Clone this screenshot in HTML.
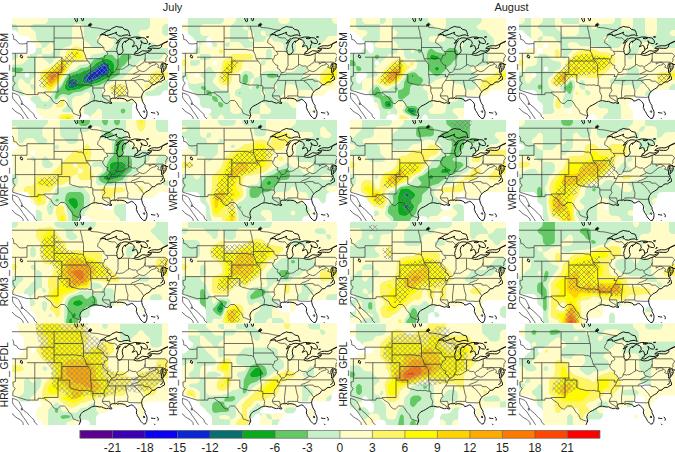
<!DOCTYPE html>
<html><head><meta charset="utf-8"><style>
html,body{margin:0;padding:0;background:#fff;}
body{width:675px;height:452px;overflow:hidden;}
svg{display:block;font-family:"Liberation Sans",sans-serif;}
</style></head><body>
<svg width="675" height="452" viewBox="0 0 675 452">
<defs>
<path id="geo" d="M-39.0 8.2 L76.5 8.2 L76.5 6.7 L77.9 7.0 L78.7 9.3 L81.8 9.7 L84.9 9.9 L87.2 10.3 L90.7 11.1 L93.4 11.7 L98.0 12.1 M0.5 74.8 L3.6 75.9 L5.5 76.7 L7.1 78.3 L8.2 80.6 L9.4 82.9 L10.6 85.6 L12.1 87.2 L15.6 89.9 L17.1 91.8 L19.5 94.1 L21.8 96.1 L22.6 98.8 L25.3 101.1 L26.8 103.0 M0.5 74.8 L0.3 77.9 L1.1 80.6 L3.6 83.7 L5.3 85.8 L7.9 88.3 L10.3 92.2 L11.4 93.7 L13.9 97.2 L16.4 101.1 L17.5 103.0 M-1.0 88.3 L-0.3 90.1 L1.3 91.0 L2.4 92.6 L5.1 94.5 L8.2 96.1 L11.0 99.1 L11.3 102.6 M9.4 84.8 L10.6 86.4 L9.2 86.6 L9.4 84.8Z M0.8 71.2 L0.5 72.1 L14.9 76.6 L26.0 76.6 L26.0 74.8 L32.5 74.8 L33.8 76.3 L38.6 79.4 L40.8 83.3 L43.1 85.2 L45.2 85.7 L46.2 84.8 L48.5 82.5 L52.4 82.5 L54.3 84.2 L55.8 86.8 L57.0 88.7 L59.7 91.4 L60.5 93.7 L61.6 95.7 L62.8 95.9 L64.7 96.8 L67.5 97.6 L68.8 97.4 M-4.3 8.2 L-4.3 12.1 L-2.2 14.2 L-0.7 15.2 L1.3 17.3 L1.7 19.8 L1.7 21.4 L4.4 22.1 L5.9 24.5 L7.5 25.6 L9.8 26.0 L13.7 25.6 L15.0 25.6 M15.0 25.6 L15.0 35.3 M15.0 23.7 L42.1 23.7 M15.0 25.6 L15.0 23.7 M42.1 8.2 L42.1 39.2 M-8.0 35.3 L15.0 35.3 M3.4 35.3 L3.4 58.1 M3.4 58.1 L0.9 58.5 L1.2 62.0 L1.2 62.8 L3.2 65.1 L0.9 68.6 L0.8 71.2 M15.0 39.2 L49.8 39.2 M22.8 39.2 L22.8 76.6 M3.4 54.6 L49.8 54.6 M49.8 39.2 L49.8 54.6 M46.2 54.6 L46.2 56.6 L46.0 56.6 L46.0 74.0 L32.2 74.0 L32.5 74.8 M46.2 56.6 L57.8 56.6 L57.8 64.1 M57.8 64.1 L59.3 64.7 L60.9 65.5 L63.2 65.9 L65.5 66.6 L68.2 67.2 L70.9 66.8 L72.5 67.2 L74.8 66.8 L77.5 67.6 L79.1 67.6 L80.8 68.0 M49.8 43.0 L76.0 43.0 M42.1 31.4 L63.6 31.4 M63.6 31.4 L67.5 32.2 L69.4 32.0 L71.5 33.4 L72.5 35.3 L73.3 37.2 L73.8 39.2 L74.1 40.7 L76.0 43.0 L76.7 43.4 L77.3 45.0 L78.7 46.5 L78.6 54.6 L78.6 56.6 L79.3 60.8 L79.1 67.6 M42.1 20.0 L71.1 20.0 M71.5 33.4 L71.5 22.5 L71.1 20.0 M71.1 20.0 L70.2 17.5 L69.8 14.0 L68.8 10.9 L68.5 8.2 M71.5 29.5 L91.8 29.5 M91.8 29.5 L89.1 26.8 L86.4 25.2 L85.6 24.7 L86.0 21.7 L87.6 19.8 L88.4 17.1 M91.8 29.5 L92.0 31.4 L94.0 33.4 L95.7 34.9 L95.7 36.3 L94.5 37.2 L92.6 37.6 L92.2 39.9 L91.0 41.6 L90.7 43.0 L91.8 44.6 L93.8 46.9 L95.9 47.5 L95.8 48.3 L95.1 50.0 L98.0 51.9 L98.4 53.5 L99.8 54.6 L98.4 56.6 L97.8 58.1 L96.9 60.1 L95.5 62.4 L94.2 64.3 L92.6 66.3 L92.2 68.2 L92.0 70.1 L93.0 72.8 L90.9 75.5 L90.3 77.9 L91.4 79.8 L94.9 81.7 L97.6 83.7 L99.2 85.2 M74.1 40.7 L89.8 40.7 L91.0 41.6 M78.6 56.6 L95.9 56.6 L95.0 58.5 L97.6 58.5 M80.8 68.0 L80.8 70.0 L80.8 74.0 L82.7 77.9 L82.1 81.7 L81.6 82.9 M80.8 70.0 L92.0 70.0 M90.3 77.9 L97.5 77.9 L98.3 81.0 M95.5 62.4 L118.5 62.4 M103.4 62.4 L103.8 62.8 L102.5 74.0 L102.6 77.9 L102.7 80.2 M113.5 62.4 L114.1 66.3 L115.1 70.7 L116.0 72.8 L115.6 75.9 L115.8 77.9 L116.4 79.0 L127.2 79.4 L129.6 78.9 M105.8 77.9 L115.8 77.9 M105.8 77.9 L106.2 80.6 M123.2 62.4 L122.4 63.5 L124.1 64.5 L126.5 66.6 L127.6 68.3 L129.4 70.1 L130.5 72.1 L131.9 73.8 M118.5 62.4 L123.2 62.4 M123.2 62.4 L125.9 61.6 L131.1 61.6 L131.6 61.8 L132.1 63.1 L136.5 63.2 L140.8 66.8 M118.5 62.4 L120.1 60.6 L121.6 60.3 L123.2 59.7 L125.5 58.7 L127.1 58.1 L127.8 57.4 L128.7 56.2 M151.2 56.4 L128.7 56.4 L120.9 56.2 M120.9 56.2 L103.9 56.1 L103.9 56.6 L98.4 56.6 M120.9 56.2 L124.0 54.6 L126.3 53.5 L127.6 52.6 M127.6 52.6 L126.3 51.9 L125.1 50.4 L125.1 49.1 M99.8 54.6 L101.9 54.3 L102.5 53.9 L103.8 52.7 L104.1 51.5 L106.0 51.0 L107.7 51.7 L108.7 51.0 L109.4 51.4 L111.2 50.8 L112.9 49.7 L114.3 48.6 L115.1 48.1 L116.4 47.7 L116.5 46.5 L117.8 46.5 L119.7 47.7 L121.2 48.1 L123.6 47.9 L124.3 48.5 L125.1 49.1 L126.9 47.5 L128.4 47.1 L129.1 45.9 L129.8 45.5 L131.9 44.6 L132.4 42.8 L132.9 41.5 L133.2 40.6 M104.1 51.5 L104.2 50.8 L105.4 48.8 L106.2 47.3 L106.0 45.5 L106.0 36.2 M94.0 33.4 L105.0 33.4 M106.0 36.2 L116.6 36.2 L121.8 36.5 M116.5 46.5 L116.5 36.5 M94.9 17.6 L96.9 19.4 L100.3 20.0 L102.7 19.8 L103.8 20.6 L105.0 21.9 L105.8 23.3 M133.2 44.1 L133.2 35.4 M133.2 44.1 L151.5 44.1 M151.5 44.1 L151.8 49.0 L154.3 49.0 M153.6 50.7 L151.0 50.7 M136.1 34.2 L136.1 35.3 L153.1 35.3 L155.7 37.8 L153.8 40.7 L154.1 43.0 L153.0 43.8 M155.7 37.8 L158.8 39.2 M137.2 44.1 L137.2 46.1 L139.0 45.2 L140.0 44.4 L142.2 44.2 L143.7 45.0 L144.0 45.7 M144.0 45.7 L143.5 46.7 L141.6 47.1 L139.2 47.9 L138.1 49.0 L136.5 50.0 L135.4 51.4 L133.6 52.7 L131.9 53.5 L130.5 53.6 L127.6 52.6 M144.0 45.7 L144.7 45.8 L145.8 46.6 L146.6 47.3 L146.4 48.1 L145.6 49.2 L146.8 49.6 L149.5 50.8"/>
<path id="coast" d="M76.7 8.2 L77.5 5.9 L78.7 5.1 L79.8 6.7 L78.7 7.8 L76.7 8.2Z M68.6 -0.7 L69.8 1.6 L70.2 2.8 L71.3 2.4 L71.7 -0.7 M62.4 -0.7 L63.2 2.0 L64.4 3.9 L65.5 3.2 L65.1 -0.7 M88.4 16.8 L91.4 15.2 L95.2 13.0 L98.2 12.1 L99.6 10.5 L103.1 9.0 L104.2 8.4 L106.9 9.0 L110.4 9.3 L112.3 11.3 L116.2 12.3 L117.2 14.8 L117.4 16.3 L118.3 17.9 L116.6 17.5 L116.0 16.8 L112.0 17.2 L109.4 18.2 L106.5 17.7 L105.3 16.6 L103.8 15.9 L104.7 14.1 L102.3 15.2 L99.1 16.4 L94.9 17.6 L93.0 17.5 L93.4 16.1 L88.4 17.0 L88.4 16.8Z M105.7 35.8 L106.9 36.8 L108.5 36.4 L110.1 34.9 L110.9 33.7 L111.2 32.3 L110.6 30.5 L110.2 27.7 L111.0 24.8 L111.8 24.1 L113.4 22.9 L113.5 24.5 L114.8 22.4 L116.0 22.3 L116.9 20.7 L116.9 20.3 L113.9 19.8 L111.0 20.0 L109.8 21.0 L107.9 20.8 L105.8 23.3 L104.2 25.5 L106.5 24.1 L108.3 22.5 L106.3 25.2 L105.9 27.0 L105.4 28.5 L104.6 31.3 L105.1 32.5 L104.9 33.9 L105.7 35.8Z M116.9 20.7 L117.9 21.2 L120.4 22.1 L121.9 23.5 L122.3 25.9 L121.6 26.6 L120.3 28.9 L122.1 28.1 L123.6 27.4 L124.9 28.1 L125.8 31.4 M125.8 31.4 L128.4 30.3 L128.5 28.5 L128.9 26.9 L129.9 25.6 L128.8 22.7 M128.8 22.7 L130.5 24.1 L131.5 25.3 L134.4 25.6 L135.6 24.7 L135.0 22.3 L132.9 20.0 L129.4 19.6 L125.5 19.0 L122.4 19.0 L120.1 19.6 L118.5 20.0 L116.9 20.3 M128.6 20.0 L126.7 20.8 L124.0 20.4 L125.1 19.8 L128.6 20.0Z M125.8 31.4 L125.5 33.0 L124.0 33.6 L123.2 34.1 L123.0 35.1 M121.8 36.5 L124.7 37.4 L128.6 37.2 L132.1 35.7 L134.9 34.8 L137.8 33.4 L139.4 31.9 L138.1 31.9 L135.0 33.2 L130.5 32.7 L128.0 34.2 L125.5 35.6 L123.0 35.1 L121.8 36.5Z M139.4 31.9 L138.8 30.4 M138.8 30.4 L140.2 30.1 L144.5 30.4 L146.9 30.4 L148.7 29.6 L149.9 27.9 L149.4 27.1 L148.8 26.7 L146.0 27.9 L142.3 27.7 L139.6 28.1 L137.6 28.9 L135.7 30.4 L138.8 30.4Z M149.4 27.1 L151.8 25.2 L155.3 23.7 L159.9 21.7 M148.8 26.7 L152.2 24.8 L155.3 23.3 L159.9 21.4 M136.7 26.4 L137.9 25.2 L138.3 26.0 L136.7 26.4Z M134.4 19.0 L136.3 18.7 L136.7 19.0 L135.2 19.2Z M9.0 36.6 L10.6 38.4 L10.2 40.1 L8.2 38.8 L9.0 36.6Z M131.9 92.6 L132.9 93.5 L132.3 94.5 L131.3 93.5 L131.9 92.6Z M66.7 103.0 L67.1 101.1 L68.8 97.4 L68.2 95.3 L67.8 93.3 L68.6 91.0 L69.2 90.1 L70.9 88.3 L73.3 87.2 L75.6 86.0 L78.1 84.4 L79.5 83.5 L81.6 82.9 L83.7 82.7 L87.6 83.5 L89.5 83.3 L91.8 84.4 L94.5 85.2 L96.3 84.6 L98.8 85.6 L100.0 85.0 L98.4 83.3 L98.0 81.5 L98.8 81.0 L100.3 80.2 L102.7 80.2 L103.8 80.4 L104.2 79.4 L105.4 80.8 L106.2 80.6 L107.3 80.2 L110.0 80.3 L112.7 81.0 L114.3 82.1 L114.7 83.1 L116.2 82.9 L118.2 81.9 L119.7 81.3 L121.2 82.1 L122.8 83.7 L124.0 85.2 L124.7 86.8 L124.3 89.5 L125.1 91.0 L125.3 92.2 L126.5 93.7 L127.4 95.3 L128.2 96.8 L129.0 98.0 L130.7 99.7 L131.7 100.5 L133.6 100.3 L134.0 99.1 L134.7 98.0 L135.0 95.3 L135.0 93.7 L134.0 91.4 L132.9 89.1 L133.1 87.7 L131.7 85.6 L130.5 83.3 L129.8 80.6 L129.6 78.9 L130.0 77.1 L130.5 75.5 L131.9 73.8 L133.6 72.1 L135.6 71.1 L138.3 69.4 L139.4 67.4 L140.8 66.8 L142.9 66.6 L143.5 65.5 L146.0 63.9 L148.7 63.9 L149.9 62.8 L152.5 61.5 L152.4 59.3 L151.4 57.4 L151.2 56.4 L150.7 55.0 L149.5 54.6 L149.5 53.1 L149.5 50.8 L148.9 48.8 L149.1 46.9 L150.3 45.0 L151.0 45.4 L150.3 47.3 L150.7 49.2 L151.4 51.2 L150.9 54.3 L152.2 52.7 L153.6 50.8 L154.3 49.0 L154.1 47.7 L153.0 46.1 L152.4 45.0 L154.1 45.7 L154.9 47.1 L156.7 45.5 L158.0 43.8 L158.4 41.9 L157.6 41.1 L158.8 40.7 M148.3 61.2 L149.9 60.4 L150.7 58.9 L149.9 57.7 M139.0 94.5 L141.4 94.9 L143.3 95.1 M144.9 93.3 L146.4 95.3 L146.0 97.2 M142.1 100.3 L143.7 101.9"/>
<ellipse id="lotw" cx="78.1" cy="6.8" rx="1.3" ry="1.1" fill="#111"/>
<pattern id="hatch" patternUnits="userSpaceOnUse" width="5" height="5"><path d="M-1,-1 L6,6 M6,-1 L-1,6" stroke="#7c7c8c" stroke-width="0.6" fill="none"/></pattern>
<clipPath id="c00"><rect x="0" y="0" width="156" height="101"/></clipPath>
<clipPath id="c01"><rect x="0" y="0" width="155" height="101"/></clipPath>
<clipPath id="c02"><rect x="0" y="0" width="156" height="101"/></clipPath>
<clipPath id="c03"><rect x="0" y="0" width="156" height="101"/></clipPath>
<clipPath id="c10"><rect x="0" y="0" width="156" height="101"/></clipPath>
<clipPath id="c11"><rect x="0" y="0" width="155" height="101"/></clipPath>
<clipPath id="c12"><rect x="0" y="0" width="156" height="101"/></clipPath>
<clipPath id="c13"><rect x="0" y="0" width="156" height="101"/></clipPath>
<clipPath id="c20"><rect x="0" y="0" width="156" height="101"/></clipPath>
<clipPath id="c21"><rect x="0" y="0" width="155" height="101"/></clipPath>
<clipPath id="c22"><rect x="0" y="0" width="156" height="101"/></clipPath>
<clipPath id="c23"><rect x="0" y="0" width="156" height="101"/></clipPath>
<clipPath id="c30"><rect x="0" y="0" width="156" height="101.5"/></clipPath>
<clipPath id="c31"><rect x="0" y="0" width="155" height="101.5"/></clipPath>
<clipPath id="c32"><rect x="0" y="0" width="156" height="101.5"/></clipPath>
<clipPath id="c33"><rect x="0" y="0" width="156" height="101.5"/></clipPath>
</defs>
<g transform="translate(12,18)" clip-path="url(#c00)">
<rect x="0" y="0" width="156" height="101" fill="#C8F0C8"/>
<path fill="#0C00F0" fill-rule="evenodd" d="M91.9,51.0 92.6,51.0 92.0,51.4Z"/>
<path fill="#0A28D2" fill-rule="evenodd" d="M91.0,47.5 93.5,47.2 95.1,49.0 95.6,51.5 94.5,54.0 93.0,55.2 84.0,60.0 78.0,62.2 75.5,63.2 74.4,62.5 74.5,61.4 77.4,56.5 80.0,54.6 84.0,53.0 87.0,49.7ZM92.0,50.9 92.0,51.4 92.5,51.2Z"/>
<path fill="#0A6E6E" fill-rule="evenodd" d="M92.4,44.0 95.1,44.5 96.3,45.5 97.2,47.0 97.9,51.5 96.7,56.0 94.5,57.7 85.5,62.2 76.4,65.5 73.5,65.6 71.1,64.0 70.7,61.5 72.0,57.5 77.0,54.0 81.6,51.5 86.5,46.9ZM91.5,47.3 87.3,49.5 84.0,53.0 80.0,54.6 77.4,56.5 74.3,62.0 75.0,63.1 77.5,62.5 83.0,60.5 94.0,54.5 95.5,52.0 95.5,49.9 93.9,47.5 93.0,47.1ZM62.1,60.5 64.0,60.7 65.5,62.3 65.9,64.0 65.9,67.5 65.4,68.5 63.8,69.5 59.5,70.2 57.0,70.0 56.0,69.0 56.1,64.0 57.5,61.8Z"/>
<path fill="#0AAA1E" fill-rule="evenodd" d="M92.2,41.0 94.5,40.7 98.0,41.6 99.9,43.0 101.6,45.0 102.0,47.0 102.0,54.5 101.1,57.0 98.0,59.0 86.5,64.6 73.0,68.5 67.4,71.0 62.0,72.2 56.0,73.1 54.0,72.0 53.0,70.5 52.8,68.5 54.0,63.5 57.0,59.0 61.5,56.6 66.5,55.4 70.5,53.4 76.5,51.6 79.5,49.7 84.0,45.0ZM92.5,44.0 86.5,46.9 81.6,51.5 77.0,54.0 72.0,57.5 70.7,61.5 71.1,64.0 73.1,65.5 76.0,65.6 85.0,62.5 94.5,57.7 96.7,56.0 97.9,52.0 97.4,47.5 95.5,44.8 94.0,44.0ZM62.5,60.4 58.0,61.6 56.3,63.5 55.8,67.5 56.0,69.0 57.0,70.0 59.0,70.2 63.8,69.5 65.7,68.0 66.0,64.5 65.6,62.5 64.4,61.0Z"/>
<path fill="#64C864" fill-rule="evenodd" d="M98.1,36.5 100.4,37.0 103.5,40.4 105.0,41.3 106.5,40.9 109.0,37.5 111.0,36.2 116.5,36.1 118.0,36.7 119.2,38.0 119.4,39.5 118.9,40.5 115.5,43.0 113.0,46.5 108.7,50.0 108.1,51.5 107.8,56.0 107.3,57.0 87.5,67.2 80.3,68.5 69.0,73.4 61.5,74.6 57.0,77.3 52.0,76.1 49.5,76.3 47.4,77.5 45.0,81.1 43.5,81.2 42.7,80.5 43.5,76.0 44.5,73.8 50.1,67.5 52.7,62.0 57.0,56.1 58.7,55.0 65.0,53.1 69.0,49.9 74.5,49.4 76.0,48.7 78.0,47.0 80.5,43.0 82.0,41.7 87.5,40.1 92.5,37.8ZM92.5,40.9 84.0,45.0 79.5,49.7 76.5,51.6 70.5,53.4 66.5,55.4 61.5,56.6 57.0,59.0 54.0,63.5 52.8,68.5 53.0,70.5 54.0,72.0 56.0,73.1 61.5,72.3 67.4,71.0 73.0,68.5 86.5,64.6 98.0,59.0 101.1,57.0 102.0,54.5 102.0,47.0 101.6,45.0 99.9,43.0 98.0,41.6 94.5,40.7ZM-1.0,50.0 -1.0,49.6 9.5,49.8 11.2,51.0 11.2,52.0 10.5,52.9 8.0,53.9 -1.0,54.0ZM32.0,87.0 33.5,86.8 34.0,87.0 33.9,87.5 32.5,87.7ZM109.6,91.0 111.5,90.6 113.0,91.6 113.4,93.5 112.4,95.0 110.5,95.4 109.0,94.4 108.6,92.5ZM56.2,92.0 57.0,91.6 57.2,92.0 56.5,92.5Z"/>
<path fill="#FFFCC8" fill-rule="evenodd" d="M-1.0,-1.0 36.0,-1.0 35.8,3.0 34.9,4.5 33.7,5.5 31.5,6.0 21.5,6.1 20.0,6.7 18.8,8.0 18.6,9.5 19.1,10.5 22.5,13.0 23.5,14.3 24.4,21.5 25.5,23.0 29.3,26.0 30.0,29.5 29.5,30.0 21.0,30.2 19.5,31.1 18.5,32.3 17.9,38.5 17.3,40.0 11.1,45.5 8.5,46.4 -1.0,46.4 -1.0,42.0 3.0,41.8 4.9,40.5 5.9,38.5 6.0,34.5 5.9,28.0 5.3,26.0 3.0,24.2 -1.0,24.0 -1.0,18.0 2.5,17.9 4.5,16.9 5.8,15.0 6.0,12.0 5.8,9.0 4.5,7.1 2.5,6.1 -1.0,6.0ZM138.0,-1.0 157.0,-1.0 157.0,6.0 153.5,6.1 152.0,6.7 150.7,8.0 150.1,10.0 150.1,14.5 151.1,16.5 153.0,17.8 157.0,18.0 157.0,30.0 153.0,30.0 147.0,29.8 145.0,28.5 143.0,25.5 141.5,24.4 134.3,23.5 133.0,22.5 130.5,19.0 126.8,16.0 126.6,14.5 128.0,12.7 129.5,12.1 135.0,11.8 137.3,10.0 138.0,7.5ZM62.3,6.5 64.0,6.1 68.0,6.1 69.5,6.4 71.0,7.6 71.9,10.0 72.0,19.5 72.4,21.5 73.5,23.0 77.0,25.5 79.0,28.5 80.3,29.5 82.0,29.9 86.0,29.9 87.7,29.5 89.0,28.4 89.5,27.0 89.2,26.0 85.5,22.9 84.5,21.0 85.6,19.0 88.0,18.1 97.5,18.0 100.0,18.7 101.3,20.0 101.9,21.5 102.0,25.5 101.5,27.7 100.5,29.0 93.9,34.0 87.0,35.8 82.0,36.1 80.0,36.7 78.0,39.0 76.3,44.5 75.0,46.0 67.6,47.0 66.0,48.0 63.2,51.5 57.5,52.9 52.7,59.0 49.0,65.5 44.4,69.5 42.4,73.0 38.2,78.5 37.2,81.5 36.0,83.0 33.5,83.8 30.5,83.3 29.1,82.0 27.5,78.6 24.5,78.0 21.5,78.1 20.0,78.7 16.0,83.2 14.5,83.4 13.5,82.9 12.2,81.0 11.5,74.3 10.5,73.0 7.5,71.0 6.2,69.0 6.0,64.5 6.5,62.3 8.0,60.8 9.5,60.6 10.9,61.5 14.0,65.3 16.0,65.9 18.0,65.8 18.7,62.0 22.5,59.0 23.8,57.0 24.1,39.5 24.7,38.0 26.0,36.7 30.0,36.0 30.0,30.0 34.0,29.3 37.1,25.5 38.5,24.6 40.0,24.8 41.5,26.3 41.9,28.0 41.9,32.0 41.6,33.5 40.5,34.9 38.5,35.9 30.5,36.0 30.0,36.5 30.3,39.0 31.1,40.5 34.5,43.0 36.9,45.5 38.5,45.9 40.0,45.0 42.5,41.6 47.4,38.5 47.9,37.5 48.2,33.0 49.5,31.0 51.5,29.8 57.0,28.3 59.1,27.0 60.0,25.0 60.1,9.5 61.0,7.6ZM62.5,28.9 54.7,33.0 54.1,34.5 53.8,38.0 53.2,39.0 46.0,42.7 39.0,49.1 30.5,52.7 28.7,54.5 28.1,56.5 28.2,58.5 29.8,63.5 30.5,69.0 36.5,72.9 38.9,73.5 40.5,72.5 43.7,68.0 48.0,64.2 51.5,58.0 55.4,53.0 58.0,47.8 60.3,45.0 63.0,43.7 70.0,43.2 71.5,42.4 72.7,41.0 73.3,39.0 73.2,37.0 72.2,33.5 71.0,31.5 67.5,29.4 64.5,28.7ZM18.5,66.0 18.0,66.5 18.1,68.0 19.0,70.4 20.5,71.4 22.5,70.9 23.5,69.0 22.9,67.5 21.0,66.3ZM31.5,74.4 31.0,75.0 31.5,75.9 34.1,76.0 34.6,75.5 33.9,74.5 32.5,74.1ZM155.8,36.0 157.0,36.0 157.0,54.0 153.5,53.9 148.0,52.6 145.5,52.7 140.5,54.3 139.0,55.5 138.2,57.0 138.0,65.5 138.5,66.0 141.0,65.8 147.0,64.2 151.0,60.0 153.5,58.6 157.0,58.4 157.0,61.5 153.0,62.0 149.5,66.4 145.2,68.5 141.9,71.5 139.5,72.6 134.0,74.0 132.8,75.0 133.1,76.5 136.5,79.0 137.6,80.5 138.1,86.5 138.7,88.0 143.0,91.5 143.9,93.5 144.0,102.0 138.0,102.0 137.8,99.0 136.5,97.0 133.5,95.0 131.0,91.5 127.5,89.0 125.0,85.5 123.0,84.2 100.5,84.0 98.0,83.3 95.0,79.5 90.7,76.0 90.1,74.0 90.2,70.0 92.2,68.0 103.5,62.3 109.8,60.5 112.0,59.4 115.0,55.5 118.5,53.0 121.0,49.5 124.5,47.0 127.0,43.5 128.3,42.5 130.5,42.0 147.0,41.8 149.0,40.5 152.0,36.7ZM104.0,66.5 98.5,68.0 97.2,69.0 96.9,70.0 97.6,71.0 101.0,73.5 103.5,77.0 106.5,78.0 110.5,77.9 112.9,76.5 113.9,74.5 113.9,69.5 112.9,67.5 111.0,66.2 106.5,66.0ZM134.5,66.5 133.1,67.5 132.8,69.0 134.0,69.9 135.5,70.0 137.5,68.5 138.0,66.5 137.5,66.0ZM74.7,74.0 76.0,74.0 77.5,75.0 78.0,76.5 77.9,80.0 77.0,82.5 73.5,85.0 72.2,87.0 72.0,102.0 62.1,102.0 61.8,98.5 60.7,97.0 58.5,96.2 54.0,96.0 50.5,96.1 48.0,97.0 46.6,99.0 46.5,102.0 6.0,102.0 6.1,99.5 6.7,98.0 10.5,95.0 12.3,92.5 14.0,90.7 16.0,90.1 26.0,90.1 33.0,91.4 37.5,90.6 39.5,89.2 41.5,85.4 46.0,83.3 49.5,79.1 51.5,78.4 53.5,79.2 55.2,81.0 55.5,86.0 54.4,88.5 50.3,92.0 49.8,93.0 51.5,93.9 54.5,94.5 59.5,94.3 60.8,93.5 61.3,92.5 60.0,85.5 60.1,82.0 60.7,80.5 63.5,78.2 69.5,77.6 72.7,75.0ZM50.5,81.5 48.5,84.6 44.4,87.0 44.1,88.0 44.5,88.9 46.0,89.4 50.5,88.3 52.0,87.0 52.4,85.0 52.2,82.0 51.5,81.2ZM85.6,91.0 87.5,90.6 89.6,92.5 90.0,94.5 90.0,102.0 82.0,102.0 78.0,102.0 78.2,99.0 79.5,97.0 83.0,94.5Z"/>
<path fill="#FFF564" fill-rule="evenodd" d="M62.2,29.0 64.0,28.7 67.0,29.2 69.5,30.3 71.0,31.5 72.2,33.5 73.2,37.0 73.3,39.0 72.7,41.0 71.5,42.4 70.0,43.2 63.0,43.7 60.3,45.0 58.0,47.8 55.4,53.0 51.5,58.0 48.0,64.2 43.7,68.0 40.5,72.5 39.0,73.5 36.5,72.9 30.5,69.0 29.8,63.5 28.2,58.5 28.1,56.5 28.7,54.5 30.5,52.7 39.0,49.1 46.0,42.7 53.2,39.0 53.8,38.0 54.1,34.5 54.7,33.0ZM63.0,32.0 61.5,32.5 60.2,34.0 60.2,38.5 61.0,39.5 62.5,40.2 67.0,40.4 69.5,39.6 69.9,38.5 69.6,37.5 65.5,33.0ZM50.5,42.4 47.1,44.5 40.5,50.7 33.0,54.0 30.7,56.0 30.6,58.5 33.4,63.0 34.5,68.5 36.0,70.1 38.5,71.4 40.0,70.7 42.9,67.0 46.8,63.5 50.1,57.5 54.6,52.0 55.2,49.5 55.2,44.5 53.5,42.7ZM143.9,53.0 147.5,52.6 153.5,53.9 157.0,54.0 157.0,58.4 152.5,59.0 150.5,60.5 148.5,62.9 146.0,64.5 140.0,65.9 138.5,66.0 138.0,65.5 138.0,58.5 138.4,56.5 140.5,54.3ZM146.0,56.2 145.0,57.0 144.9,58.0 146.0,59.1 147.2,59.0 148.3,58.0 148.6,57.0 147.5,56.1ZM103.9,66.5 106.5,66.0 111.0,66.2 112.5,67.1 113.8,69.0 113.9,74.0 113.0,76.4 111.0,77.8 107.0,78.0 105.0,77.8 103.6,77.0 101.0,73.5 97.6,71.0 96.9,70.0 97.2,69.0 98.5,68.0ZM134.4,66.5 137.5,66.0 138.0,66.5 137.5,68.5 136.0,69.8 134.3,70.0 132.8,69.0 133.1,67.5ZM50.5,81.5 51.5,81.2 52.2,82.0 52.4,85.0 52.0,87.0 50.5,88.3 46.5,89.3 45.5,89.4 44.5,88.9 44.1,88.0 44.4,87.0 48.5,84.6ZM53.8,96.0 59.0,96.3 61.3,97.5 62.0,99.0 62.1,102.0 60.0,102.0 59.8,99.5 59.0,98.3 57.4,97.5 55.0,97.4 50.5,98.6 49.6,100.0 49.5,102.0 46.5,102.0 46.6,99.0 48.0,97.0 50.5,96.1Z"/>
<path fill="#FFFA00" fill-rule="evenodd" d="M62.9,32.0 65.5,33.0 69.5,37.2 69.9,38.5 69.6,39.5 67.5,40.4 63.0,40.3 60.5,39.0 60.0,37.5 60.2,34.0 61.5,32.5ZM50.3,42.5 53.0,42.5 55.0,44.1 55.3,49.0 54.6,52.0 50.1,57.5 46.8,63.5 42.9,67.0 40.0,70.7 38.5,71.4 36.5,70.5 34.3,68.0 33.4,63.0 30.5,58.0 30.7,56.0 33.0,54.0 40.5,50.7 47.1,44.5ZM50.0,44.9 42.7,51.5 35.0,54.9 33.0,56.5 32.8,58.0 34.7,61.5 36.4,67.0 37.4,68.5 38.5,69.1 39.5,68.8 45.0,63.5 49.3,56.0 53.3,52.0 53.8,49.5 53.0,46.1 51.5,44.7ZM145.5,56.5 147.0,56.0 148.3,56.5 148.6,57.5 147.5,58.8 146.5,59.2 145.2,58.5 144.9,57.5ZM54.3,97.5 57.5,97.5 59.6,99.0 60.0,102.0 57.8,102.0 57.2,99.5 55.5,99.3 54.4,100.0 54.0,102.0 49.5,102.0 49.6,100.0 50.5,98.6Z"/>
<path fill="#FFD200" fill-rule="evenodd" d="M49.8,45.0 51.5,44.7 53.0,46.1 53.8,49.5 53.3,52.0 49.3,56.0 45.4,63.0 39.5,68.8 38.5,69.1 37.5,68.6 36.4,67.0 34.7,61.5 32.8,58.0 33.0,56.5 35.0,54.9 42.7,51.5ZM50.0,47.8 45.5,52.5 37.5,55.5 35.5,57.0 35.5,58.5 38.0,65.6 39.5,66.1 44.0,62.1 46.4,58.5 48.0,54.0 51.0,52.7 52.0,51.7 52.4,50.5 52.0,48.8 51.0,47.7ZM55.0,99.5 56.5,99.2 57.5,99.9 57.8,102.0 57.0,102.0 54.0,102.0 54.2,100.5Z"/>
<path fill="#FFAA00" fill-rule="evenodd" d="M49.7,48.0 51.0,47.7 51.8,48.5 52.4,50.0 52.0,51.7 51.0,52.7 48.0,54.0 46.4,58.5 44.0,62.1 40.0,65.7 39.0,66.2 38.4,66.0 37.0,63.5 35.3,58.0 35.5,57.0 37.5,55.5 45.5,52.5ZM40.0,56.5 38.7,57.0 38.0,58.0 38.5,61.5 39.5,62.9 41.0,61.3 44.5,58.0 44.8,57.0 44.0,56.1Z"/>
<path fill="#FF7800" fill-rule="evenodd" d="M39.9,56.5 43.5,56.0 44.7,56.5 44.5,58.0 41.2,61.0 39.5,62.9 38.5,61.6 38.0,58.0 38.7,57.0Z"/>
<path fill="#FFFFFF" fill-rule="evenodd" d="M-1.0,12.5 -1.0,12.0 3.5,12.4 5.0,13.5 7.0,16.5 8.3,17.5 14.5,18.1 16.5,19.0 19.0,22.5 22.5,25.0 23.6,26.5 23.9,32.0 23.6,33.5 22.5,34.9 19.5,36.0 -1.0,36.0ZM13.6,55.0 15.5,54.6 17.0,55.6 17.4,57.5 16.4,59.0 14.5,59.4 13.0,58.4 12.6,56.5ZM-1.0,72.5 -1.0,72.0 3.5,72.4 5.0,73.5 7.0,76.5 8.3,77.5 14.5,78.1 16.5,79.0 19.0,82.5 23.3,86.0 23.9,87.5 24.4,93.5 25.5,95.0 29.3,98.0 29.9,99.5 30.0,102.0 -1.0,102.0ZM152.3,72.5 157.0,72.0 157.0,102.0 124.5,102.0 120.0,102.0 120.0,88.5 121.1,85.5 123.0,84.2 129.7,83.5 131.0,82.5 133.0,79.5 135.0,78.2 147.5,77.6 149.0,76.5 151.0,73.5ZM68.3,96.5 73.0,96.0 76.0,96.7 77.6,98.5 78.0,102.0 76.0,102.0 66.0,102.0 66.4,98.5Z"/>

<polygon points="26.6,62.4 39.3,49.7 50.8,39.3 60.1,33.5 67.0,34.7 62.4,42.8 50.8,53.2 41.6,62.4 34.7,69.3 27.7,69.3" fill="url(#hatch)"/>
<polygon points="54.3,61.2 60.1,55.5 69.3,54.3 78.6,48.5 87.8,43.9 94.8,45.1 97.1,50.8 92.4,57.8 83.2,64.7 74.0,67.0 64.7,67.0 57.8,69.3 54.3,67.0" fill="url(#hatch)"/>
<polygon points="99.4,68.2 108.6,65.9 115.6,69.3 115.6,77.4 106.3,78.6 99.4,76.3" fill="url(#hatch)"/>
<polygon points="136.4,58.9 143.3,55.5 151.4,56.6 150.2,64.7 141.0,67.0 136.4,64.7" fill="url(#hatch)"/>
<use href="#geo" fill="none" stroke="#333" stroke-width="0.7" stroke-linejoin="round"/>
<use href="#coast" fill="none" stroke="#151515" stroke-width="1.0" stroke-linejoin="round"/>
<use href="#lotw"/>

</g>
<text x="8.3" y="102.7" transform="rotate(-90 8.3 102.7)" text-anchor="start" font-size="10.25" fill="#231f20">CRCM<tspan dx="1.5">_</tspan><tspan dx="1.5">CCSM</tspan></text>
<g transform="translate(182,18)" clip-path="url(#c01)">
<rect x="0" y="0" width="155" height="101" fill="#C8F0C8"/>
<path fill="#64C864" fill-rule="evenodd" d="M86.3,56.0 90.0,55.6 93.7,56.0 95.2,57.5 94.8,58.5 93.6,59.5 91.0,60.0 86.5,59.6 85.2,58.5 84.8,57.5ZM62.4,56.5 63.5,56.1 64.5,56.3 65.5,57.2 66.0,58.5 65.7,63.5 65.0,65.2 63.8,66.5 62.5,66.7 61.6,66.0 60.2,63.0 61.0,58.6ZM75.1,67.0 76.5,67.2 77.3,68.5 77.1,69.5 76.0,70.7 75.0,71.0 74.0,69.7 74.2,68.0ZM20.6,68.0 22.5,68.3 23.7,69.5 24.0,71.5 23.5,72.0 22.0,71.9 20.0,71.3 18.9,70.0 19.0,69.0ZM24.0,72.5 24.5,72.0 26.0,72.1 28.5,73.1 29.7,75.0 30.0,77.5 29.5,78.0 28.0,77.9 25.5,76.9 24.3,75.0ZM56.9,74.5 58.4,74.5 58.5,75.4 57.0,75.6ZM30.0,78.5 30.5,78.0 32.0,78.1 34.5,79.1 35.7,81.0 36.0,83.5 35.5,84.0 34.0,83.9 31.5,82.9 30.3,81.0ZM36.0,84.5 36.5,84.0 38.0,84.1 40.4,85.0 41.4,86.5 40.9,88.5 39.0,89.5 37.5,88.9 36.3,87.0Z"/>
<path fill="#FFFCC8" fill-rule="evenodd" d="M-1.0,-1.0 6.0,-1.0 5.9,14.0 5.6,15.5 4.4,17.0 2.5,17.9 -1.0,18.0ZM42.0,-1.0 54.0,-1.0 53.9,2.5 53.3,4.0 49.5,7.0 48.2,9.0 48.0,23.5 48.5,24.0 55.5,24.0 57.5,24.4 59.0,25.5 61.5,29.0 63.5,29.9 69.5,29.6 71.0,28.4 71.8,26.5 72.0,24.0 68.5,23.5 66.4,21.5 66.0,19.5 66.0,12.5 66.5,12.0 69.5,12.5 71.6,14.5 72.0,16.5 72.0,24.0 79.5,24.0 81.5,23.6 83.5,21.5 84.0,18.2 87.0,18.3 89.0,19.5 91.0,22.5 92.5,23.6 98.5,24.1 100.5,25.1 101.8,27.0 102.5,33.7 104.0,35.3 106.0,35.9 111.0,35.8 113.3,34.0 114.0,31.5 114.1,21.5 115.0,19.6 116.5,18.6 118.0,18.8 119.5,20.3 120.2,27.0 122.0,29.3 124.5,30.0 133.0,30.0 135.0,29.8 136.5,29.0 139.0,25.5 142.5,23.0 145.0,19.5 146.3,18.5 148.5,18.0 156.0,18.0 156.0,46.5 150.5,46.9 146.0,48.6 138.6,56.0 138.1,57.5 138.0,60.0 138.2,63.0 139.0,65.2 140.5,66.9 142.5,67.5 146.5,67.5 148.5,67.0 150.4,65.5 152.5,62.3 154.0,61.6 156.0,61.5 156.0,102.0 120.0,102.0 120.0,90.0 112.5,90.0 110.5,89.6 109.0,88.5 106.0,84.7 104.5,84.1 98.5,83.6 97.1,82.5 96.5,81.0 97.5,79.1 101.3,76.0 101.9,74.0 102.2,69.0 103.1,67.5 104.5,66.4 106.5,66.0 111.0,66.2 113.0,67.5 116.0,71.3 117.5,71.9 120.5,72.0 134.5,71.9 136.4,71.0 137.4,69.5 135.5,62.0 134.5,60.5 133.0,60.0 123.5,59.9 121.0,58.4 120.5,57.0 121.0,55.6 124.4,53.0 125.4,51.5 124.9,49.5 123.0,48.2 118.5,48.0 116.5,48.4 115.0,49.5 112.5,53.0 110.0,53.9 100.0,53.9 92.5,52.5 84.0,53.0 80.1,54.5 76.5,58.9 73.5,60.0 72.5,60.0 72.0,59.5 71.5,56.5 69.8,54.5 66.5,53.1 63.0,52.8 60.0,55.0 58.4,58.0 58.0,63.5 59.1,69.0 58.2,70.0 54.0,72.0 52.7,74.5 53.0,76.5 54.0,78.0 58.5,80.1 59.8,81.5 59.8,93.0 58.9,94.5 57.5,95.6 52.5,96.0 50.0,95.3 48.2,93.0 48.0,76.5 47.5,74.3 46.5,73.1 45.0,72.2 40.0,71.9 38.0,71.3 31.1,64.5 30.6,62.5 33.7,58.5 34.0,56.0 33.2,54.5 31.0,52.5 28.4,49.0 27.0,48.5 25.5,49.1 23.0,52.5 18.8,56.0 18.6,57.5 19.1,58.5 23.0,61.7 23.3,62.5 22.8,63.5 21.0,64.4 14.0,65.9 9.5,65.9 7.5,64.9 6.2,63.0 5.9,57.5 5.0,55.6 3.0,54.2 -1.0,54.0 -1.0,48.0 3.0,47.5 3.8,46.5 4.2,45.0 3.8,43.5 3.0,42.5 -1.0,42.0 -1.0,24.0 2.5,24.1 4.0,24.7 7.5,29.0 11.0,31.5 13.5,34.9 15.0,35.7 17.5,36.0 18.0,35.5 18.1,27.5 19.1,25.5 21.5,24.1 29.5,24.0 30.0,23.5 29.5,20.5 28.0,18.7 26.5,18.1 21.0,17.8 19.0,16.4 18.0,13.5 18.1,10.0 18.7,8.0 20.0,6.7 22.0,6.1 37.0,6.0 39.5,5.6 41.6,3.5ZM44.5,24.5 43.1,25.5 42.7,27.0 44.3,29.0 46.0,29.2 47.5,27.5 48.0,24.5 47.5,24.0ZM54.5,36.0 50.3,36.5 46.8,39.5 43.0,41.2 41.5,42.6 40.5,45.0 39.5,52.0 37.8,56.0 36.6,61.5 36.8,63.5 38.5,65.4 40.5,66.6 43.5,67.3 45.5,67.3 47.5,66.4 48.8,65.0 49.4,63.0 50.0,57.0 51.5,55.7 56.0,54.3 59.0,51.5 59.8,50.0 60.1,45.5 61.1,43.5 63.5,42.1 69.5,41.6 71.4,39.5 70.9,37.5 68.5,36.1ZM80.5,42.5 78.8,44.0 78.6,45.5 80.0,47.2 82.0,47.2 83.5,45.5 84.0,42.5 83.5,42.0ZM86.0,30.8 84.7,32.0 84.1,33.5 84.0,41.5 84.5,42.0 87.6,41.5 88.9,40.5 89.8,39.0 89.9,33.5 88.4,31.0 87.0,30.5ZM116.5,78.4 114.6,80.5 115.0,82.4 119.3,86.0 120.0,90.0 123.6,89.5 125.0,88.4 125.9,86.5 125.9,82.0 125.3,80.0 124.0,78.7 122.5,78.1ZM9.5,42.2 8.5,43.0 7.9,44.5 8.0,46.1 9.0,47.5 12.0,48.0 15.7,47.5 16.9,46.5 17.7,45.0 18.0,42.5 17.5,42.0ZM18.5,36.0 18.0,36.5 18.0,40.5 18.0,41.5 18.5,42.0 26.0,41.9 28.4,41.0 29.2,40.0 29.4,38.5 27.5,36.4 25.5,36.0ZM30.5,24.0 30.0,24.5 30.1,26.0 31.1,28.5 32.5,29.3 34.3,28.5 35.3,27.0 34.9,25.5 33.0,24.3ZM38.5,31.0 37.2,32.0 36.7,33.5 37.7,35.0 39.5,35.4 40.9,34.5 41.3,33.0 40.0,31.3ZM96.0,-1.0 108.0,-1.0 107.9,2.5 106.9,4.5 105.5,5.6 104.0,5.9 98.5,5.6 96.4,3.5ZM150.0,-1.0 156.0,-1.0 156.0,6.0 153.0,5.8 151.1,4.5 150.1,2.5ZM61.6,7.0 63.5,6.6 65.3,8.0 66.0,11.5 65.0,12.0 62.5,11.5 61.0,10.4 60.6,8.5ZM79.6,13.0 81.5,12.6 83.3,14.0 84.0,17.5 83.0,18.0 80.5,17.5 79.0,16.4 78.6,14.5ZM69.8,60.5 71.5,60.0 72.0,60.5 72.0,61.5 70.2,69.5 69.0,71.2 67.5,70.9 66.6,69.0 68.5,62.2ZM91.6,67.0 93.5,66.6 95.0,67.6 95.4,69.5 94.4,71.0 92.5,71.4 91.0,70.4 90.6,68.5ZM80.3,73.0 82.0,72.8 83.4,74.5 83.2,76.0 82.0,77.2 80.5,77.4 78.8,76.0 78.9,74.5ZM79.6,85.0 81.0,84.5 82.5,85.1 85.0,88.5 88.9,91.5 89.4,93.5 87.7,95.5 85.5,96.0 78.5,96.0 78.0,95.5 78.1,87.5ZM19.5,96.0 26.5,96.1 28.0,96.7 29.3,98.0 29.9,99.5 30.0,102.0 23.5,102.0 12.0,102.0 12.2,99.0 13.6,97.0 15.5,96.1ZM73.5,96.0 77.5,96.0 78.0,96.5 78.0,102.0 71.0,102.0 66.0,102.0 66.4,98.5 67.5,97.1 69.0,96.2ZM37.6,97.0 39.5,96.6 41.3,98.0 41.9,99.5 42.0,102.0 40.5,102.0 36.0,102.0 36.2,99.0Z"/>
<path fill="#FFF564" fill-rule="evenodd" d="M38.5,31.0 40.0,31.3 41.3,33.0 41.0,34.3 40.0,35.2 38.5,35.4 36.8,34.0 36.9,32.5ZM54.0,36.0 68.5,36.1 70.9,37.5 71.4,39.5 69.5,41.6 63.5,42.1 61.1,43.5 60.1,45.5 59.9,49.5 59.4,51.0 56.0,54.3 52.0,55.5 50.4,56.5 49.7,58.0 49.5,62.5 49.0,64.5 48.0,66.0 46.5,67.0 44.5,67.4 41.0,66.7 39.0,65.8 36.8,63.5 36.6,62.0 37.8,56.0 39.7,51.5 40.5,45.0 41.5,42.6 43.0,41.2 46.8,39.5 50.3,36.5ZM50.5,42.4 44.5,44.2 43.4,45.5 42.5,48.5 42.0,52.0 42.2,62.0 43.5,63.6 44.5,63.9 45.5,63.6 46.3,62.0 46.5,58.0 47.2,56.0 49.5,53.6 53.0,51.3 53.8,50.0 54.0,46.5 53.6,44.5 52.4,43.0ZM-1.0,42.5 -1.0,42.0 1.5,42.0 3.5,43.0 4.2,45.0 3.5,47.0 2.0,47.9 -1.0,48.0ZM153.3,46.5 156.0,46.5 156.0,49.5 153.0,49.7 150.5,51.0 145.5,55.6 141.5,60.1 140.7,61.5 140.7,63.0 142.0,64.3 146.5,64.2 148.0,63.2 150.0,60.0 153.0,58.6 156.0,58.5 156.0,61.0 156.0,61.5 154.0,61.6 152.5,62.3 150.0,66.0 148.5,67.0 146.5,67.5 141.0,67.2 139.2,65.5 138.2,63.0 138.1,57.5 139.0,55.5 146.5,48.3 149.5,47.1Z"/>
<path fill="#FFFA00" fill-rule="evenodd" d="M50.1,42.5 52.0,42.7 53.6,44.5 54.0,46.5 53.8,50.0 53.0,51.3 49.5,53.6 47.2,56.0 46.5,58.0 46.3,62.0 45.6,63.5 44.5,63.9 43.5,63.6 42.2,62.0 42.0,52.0 42.5,48.5 43.4,45.5 44.5,44.2ZM45.5,49.2 44.8,50.0 44.7,51.5 45.5,52.4 46.3,52.0 47.1,51.0 47.1,50.0 46.5,49.3ZM152.1,50.0 156.0,49.5 156.0,58.5 153.0,58.6 151.0,59.2 149.6,60.5 147.5,63.7 145.0,64.4 142.5,64.4 141.0,63.6 140.6,62.5 141.0,60.9 145.6,55.5Z"/>
<path fill="#FFD200" fill-rule="evenodd" d="M45.1,49.5 46.0,49.1 47.0,49.8 47.1,51.0 46.5,51.9 45.5,52.4 44.8,52.0 44.6,51.0Z"/>
<path fill="#FFFFFF" fill-rule="evenodd" d="M-1.0,-1.0 6.0,-1.0 5.8,3.0 4.4,5.0 2.5,5.9 -1.0,6.0ZM-1.0,12.0 2.5,12.1 4.4,13.0 7.0,16.5 10.5,19.0 13.0,22.5 16.9,25.5 17.5,27.0 17.0,28.4 13.0,31.5 11.0,34.5 9.0,35.8 -1.0,36.0ZM25.6,19.0 27.0,18.5 28.0,18.8 29.8,21.0 29.9,26.5 28.4,29.0 27.0,29.5 26.0,29.2 24.2,27.0 24.1,21.5ZM31.6,43.0 33.5,42.6 35.0,43.6 35.4,45.5 34.4,47.0 32.5,47.4 31.0,46.4 30.6,44.5ZM13.6,55.0 15.5,54.6 17.0,55.6 17.4,57.5 16.4,59.0 14.5,59.4 13.0,58.4 12.6,56.5ZM-1.0,60.5 -1.0,60.0 3.0,60.2 5.3,62.0 5.9,63.5 6.5,69.7 7.5,71.0 11.0,73.5 13.5,77.0 17.3,80.0 17.9,82.0 18.1,86.5 19.1,88.5 21.5,89.9 27.0,90.2 29.0,91.6 29.5,93.0 29.0,94.4 25.0,97.6 24.1,99.5 24.0,102.0 -1.0,102.0ZM151.5,72.0 156.0,72.0 156.0,102.0 118.5,102.0 114.0,102.0 114.1,88.0 115.0,85.5 119.0,82.5 121.5,79.0 124.0,78.1 141.0,77.8 143.0,76.5 146.0,72.7 148.0,72.1ZM128.0,90.8 126.6,92.5 126.8,94.0 128.5,95.4 130.0,95.2 131.4,93.5 131.2,92.0 129.5,90.6Z"/>

<polygon points="39.3,63.6 38.1,57.8 41.6,52.0 46.2,45.1 52.0,41.1 56.6,42.8 54.3,48.5 48.5,54.3 43.9,61.2 41.6,64.7" fill="url(#hatch)"/>
<use href="#geo" fill="none" stroke="#333" stroke-width="0.7" stroke-linejoin="round"/>
<use href="#coast" fill="none" stroke="#151515" stroke-width="1.0" stroke-linejoin="round"/>
<use href="#lotw"/>

</g>
<text x="177.2" y="103.0" transform="rotate(-90 177.2 103.0)" text-anchor="start" font-size="10.25" fill="#231f20">CRCM<tspan dx="1.5">_</tspan><tspan dx="1.5">CGCM3</tspan></text>
<g transform="translate(350,18)" clip-path="url(#c02)">
<rect x="0" y="0" width="156" height="101" fill="#C8F0C8"/>
<path fill="#0A6E6E" fill-rule="evenodd" d="M37.7,85.0 39.0,84.8 40.0,85.8 40.2,87.0 39.4,88.0 38.0,88.1 36.8,87.0 36.9,86.0ZM61.3,91.5 63.0,91.3 64.2,92.0 64.5,93.5 63.5,94.5 62.0,94.6 60.3,93.5 60.1,92.5Z"/>
<path fill="#0AAA1E" fill-rule="evenodd" d="M80.9,37.0 82.5,36.7 88.0,38.1 89.2,39.5 88.0,41.3 85.5,42.0 81.5,41.6 80.0,39.5 80.2,38.0ZM85.7,49.0 87.5,48.6 89.0,49.7 89.3,51.0 88.0,52.7 86.5,53.0 84.9,51.5 84.8,50.0ZM61.9,57.0 63.0,56.9 63.8,57.5 63.5,59.1 62.5,59.3 61.3,58.5 61.3,57.5ZM67.3,62.5 68.0,62.1 69.0,62.4 69.0,63.5 67.9,63.5ZM27.0,74.0 27.5,74.8 27.0,75.2 26.6,75.0ZM37.0,82.5 39.5,82.5 41.4,85.0 41.7,86.5 41.4,88.0 39.5,89.6 38.0,89.7 36.0,89.0 34.4,87.0 34.4,85.5 35.0,84.0ZM38.0,84.9 36.9,86.0 36.8,87.0 37.8,88.0 39.0,88.2 40.0,87.4 40.1,86.0 39.0,84.8ZM62.4,89.5 65.1,90.5 66.2,92.0 66.3,93.5 65.6,95.0 64.4,96.0 63.0,96.3 61.5,96.0 57.9,94.0 56.9,92.5 58.5,90.6ZM61.5,91.4 60.1,92.5 60.3,93.5 62.0,94.6 63.5,94.5 64.5,93.5 64.2,92.0 63.0,91.3Z"/>
<path fill="#64C864" fill-rule="evenodd" d="M98.3,30.5 100.0,30.1 104.0,30.1 106.5,31.6 107.6,33.0 108.0,34.5 107.9,38.0 107.3,40.0 103.5,43.0 101.0,46.5 97.5,49.0 94.5,53.0 89.8,57.0 88.0,58.0 86.5,58.2 85.0,57.7 83.5,56.5 79.0,52.5 78.1,50.5 77.9,45.5 76.6,39.0 77.1,35.5 78.3,32.5 80.0,30.8 81.5,30.6 86.1,34.0 93.0,35.6 95.0,34.5 97.0,31.5ZM81.0,36.9 79.9,39.0 80.4,40.5 81.3,41.5 84.0,42.0 87.7,41.5 89.1,40.0 88.5,38.5 82.5,36.7ZM86.0,48.8 85.0,49.7 84.7,51.0 86.0,52.7 87.5,53.0 89.1,51.5 89.2,50.0 87.5,48.6ZM68.8,31.0 70.3,31.0 71.4,32.5 71.2,34.0 70.3,35.0 69.0,35.2 68.1,34.0 68.0,32.2ZM25.7,37.0 27.5,36.6 29.0,37.7 29.3,39.0 28.0,40.8 26.5,41.3 24.8,40.0 24.6,38.5ZM-1.0,42.5 -1.0,42.0 1.5,42.0 4.0,42.7 5.5,44.5 6.0,47.5 5.5,48.0 -1.0,48.0ZM6.0,48.5 6.5,48.0 8.0,48.1 10.4,49.0 11.4,50.5 10.9,52.5 9.0,53.5 7.5,52.9 6.3,51.0ZM61.6,54.5 64.0,54.3 66.0,55.0 68.5,57.9 72.0,60.0 73.0,61.5 73.1,63.0 71.5,65.5 69.0,67.2 63.0,66.4 61.5,67.1 60.1,69.5 59.6,75.5 58.5,77.0 57.0,78.0 52.5,81.4 50.5,81.6 49.0,81.0 48.1,79.5 48.0,72.5 48.5,72.0 51.5,71.5 53.0,70.4 53.9,68.5 54.2,64.0 55.8,61.0 56.9,57.0 58.5,55.6ZM62.0,56.9 61.3,57.5 61.3,58.5 63.0,59.4 63.9,58.5 63.8,57.5 63.0,56.9ZM67.5,62.3 67.3,63.0 67.9,63.5 69.0,63.5 69.0,62.4ZM26.0,69.0 27.5,68.8 28.9,70.0 32.5,77.4 34.0,77.9 39.0,78.2 40.5,79.0 42.0,80.7 43.0,83.5 43.0,88.0 42.0,90.0 39.9,91.0 36.0,91.0 33.5,90.3 31.9,88.0 30.6,82.5 29.6,80.5 25.0,78.7 23.5,77.4 22.9,76.0 22.9,74.5 24.8,70.5ZM27.0,74.0 26.6,75.0 27.5,75.0ZM37.0,82.5 35.0,84.0 34.4,85.5 34.4,87.0 36.0,89.0 39.0,89.7 40.5,89.1 41.4,88.0 41.6,85.5 40.0,82.8 38.5,82.3ZM44.8,69.5 46.0,69.2 47.5,70.0 47.9,71.5 47.5,72.0 45.0,71.3 44.4,70.5ZM59.2,88.0 64.5,87.9 66.5,88.8 67.8,90.5 68.3,93.5 67.5,96.0 66.1,97.5 64.0,98.2 62.0,97.7 57.5,95.5 54.8,93.5 54.7,92.0 56.0,89.8 57.5,88.5ZM62.5,89.5 58.5,90.6 56.9,92.5 57.9,94.0 61.0,95.7 62.5,96.3 64.0,96.2 65.5,95.1 66.3,93.5 66.2,92.0 65.5,90.9 64.0,89.8Z"/>
<path fill="#FFFCC8" fill-rule="evenodd" d="M-1.0,-1.0 6.0,-1.0 6.1,8.0 7.0,10.4 9.5,11.9 15.0,12.2 17.0,13.6 17.5,15.0 17.0,16.4 13.0,19.5 11.0,22.5 9.0,23.8 -1.0,24.0ZM12.0,-1.0 30.0,-1.0 30.0,5.5 30.5,6.0 33.0,5.7 35.0,4.4 35.9,2.5 36.0,-1.0 42.0,-1.0 42.2,9.0 43.5,11.0 46.9,13.5 47.5,15.0 46.5,16.9 43.1,19.5 42.6,21.5 43.6,23.0 46.5,25.0 47.8,27.5 48.0,29.5 47.5,30.0 28.5,30.0 25.6,29.0 24.6,27.5 24.8,26.0 29.0,22.5 29.9,20.5 30.0,6.5 29.5,6.0 16.5,6.0 14.5,5.6 12.4,3.5ZM78.0,-1.0 96.0,-1.0 95.9,8.0 94.9,10.5 93.5,11.6 92.0,11.9 88.0,11.9 86.0,11.3 83.0,7.5 78.7,4.0 78.1,2.5ZM132.0,-1.0 157.0,-1.0 157.0,52.5 152.0,52.6 148.2,53.5 146.0,54.6 142.5,57.9 134.5,60.3 132.0,63.0 130.6,68.5 131.0,70.5 132.0,72.0 134.0,73.1 136.0,73.1 138.0,72.0 140.0,68.7 141.0,67.8 147.0,66.0 151.8,62.0 157.0,61.5 157.0,102.0 108.0,102.0 107.9,99.5 107.3,98.0 102.8,94.0 102.6,92.5 103.1,91.5 104.5,90.4 106.0,90.1 121.0,90.0 123.5,89.6 125.2,88.0 125.4,86.5 124.4,85.0 122.0,83.4 119.0,79.5 117.5,78.4 115.5,78.0 111.0,78.2 109.0,79.5 107.0,82.5 105.7,83.5 99.0,84.2 97.1,85.5 96.1,87.5 95.8,93.0 94.0,95.3 91.5,96.0 81.0,95.8 79.1,94.5 78.6,92.5 79.6,91.0 82.9,88.5 83.4,86.5 82.5,85.1 78.7,82.0 78.1,80.5 77.6,74.5 76.5,73.0 73.5,70.9 72.8,69.5 73.5,68.0 75.0,66.6 76.5,66.1 81.5,65.6 85.8,62.0 93.5,60.1 97.0,60.0 99.0,60.2 100.4,61.0 103.0,64.5 104.5,65.6 110.5,66.1 112.0,66.7 115.0,70.5 116.5,71.6 122.0,71.9 123.5,71.6 124.9,70.5 125.9,68.0 125.9,57.5 125.0,55.5 121.0,52.4 120.5,51.0 120.8,50.0 122.0,48.7 123.5,48.1 134.0,47.9 135.5,47.6 136.9,46.5 137.9,44.0 138.2,33.0 139.5,31.0 143.0,28.5 143.9,26.0 143.9,22.0 143.3,20.0 139.0,16.5 136.5,13.0 134.5,12.1 129.0,11.8 126.8,10.0 126.6,8.5 127.1,7.5 130.5,5.0 131.6,3.5ZM80.3,18.5 83.5,18.0 91.5,18.0 93.5,18.4 94.9,19.5 95.5,21.0 94.9,22.5 93.7,23.5 90.5,24.0 82.5,24.0 80.5,23.6 79.1,22.5 78.5,21.0 79.1,19.5ZM109.7,25.0 111.5,24.6 113.0,25.7 113.4,27.5 112.3,29.0 110.5,29.1 109.0,27.7 108.7,26.5ZM48.0,30.5 48.5,30.0 50.5,30.2 53.0,31.6 53.9,33.5 54.3,38.5 56.5,40.9 58.0,41.4 63.0,40.6 66.0,42.0 67.4,45.0 66.4,50.0 64.6,51.5 57.0,54.4 55.8,56.0 54.0,60.0 50.9,63.0 49.0,66.0 42.2,68.5 38.5,71.8 34.0,71.8 28.5,66.9 26.5,66.3 24.5,66.7 23.0,68.0 16.9,76.5 15.5,77.4 14.0,77.2 12.7,76.0 12.1,74.0 12.0,64.5 12.7,62.0 15.0,60.2 21.0,59.8 27.0,58.0 27.8,57.0 27.9,56.0 27.2,54.5 24.8,52.0 24.6,50.5 25.1,49.5 29.0,46.5 31.5,43.6 35.0,40.5 38.0,36.7 40.0,36.1 44.5,35.9 46.4,35.0 47.7,33.0ZM48.0,41.0 45.0,42.0 43.0,43.4 33.4,53.0 30.0,59.0 25.8,62.5 26.2,63.5 33.0,67.3 37.5,68.2 40.0,67.8 47.5,64.7 52.9,59.0 56.0,53.1 59.8,49.5 59.7,48.0 57.0,47.0 52.5,41.6 50.5,40.7ZM61.5,44.5 60.5,45.5 60.0,47.5 60.5,47.9 62.5,47.5 63.5,46.5 63.7,45.0 63.0,44.3ZM61.7,31.0 63.0,30.8 63.9,32.0 64.0,33.8 63.2,35.0 61.7,35.0 60.6,33.5 60.8,32.0ZM18.0,84.0 25.0,84.0 27.0,84.7 28.3,87.0 29.5,93.5 28.5,94.9 27.0,95.8 21.5,96.1 19.6,97.0 18.2,99.0 18.0,102.0 10.5,102.0 -1.0,102.0 -1.0,96.0 2.5,95.9 4.0,95.3 7.5,91.0 11.0,88.5 13.5,85.0 15.0,84.2ZM45.6,84.5 47.0,84.0 51.0,84.1 53.0,84.5 54.5,85.5 54.9,87.0 52.6,91.5 52.5,93.5 54.2,95.5 59.3,98.0 61.1,99.5 61.5,102.0 58.5,102.0 58.4,101.5 58.2,100.0 57.4,99.0 51.5,97.1 50.5,97.5 49.9,98.5 49.5,102.0 46.5,102.0 46.6,98.0 47.5,93.5 44.9,89.0 44.8,86.5ZM50.0,86.9 49.5,88.0 50.5,88.6 51.4,87.5 51.0,86.9ZM37.5,93.5 39.0,93.1 40.5,93.4 40.9,94.0 40.3,95.0 39.0,95.5 38.0,95.2 37.3,94.5Z"/>
<path fill="#FFF564" fill-rule="evenodd" d="M48.0,41.0 50.5,40.7 52.5,41.6 57.0,47.0 59.7,48.0 59.8,49.5 56.0,53.1 52.9,59.0 47.5,64.7 45.5,65.8 38.0,68.2 33.5,67.5 26.2,63.5 25.8,62.5 30.0,59.0 33.4,53.0 43.0,43.4 45.0,42.0ZM49.0,44.4 42.5,47.5 39.5,51.2 36.0,54.0 34.5,56.0 31.6,62.0 31.5,63.0 34.0,65.1 37.5,66.4 40.0,66.3 45.5,64.4 52.4,57.5 54.7,51.5 54.9,50.0 52.0,44.8 50.5,44.0ZM61.5,44.5 63.0,44.3 63.7,45.0 63.5,46.5 62.5,47.5 60.5,47.9 60.0,47.5 60.5,45.5ZM153.3,52.5 157.0,52.5 157.0,55.6 152.5,56.0 151.7,56.5 151.5,57.5 153.0,58.2 157.0,58.4 157.0,61.5 153.5,61.6 151.5,62.1 147.0,66.0 140.7,68.0 138.8,71.0 137.0,72.7 135.0,73.3 133.0,72.7 131.5,71.4 130.7,69.5 130.7,67.5 131.5,64.2 132.6,62.0 135.5,59.8 142.5,57.9 145.5,55.0 147.5,53.8ZM135.0,67.3 134.3,68.5 135.0,69.3 135.6,69.0 135.9,68.0 135.5,67.3ZM140.0,62.3 139.2,63.5 140.0,64.0 141.5,63.9 142.5,63.1 142.4,62.5 141.5,62.0ZM49.7,87.0 51.1,87.0 51.4,87.5 50.8,88.5 50.0,88.5 49.5,88.0ZM50.5,97.5 52.0,97.2 57.4,99.0 58.4,100.5 58.5,102.0 58.0,102.0 49.5,102.0 49.7,99.0Z"/>
<path fill="#FFFA00" fill-rule="evenodd" d="M48.8,44.5 50.5,44.0 52.0,44.8 54.9,50.0 54.7,51.5 52.5,57.2 46.0,64.1 40.5,66.2 38.0,66.5 34.0,65.1 31.5,63.0 31.6,62.0 34.3,56.5 35.5,54.5 39.2,51.5 42.5,47.5ZM45.0,48.3 43.5,49.3 40.8,52.5 36.8,56.0 35.2,61.0 35.2,63.0 36.5,64.2 39.0,64.9 41.5,64.4 45.5,62.8 50.7,57.5 51.4,56.0 52.1,51.0 51.2,49.0 49.5,48.1ZM152.5,56.0 157.0,55.6 157.0,58.4 156.5,58.4 152.0,57.9 151.4,57.0ZM139.7,62.5 141.0,62.0 142.0,62.2 142.6,63.0 142.0,63.7 139.9,64.0 139.2,63.5ZM134.8,67.5 135.7,67.5 135.5,69.1 134.5,69.0Z"/>
<path fill="#FFD200" fill-rule="evenodd" d="M44.6,48.5 49.0,48.0 51.0,48.8 52.1,51.0 51.6,55.5 50.7,57.5 45.5,62.8 42.0,64.3 39.5,64.9 37.5,64.6 35.5,63.4 35.1,61.5 36.8,56.0ZM45.0,50.7 42.0,54.0 38.9,56.5 38.1,58.0 37.8,61.0 38.2,62.5 39.5,63.1 41.5,62.5 45.0,60.8 49.0,56.5 49.1,54.5 48.3,52.0 46.5,50.7Z"/>
<path fill="#FFAA00" fill-rule="evenodd" d="M44.5,51.0 46.0,50.6 47.9,51.5 48.9,53.5 49.1,56.0 48.3,57.5 45.0,60.8 41.6,62.5 39.5,63.1 38.2,62.5 37.8,61.0 38.1,58.0 38.9,56.5 42.0,54.0ZM44.0,56.0 43.4,57.0 43.6,57.5 45.0,57.5 45.5,56.9 45.5,55.9 45.0,55.5Z"/>
<path fill="#FF7800" fill-rule="evenodd" d="M44.0,56.0 45.0,55.5 45.5,55.9 45.0,57.5 43.6,57.5 43.4,57.0Z"/>
<path fill="#FFFFFF" fill-rule="evenodd" d="M-1.0,12.5 -1.0,12.0 1.5,12.0 4.0,12.7 7.0,16.5 10.5,19.0 13.0,22.5 14.3,23.5 21.0,24.2 22.9,25.5 23.9,28.0 23.6,33.5 21.5,35.4 20.5,35.4 19.1,34.5 16.9,31.5 15.0,30.5 13.5,31.1 11.0,34.5 9.0,35.8 -1.0,36.0ZM25.6,43.0 27.5,42.6 29.0,43.6 29.4,45.5 28.4,47.0 26.5,47.4 25.0,46.4 24.6,44.5ZM8.3,54.5 10.5,54.0 14.5,54.1 16.0,54.7 17.2,56.0 17.4,57.5 16.9,58.5 12.5,62.2 11.0,64.4 9.5,65.4 8.0,65.2 6.5,63.7 6.0,61.5 6.1,57.5 7.0,55.6ZM-1.0,72.0 13.5,72.0 16.5,73.0 19.0,76.5 23.3,80.0 23.9,81.5 24.4,87.5 29.6,92.5 30.0,94.5 30.0,102.0 -1.0,102.0ZM145.5,72.0 157.0,72.0 157.0,102.0 125.5,102.0 114.0,102.0 114.0,82.5 114.7,80.0 116.0,78.7 118.0,78.1 135.0,77.8 137.0,76.5 140.0,72.7 142.0,72.1ZM38.3,96.5 43.5,96.0 46.4,97.0 47.8,99.0 48.0,102.0 45.5,102.0 36.0,102.0 36.4,98.5ZM73.6,97.0 75.5,96.6 77.3,98.0 77.9,99.5 78.0,102.0 76.5,102.0 72.0,102.0 72.2,99.0Z"/>

<polygon points="30.0,64.7 31.2,57.8 37.0,52.0 43.9,45.1 49.7,41.1 53.2,42.8 52.0,49.7 47.4,56.6 43.9,62.4 37.0,67.0" fill="url(#hatch)"/>
<use href="#geo" fill="none" stroke="#333" stroke-width="0.7" stroke-linejoin="round"/>
<use href="#coast" fill="none" stroke="#151515" stroke-width="1.0" stroke-linejoin="round"/>
<use href="#lotw"/>

</g>
<text x="346.7" y="101.9" transform="rotate(-90 346.7 101.9)" text-anchor="start" font-size="10.25" fill="#231f20">CRCM<tspan dx="1.5">_</tspan><tspan dx="1.5">CCSM</tspan></text>
<g transform="translate(519,18)" clip-path="url(#c03)">
<rect x="0" y="0" width="156" height="101" fill="#C8F0C8"/>
<path fill="#0AAA1E" fill-rule="evenodd" d="M50.1,68.5 51.1,68.5 50.9,70.0 50.0,70.1 49.6,69.5Z"/>
<path fill="#64C864" fill-rule="evenodd" d="M103.9,62.5 105.5,62.0 106.4,62.5 106.5,63.1 105.5,63.8 104.5,63.8 103.6,63.0ZM51.3,63.5 52.0,63.5 53.0,64.7 53.7,69.5 52.0,74.6 51.0,76.2 50.0,75.9 49.1,74.5 45.3,70.5 45.0,69.5 48.5,66.9ZM50.5,68.3 49.6,69.5 50.5,70.2 51.2,69.0ZM19.6,67.0 21.5,66.6 23.0,67.6 23.4,69.5 22.4,71.0 20.5,71.4 19.0,70.4 18.6,68.5Z"/>
<path fill="#FFFCC8" fill-rule="evenodd" d="M-1.0,-1.0 6.0,-1.0 5.9,2.5 4.9,4.5 3.0,5.8 -1.0,6.0ZM12.0,-1.0 24.0,-1.0 23.6,3.5 22.5,5.0 19.1,7.5 18.6,8.5 18.8,10.0 23.3,14.0 24.0,17.9 33.5,18.4 35.0,19.5 37.5,23.0 41.0,25.5 42.2,27.5 43.0,30.0 43.7,39.0 44.5,40.9 46.5,40.0 53.1,33.0 52.9,31.5 49.5,28.9 48.5,27.0 49.6,25.0 52.0,24.1 57.5,24.4 60.9,27.5 63.0,28.3 75.0,28.5 83.5,30.0 98.5,29.9 100.5,29.0 103.0,25.5 104.5,24.4 106.5,24.0 111.0,24.2 112.9,25.5 113.4,27.5 112.5,28.9 108.7,32.0 108.1,33.5 108.0,36.0 108.5,39.7 109.5,40.9 111.0,41.5 112.5,40.9 115.0,37.5 119.3,34.0 119.9,32.5 120.4,26.5 121.5,25.1 123.0,24.2 127.5,24.0 129.5,24.4 131.0,25.5 133.5,29.0 135.5,29.9 157.0,30.0 157.0,52.5 152.5,52.6 146.5,53.9 141.0,54.2 139.0,55.6 138.1,58.0 138.4,63.5 139.6,65.0 141.5,65.9 146.5,65.8 151.5,62.1 157.0,61.5 157.0,66.0 153.0,66.4 151.1,68.0 150.1,70.0 150.0,91.0 149.6,93.5 148.5,94.9 147.0,95.5 145.6,95.0 144.7,94.0 144.1,92.5 143.6,86.5 142.5,85.0 139.5,83.0 138.5,81.7 137.9,75.5 136.9,73.5 135.5,72.4 134.0,72.1 128.5,72.4 127.0,73.6 126.1,75.5 126.2,87.0 127.5,89.0 131.0,91.5 133.5,95.0 137.0,97.5 137.8,99.0 138.0,101.0 138.0,102.0 129.0,102.0 102.0,102.0 102.0,89.0 101.6,86.5 100.5,85.1 99.0,84.2 94.5,84.0 82.0,84.1 80.0,84.7 78.8,86.0 78.6,87.5 80.0,89.3 81.5,89.9 87.0,90.2 88.5,91.1 89.4,92.5 88.9,94.5 84.7,98.0 84.1,99.5 84.0,102.0 -1.0,102.0 -1.0,96.0 31.5,96.0 33.5,95.6 34.9,94.5 35.4,93.0 34.2,89.0 34.0,86.0 35.5,74.5 34.5,73.0 31.5,71.0 30.3,69.5 29.0,66.0 28.7,62.5 30.0,60.0 33.3,57.5 35.4,53.5 40.6,51.0 41.6,50.0 42.0,49.0 41.9,45.5 41.0,44.1 35.0,42.8 32.5,41.7 31.0,40.5 29.0,37.5 27.5,36.4 22.0,36.1 20.0,36.7 18.5,38.3 17.8,45.0 16.5,46.9 14.5,47.9 9.0,48.4 7.2,50.0 6.3,51.5 6.0,53.5 6.5,54.0 14.5,54.1 16.4,55.0 17.4,56.5 16.9,58.5 13.5,61.0 10.5,64.9 8.5,65.4 6.4,63.5 6.0,61.5 6.0,54.5 5.5,54.0 -1.0,54.0 -1.0,48.0 3.0,47.6 4.5,46.3 5.1,45.0 4.5,43.7 3.0,42.4 -1.0,42.0 -1.0,24.0 8.5,23.9 10.4,23.0 11.5,21.7 12.0,19.0ZM20.5,18.5 18.8,20.0 18.6,21.5 20.0,23.2 22.0,23.2 23.5,21.5 24.0,18.5 23.5,18.0ZM38.0,30.9 37.0,31.6 36.2,33.0 36.0,37.0 36.7,39.0 38.5,39.9 39.5,39.6 40.2,38.5 40.4,34.5 39.5,31.5ZM62.0,31.9 55.5,35.6 51.5,40.0 48.5,42.5 46.8,45.0 46.0,50.6 37.5,55.0 32.0,63.0 32.5,65.0 33.7,66.5 35.9,67.5 38.5,67.9 46.0,65.8 47.5,64.5 50.0,60.5 51.0,59.8 53.0,59.7 57.0,61.0 58.5,60.7 63.5,58.7 70.5,60.0 79.5,60.0 81.5,59.6 95.0,46.5 95.9,44.0 95.6,38.5 94.0,36.6 91.8,35.5 87.5,34.6 81.0,34.3 74.5,31.6ZM110.5,48.4 108.4,50.5 107.9,56.0 107.0,57.5 99.0,59.8 93.0,60.2 91.1,61.5 90.5,63.0 91.5,64.9 93.5,65.9 98.5,66.1 104.5,67.4 110.0,66.5 112.4,67.0 115.5,70.9 117.5,71.4 119.0,70.4 121.5,67.0 124.5,64.9 125.5,63.0 124.9,61.5 121.5,59.0 120.4,57.5 119.9,51.5 118.5,49.1 116.0,48.1ZM8.0,36.8 6.8,38.0 6.9,39.5 8.5,41.1 10.0,41.2 11.4,39.5 11.2,38.0 9.5,36.6ZM39.0,79.4 37.4,81.5 36.2,86.5 37.0,89.2 39.0,90.9 40.0,90.8 41.0,90.0 41.8,87.0 40.5,81.1 40.0,80.0ZM51.0,61.5 47.5,66.1 42.3,68.5 41.1,70.0 42.0,72.0 45.1,74.0 46.0,75.5 43.7,81.0 44.2,87.0 45.0,89.2 46.5,89.9 51.0,89.8 52.9,88.5 53.9,86.5 54.1,75.5 56.0,69.0 55.9,65.5 55.4,63.5 54.5,62.5 52.5,61.4ZM57.5,73.5 56.7,74.5 56.7,76.0 57.5,76.9 58.5,76.8 59.3,75.0 58.5,73.8ZM63.0,62.0 61.5,62.5 60.5,63.5 60.0,66.0 60.4,69.0 63.0,71.5 65.5,72.0 66.0,71.5 66.0,66.5 65.6,63.5 64.5,62.4ZM66.5,72.0 66.0,72.5 66.1,74.0 67.0,76.4 68.5,77.4 70.5,76.9 71.5,75.0 70.9,73.5 69.0,72.3ZM36.0,-1.0 42.0,-1.0 42.2,3.0 43.5,4.9 45.5,5.9 49.5,6.0 59.5,6.0 60.0,5.5 60.0,-1.0 96.0,-1.0 95.8,3.0 94.4,5.0 92.0,5.9 86.5,6.0 80.5,6.4 79.0,7.5 76.5,10.9 75.0,11.5 73.5,10.9 71.0,7.5 69.5,6.4 67.5,6.0 60.0,6.0 59.9,14.5 58.4,17.0 56.0,17.9 45.5,17.9 43.5,17.0 41.0,13.5 37.5,11.0 36.5,9.7 36.0,7.5ZM102.0,-1.0 114.0,-1.0 113.9,8.0 112.9,10.5 111.0,11.8 108.0,12.0 105.0,11.8 103.1,10.5 102.1,8.0ZM126.0,-1.0 138.0,-1.0 138.0,13.5 136.9,16.5 134.5,17.9 130.5,18.0 128.3,17.5 126.7,16.0 126.0,13.5ZM152.3,12.5 157.0,12.0 157.0,18.0 156.0,18.0 153.0,17.8 151.0,16.4 150.6,14.5ZM85.6,19.0 87.5,18.6 89.0,19.6 89.4,21.5 88.4,23.0 86.5,23.4 85.0,22.4 84.6,20.5Z"/>
<path fill="#FFF564" fill-rule="evenodd" d="M37.8,31.0 38.5,30.8 39.5,31.5 40.3,33.5 40.2,38.5 39.0,39.9 37.0,39.2 36.1,37.5 36.2,33.0ZM61.6,32.0 64.5,31.5 74.5,31.6 81.0,34.3 87.5,34.6 91.8,35.5 94.0,36.6 95.6,38.5 95.9,44.0 95.0,46.5 81.5,59.6 79.5,60.0 70.5,60.0 63.5,58.7 59.0,60.5 57.0,61.0 53.0,59.7 51.0,59.8 50.0,60.5 47.5,64.5 46.0,65.8 38.5,67.9 35.9,67.5 33.7,66.5 32.5,65.0 32.0,63.0 37.5,55.0 46.0,50.6 46.8,45.0 48.5,42.5 51.5,40.0 55.5,35.6ZM62.0,36.5 58.0,37.5 56.3,38.5 54.0,42.0 50.0,45.0 49.4,50.5 48.6,52.0 42.5,54.2 39.2,56.0 37.9,57.5 35.3,62.5 35.6,64.0 38.0,65.6 44.0,65.5 46.6,64.0 48.8,60.0 50.5,58.2 52.5,57.7 56.5,58.2 58.7,57.5 64.0,54.1 68.5,54.1 75.0,55.4 79.7,54.5 82.5,52.5 85.0,49.5 88.5,46.4 89.8,44.5 89.8,40.0 89.0,38.7 87.5,37.9 80.0,37.4 73.5,36.0 64.5,36.0ZM-1.0,42.5 -1.0,42.0 1.0,42.0 3.5,42.7 5.0,44.5 5.0,45.5 4.4,46.5 2.5,47.8 -1.0,48.0ZM153.3,52.5 157.0,52.5 157.0,55.6 152.5,56.0 151.7,56.5 151.5,57.5 153.0,58.2 157.0,58.4 157.0,61.5 151.6,62.0 147.9,65.0 146.0,65.9 143.5,66.0 141.0,65.8 139.5,64.9 138.4,63.5 138.1,62.0 138.4,56.5 139.5,55.1 141.0,54.2 146.5,53.9ZM57.5,73.5 59.1,74.5 59.3,75.5 58.8,76.5 57.5,76.9 56.7,76.0 56.7,74.5ZM38.8,79.5 39.5,79.5 40.5,81.1 41.8,86.5 41.3,89.5 39.5,90.9 37.5,89.9 36.2,87.0 37.0,82.5Z"/>
<path fill="#FFFA00" fill-rule="evenodd" d="M61.9,36.5 64.5,36.0 73.5,36.0 80.0,37.4 87.0,37.7 88.7,38.5 89.6,39.5 89.9,44.0 88.5,46.4 85.0,49.5 81.9,53.0 80.0,54.4 75.0,55.4 68.5,54.1 64.0,54.1 58.7,57.5 57.0,58.2 52.5,57.7 50.5,58.2 48.8,60.0 46.6,64.0 44.0,65.5 38.0,65.6 35.6,64.0 35.3,62.5 37.9,57.5 39.2,56.0 42.5,54.2 48.6,52.0 49.4,50.5 50.0,45.0 54.0,42.0 56.3,38.5 58.0,37.5ZM74.0,48.8 72.9,50.0 73.0,51.0 74.0,51.8 75.5,51.9 77.0,51.0 77.1,50.0 75.5,48.6ZM45.5,55.0 43.4,55.5 41.1,57.0 38.5,61.5 38.3,62.5 38.9,63.5 41.5,64.2 44.5,64.2 46.4,62.5 48.7,56.5 47.8,55.5ZM56.0,48.8 54.8,50.0 54.6,51.5 56.0,53.2 57.7,53.0 59.1,51.5 59.2,50.0 57.5,48.6ZM152.5,56.0 157.0,55.6 157.0,58.4 156.5,58.4 152.0,57.9 151.4,57.0Z"/>
<path fill="#FFD200" fill-rule="evenodd" d="M55.7,49.0 57.5,48.6 59.0,49.7 59.3,51.0 58.0,52.8 56.5,53.3 54.8,52.0 54.6,50.5ZM73.7,49.0 75.5,48.6 76.8,49.5 77.0,50.9 76.0,51.8 74.5,51.9 73.0,51.0 72.9,50.0ZM45.2,55.0 48.0,55.6 48.7,56.5 48.5,57.5 45.7,63.5 44.5,64.2 42.0,64.3 38.9,63.5 38.3,62.5 38.5,61.5 41.1,57.0 43.4,55.5ZM44.5,57.3 43.5,58.5 42.9,61.0 43.0,62.0 44.0,62.5 45.0,61.6 45.6,58.5 45.5,57.5Z"/>
<path fill="#FFAA00" fill-rule="evenodd" d="M44.2,57.5 45.0,57.3 45.7,58.0 45.0,61.5 44.5,62.3 43.5,62.4 42.8,61.5 43.5,58.5Z"/>
<path fill="#FFFFFF" fill-rule="evenodd" d="M-1.0,12.5 -1.0,12.0 2.0,12.1 4.4,13.0 7.0,16.5 10.5,19.0 13.0,22.5 17.0,25.6 17.9,28.0 18.0,29.5 17.5,30.0 12.0,30.0 9.5,30.1 8.0,30.7 5.0,34.5 3.5,35.6 -1.0,36.0ZM25.6,25.0 27.5,24.6 29.2,26.0 29.2,28.0 27.6,29.5 24.5,30.0 24.0,29.5 24.5,26.5ZM18.0,30.5 18.5,30.0 23.5,30.0 24.0,30.5 23.9,32.0 23.0,34.4 21.5,35.4 19.5,34.9 18.3,33.0ZM25.6,49.0 27.5,48.6 29.0,49.6 29.4,51.5 28.4,53.0 26.5,53.4 25.0,52.4 24.6,50.5ZM13.6,55.0 15.5,54.6 17.0,55.6 17.4,57.5 16.4,59.0 14.5,59.4 13.0,58.4 12.6,56.5ZM-1.0,72.0 14.0,72.1 15.5,72.4 16.9,73.5 17.9,75.5 18.5,81.7 19.5,83.0 22.5,85.0 23.8,87.0 24.0,102.0 -1.0,102.0ZM139.5,72.0 157.0,72.0 157.0,102.0 126.5,102.0 114.0,102.0 113.8,93.0 112.5,91.0 109.1,88.5 108.6,87.5 108.8,86.0 112.5,83.0 115.0,79.5 116.5,78.4 129.0,77.8 131.0,76.5 134.0,72.7 136.0,72.1ZM49.6,91.0 51.5,90.6 53.0,91.6 53.4,93.5 52.4,95.0 50.5,95.4 49.0,94.4 48.6,92.5ZM68.3,96.5 73.0,96.0 76.0,96.7 77.6,98.5 78.0,102.0 76.0,102.0 66.0,102.0 66.4,98.5Z"/>

<polygon points="34.7,67.0 34.7,60.1 40.4,54.3 48.5,43.9 55.5,38.1 67.0,35.8 78.6,38.1 90.1,40.4 91.3,46.2 80.9,53.2 71.6,56.6 60.1,57.8 50.8,60.1 46.2,67.0 40.4,69.3" fill="url(#hatch)"/>
<polygon points="138.7,57.8 145.6,55.5 150.2,58.9 147.9,64.7 139.8,64.7" fill="url(#hatch)"/>
<use href="#geo" fill="none" stroke="#333" stroke-width="0.7" stroke-linejoin="round"/>
<use href="#coast" fill="none" stroke="#151515" stroke-width="1.0" stroke-linejoin="round"/>
<use href="#lotw"/>

</g>
<text x="515.7" y="102.1" transform="rotate(-90 515.7 102.1)" text-anchor="start" font-size="10.25" fill="#231f20">CRCM<tspan dx="1.5">_</tspan><tspan dx="1.5">CGCM3</tspan></text>
<g transform="translate(12,120)" clip-path="url(#c10)">
<rect x="0" y="0" width="156" height="101" fill="#C8F0C8"/>
<path fill="#0AAA1E" fill-rule="evenodd" d="M105.1,25.5 106.5,25.2 107.6,27.0 106.1,33.5 105.5,34.3 105.0,34.3 104.3,32.5 104.3,27.5ZM103.1,42.0 110.0,42.1 112.0,42.7 113.8,45.0 113.9,49.5 113.0,51.5 107.5,57.0 105.5,58.2 101.5,59.1 98.0,59.9 94.0,59.9 92.2,59.0 91.3,57.5 91.9,56.5 95.4,54.5 96.8,53.0 97.4,51.0 97.7,45.5 98.5,43.5 100.0,42.2ZM57.3,78.5 59.0,78.0 62.5,78.1 64.0,78.7 65.3,80.0 65.9,82.0 66.0,85.5 65.6,87.0 64.3,88.5 63.0,89.1 62.0,88.8 57.0,83.1 56.0,80.5Z"/>
<path fill="#64C864" fill-rule="evenodd" d="M66.0,-1.0 78.0,-1.0 77.8,2.5 76.5,4.4 74.0,5.9 70.0,5.9 68.3,5.5 67.1,4.5 66.2,3.0ZM90.0,-1.0 96.0,-1.0 95.9,2.5 95.0,4.4 94.0,5.2 93.0,5.3 91.1,4.0 90.1,2.0ZM102.0,-1.0 108.0,-1.0 107.9,2.5 107.0,4.4 105.0,5.5 103.1,4.5 102.1,2.5ZM93.3,12.5 95.5,12.0 99.5,12.4 100.9,13.5 101.4,14.5 101.2,15.5 100.5,16.0 96.0,16.4 93.0,16.0 92.1,14.5ZM104.6,18.5 106.5,18.0 110.0,18.2 111.9,20.0 113.6,27.0 113.0,28.5 110.3,31.5 110.0,34.0 111.5,35.8 117.0,36.2 119.3,38.0 119.9,40.0 120.0,48.0 119.3,51.0 114.5,54.5 110.5,60.0 104.5,61.8 99.0,63.8 92.5,63.5 90.5,62.8 88.6,61.5 87.0,59.5 86.5,58.0 86.7,57.0 87.5,56.0 91.7,53.5 93.9,51.5 94.4,50.0 94.6,45.5 95.3,43.5 97.7,39.0 101.3,35.5 101.9,33.0 102.3,25.5 103.7,20.0ZM105.5,25.1 104.4,27.0 104.3,32.0 105.0,34.3 106.0,33.7 107.6,27.0 106.8,25.5ZM103.5,42.0 100.0,42.2 98.5,43.5 97.7,45.5 97.4,51.0 96.8,53.0 95.4,54.5 91.9,56.5 91.3,57.5 92.2,59.0 94.0,59.9 98.0,59.9 101.0,59.2 105.5,58.2 107.5,57.0 113.0,51.5 113.9,49.5 113.8,45.0 112.0,42.7 110.0,42.1ZM56.3,72.5 58.5,72.0 68.0,72.1 70.0,73.1 71.6,75.0 72.0,77.5 71.8,86.5 67.2,92.0 66.7,93.5 69.7,97.5 70.4,100.5 70.5,102.0 60.0,102.0 59.8,93.5 57.0,89.3 52.8,80.5 53.8,75.5 55.0,73.5ZM57.5,78.4 56.0,80.5 56.6,82.5 61.5,88.4 63.0,89.1 64.0,88.8 65.3,87.5 65.9,86.0 65.9,82.0 65.3,80.0 64.0,78.7 62.5,78.1ZM44.4,79.0 45.5,78.7 46.8,79.5 46.9,80.5 45.5,81.4 44.3,81.5 43.3,81.0 43.4,80.0ZM38.4,86.5 39.0,86.1 39.1,87.5 38.5,87.7Z"/>
<path fill="#FFFCC8" fill-rule="evenodd" d="M36.0,-1.0 48.0,-1.0 48.0,13.0 48.4,15.5 49.5,17.0 53.0,19.5 55.5,23.0 57.5,23.9 62.5,23.9 64.9,22.5 65.9,20.5 66.2,15.0 67.1,13.5 68.3,12.5 75.5,11.6 80.0,7.1 82.0,6.1 86.0,6.1 88.5,7.6 89.5,9.5 88.7,15.5 90.0,18.0 92.5,19.3 98.5,19.7 100.1,21.0 99.7,32.5 98.9,34.0 95.6,36.5 93.8,40.0 92.5,41.5 91.0,42.0 82.0,42.2 80.5,43.3 80.0,45.5 80.5,46.6 81.5,47.3 86.0,46.6 88.0,46.8 90.0,48.0 90.9,49.5 90.8,51.0 90.1,52.0 85.5,54.8 84.3,56.5 84.0,62.0 85.0,64.5 87.0,65.6 93.0,65.3 99.0,65.9 105.5,64.6 111.0,64.4 113.2,63.5 114.4,62.0 116.3,56.5 118.0,55.5 122.5,54.2 124.5,53.0 127.0,49.5 130.5,47.0 133.0,43.5 137.0,40.5 137.9,38.5 137.9,33.5 136.4,31.0 134.0,30.1 124.5,30.0 122.5,29.6 121.0,28.5 116.5,22.8 115.7,21.0 114.1,14.0 114.0,-1.0 124.5,-1.0 124.6,4.0 125.6,8.0 127.0,10.5 129.0,11.5 131.0,10.5 132.4,8.0 133.4,4.0 133.5,-1.0 144.0,-1.0 144.1,8.0 145.1,10.5 146.5,11.6 148.0,11.9 157.0,12.0 157.0,36.0 148.5,36.0 146.5,36.4 144.4,38.5 144.0,42.0 144.5,45.7 145.5,46.9 147.0,47.5 148.9,46.5 152.0,42.7 153.5,42.1 157.0,42.0 157.0,60.0 152.5,60.4 151.1,61.5 150.5,63.0 151.1,64.5 152.5,65.6 157.0,66.0 157.0,102.0 138.0,102.0 138.0,100.5 137.0,97.5 133.5,95.0 131.0,91.5 127.5,89.0 125.0,85.5 123.7,84.5 121.5,84.0 107.0,84.0 104.5,84.4 102.7,86.0 102.1,88.0 102.0,91.5 103.0,94.5 107.3,98.0 107.9,99.5 108.0,102.0 73.5,102.0 72.6,93.0 73.6,91.5 77.0,88.5 77.8,87.0 77.9,75.5 77.0,73.5 70.5,67.0 67.5,66.0 58.0,66.1 52.5,67.3 45.0,68.0 43.7,69.5 42.1,74.5 38.3,79.0 34.9,86.5 34.8,89.0 36.0,93.0 37.5,94.9 39.0,95.2 40.3,93.5 42.2,86.5 43.2,85.0 45.0,84.1 49.5,83.0 51.5,83.4 53.7,86.5 55.6,93.5 56.4,102.0 54.8,102.0 54.5,97.9 52.4,92.0 51.7,87.5 51.0,86.3 50.0,85.8 45.5,86.3 44.2,88.0 43.7,93.0 45.6,98.0 45.9,102.0 30.0,102.0 29.8,93.0 28.4,91.0 26.0,90.1 15.5,90.1 13.5,91.0 11.0,94.5 9.0,95.8 -1.0,96.0 -1.0,66.0 2.5,65.9 4.5,64.9 5.8,63.0 6.0,60.0 5.8,57.0 4.5,55.1 2.5,54.1 -1.0,54.0 -1.0,6.0 3.0,6.2 4.5,7.1 5.5,8.3 6.0,10.5 6.1,20.5 6.7,22.0 8.0,23.2 9.5,23.4 10.5,22.9 13.0,19.5 14.5,18.4 19.0,18.0 21.0,18.2 22.4,19.0 25.0,22.5 26.5,23.6 32.5,23.9 34.9,22.5 35.4,20.5 34.5,19.1 31.5,17.0 30.4,15.5 30.1,9.5 31.0,7.5 35.3,4.0 35.9,2.5ZM44.0,24.8 42.6,26.5 42.8,28.0 44.5,29.4 46.0,29.2 47.4,27.5 47.2,26.0 45.5,24.6ZM74.0,24.8 69.0,29.6 63.5,30.1 61.5,31.0 59.0,34.5 55.5,37.0 53.0,40.5 49.5,43.0 47.0,46.5 40.0,53.3 38.0,53.9 28.5,54.0 26.3,54.5 25.0,55.5 23.8,57.5 21.5,65.0 20.0,65.9 15.0,66.2 13.0,67.6 12.1,69.5 12.0,72.5 12.2,75.0 13.1,76.5 15.0,77.8 20.7,78.5 21.9,80.0 23.5,83.4 25.0,84.7 27.0,85.3 30.0,85.0 32.5,83.9 34.0,81.5 33.9,79.5 31.9,75.0 32.2,73.5 33.0,72.5 38.5,71.6 42.0,67.0 44.5,65.0 50.5,64.4 52.8,63.5 58.5,59.0 61.0,55.5 62.4,54.5 66.0,54.2 66.7,58.0 69.0,59.8 79.0,60.0 81.0,59.0 81.6,57.5 81.5,55.4 78.0,51.0 76.6,45.5 77.1,41.5 79.2,35.0 79.1,30.5 78.2,27.5 77.0,25.5 75.5,24.6ZM92.5,67.0 89.9,68.0 88.7,70.0 90.0,75.0 91.0,76.5 92.5,77.6 96.0,78.0 99.5,77.6 101.0,76.5 103.0,73.5 104.5,72.4 110.5,71.9 112.0,71.3 113.3,69.5 112.0,68.0 108.0,67.6 99.5,68.0ZM128.0,66.8 126.6,68.5 126.8,70.0 128.5,71.4 130.0,71.2 131.4,69.5 131.2,68.0 129.5,66.6ZM20.0,36.8 18.6,38.5 18.8,40.0 20.5,41.4 22.0,41.2 23.4,39.5 23.2,38.0 21.5,36.6ZM32.0,36.8 30.7,38.0 30.1,39.5 30.1,44.0 30.7,46.0 32.0,47.3 33.5,47.9 37.5,48.0 39.1,47.5 41.1,45.5 41.3,44.5 40.9,43.5 37.0,40.5 34.5,37.1 33.5,36.6ZM61.6,43.0 63.5,42.6 65.3,44.0 66.0,47.5 65.0,48.0 62.5,47.5 61.0,46.4 60.6,44.5ZM66.0,48.5 66.5,48.0 68.0,48.1 70.5,49.1 71.5,51.0 70.5,52.9 69.0,53.7 66.5,54.0 66.0,53.5Z"/>
<path fill="#FFF564" fill-rule="evenodd" d="M124.5,-1.0 127.6,-1.0 127.8,3.0 129.0,4.4 130.2,3.0 130.4,-1.0 133.5,-1.0 133.2,5.0 132.2,8.5 131.0,10.5 129.5,11.4 127.5,10.9 126.0,9.0 125.1,6.5ZM73.6,25.0 75.5,24.6 77.0,25.5 78.2,27.5 79.1,30.5 79.2,35.0 77.1,41.5 76.6,45.5 78.0,51.0 81.5,55.4 81.6,57.5 81.0,59.0 79.0,60.0 69.0,59.8 66.7,58.0 66.0,54.2 62.4,54.5 61.0,55.5 58.5,59.0 52.8,63.5 50.5,64.4 44.5,65.0 42.0,67.0 38.5,71.6 34.0,72.1 32.5,73.0 31.9,75.5 33.9,79.5 34.1,81.0 32.9,83.5 30.5,84.9 27.5,85.4 25.5,85.0 23.6,83.5 21.7,79.5 20.5,78.4 15.5,77.9 13.5,76.9 12.4,75.5 12.1,74.0 12.1,70.0 12.7,68.0 15.0,66.2 20.0,65.9 21.5,65.0 23.8,57.5 25.0,55.5 26.3,54.5 28.5,54.0 38.0,53.9 40.0,53.3 47.0,46.5 49.5,43.0 53.0,40.5 55.5,37.0 59.0,34.5 61.5,31.0 63.5,30.1 69.0,29.6ZM74.0,31.3 72.9,32.5 72.7,33.5 73.5,34.8 74.5,35.1 75.5,34.5 76.0,33.0 75.4,31.5ZM27.5,60.4 26.5,61.3 25.9,63.0 26.2,64.5 27.5,65.8 37.0,66.0 39.0,65.4 40.5,64.0 41.2,62.5 40.9,61.5 39.5,60.4 36.5,60.0ZM62.0,42.8 60.6,44.5 60.8,46.0 62.4,47.5 64.5,48.0 65.5,48.0 66.0,47.5 65.5,44.5 64.0,42.8ZM66.5,48.0 66.0,48.5 66.0,53.5 66.5,54.0 68.0,53.9 70.4,53.0 71.4,51.5 70.9,49.5 69.0,48.3ZM26.0,72.9 24.7,74.0 24.5,76.0 25.7,80.5 26.5,81.6 27.5,81.9 29.1,81.0 29.3,79.5 28.0,74.0 27.0,72.8ZM92.4,67.0 99.5,68.0 108.0,67.6 112.0,68.0 113.3,69.5 112.0,71.3 110.5,71.9 105.0,72.2 103.0,73.5 101.0,76.5 99.5,77.6 96.0,78.0 92.5,77.6 91.0,76.5 90.0,75.0 88.7,70.0 89.9,68.0ZM93.0,69.3 92.5,69.9 92.7,70.5 94.0,71.0 94.7,70.5 94.5,69.5ZM127.6,67.0 129.5,66.6 131.0,67.6 131.4,69.5 130.4,71.0 128.5,71.4 127.0,70.4 126.6,68.5ZM46.9,86.0 50.0,85.8 51.5,87.0 52.4,92.0 54.4,97.5 54.8,102.0 53.2,102.0 53.0,98.5 51.5,95.7 50.0,95.3 49.0,96.0 48.1,98.5 48.0,102.0 45.9,102.0 45.6,98.0 43.9,94.0 43.7,92.0 44.5,87.2 45.5,86.3Z"/>
<path fill="#FFFA00" fill-rule="evenodd" d="M127.6,-1.0 130.4,-1.0 130.0,3.5 129.0,4.4 128.0,3.5ZM73.8,31.5 75.0,31.2 75.9,32.5 75.8,34.0 74.9,35.0 74.0,35.1 72.8,34.0 72.9,32.5ZM27.3,60.5 30.0,60.0 37.5,60.0 39.5,60.4 40.9,61.5 41.2,62.5 39.5,65.0 37.0,66.0 27.5,65.8 26.5,65.0 25.9,63.5 26.1,62.0ZM92.7,69.5 93.5,69.2 94.5,69.5 94.7,70.5 94.1,71.0 93.0,70.9ZM25.7,73.0 26.5,72.7 27.5,73.2 28.3,75.0 29.4,80.0 29.1,81.0 28.0,81.8 26.5,81.6 25.5,80.0 24.4,75.0ZM49.5,95.5 50.5,95.2 51.5,95.7 52.8,98.0 53.2,102.0 52.0,102.0 48.0,102.0 48.2,98.0Z"/>
<path fill="#FFFFFF" fill-rule="evenodd" d="M-1.0,24.5 -1.0,24.0 2.0,24.1 4.4,25.0 5.5,27.0 4.5,28.9 2.5,29.9 -1.0,30.0ZM19.6,31.0 21.5,30.6 23.0,31.6 23.4,33.5 22.4,35.0 20.5,35.4 19.0,34.4 18.6,32.5ZM-1.0,72.0 14.0,72.1 15.5,72.4 16.9,73.5 17.9,75.5 18.5,81.7 19.5,83.0 22.5,85.0 23.8,87.0 24.0,102.0 -1.0,102.0ZM151.5,72.0 157.0,72.0 157.0,102.0 119.5,102.0 114.0,102.0 114.1,82.0 114.4,80.5 115.5,79.1 118.5,78.0 140.5,77.9 142.5,77.0 145.0,73.5 146.3,72.5ZM92.3,84.5 97.0,84.0 100.0,84.7 101.0,85.6 101.5,87.0 100.9,88.5 99.7,89.5 95.0,90.0 92.0,89.3 91.0,88.4 90.5,87.0 91.1,85.5ZM68.3,96.5 73.0,96.0 76.0,96.7 77.6,98.5 78.0,102.0 76.0,102.0 66.0,102.0 66.4,98.5Z"/>

<polygon points="94.8,57.8 97.1,49.7 104.0,43.9 113.2,40.4 120.2,42.8 117.9,49.7 108.6,56.6 101.7,61.2" fill="url(#hatch)"/>
<polygon points="25.4,63.6 27.7,58.9 37.0,56.6 46.2,55.5 46.2,62.4 37.0,67.0" fill="url(#hatch)"/>
<use href="#geo" fill="none" stroke="#333" stroke-width="0.7" stroke-linejoin="round"/>
<use href="#coast" fill="none" stroke="#151515" stroke-width="1.0" stroke-linejoin="round"/>
<use href="#lotw"/>

</g>
<text x="8.3" y="206.2" transform="rotate(-90 8.3 206.2)" text-anchor="start" font-size="10.25" fill="#231f20">WRFG<tspan dx="1.5">_</tspan><tspan dx="1.5">CCSM</tspan></text>
<g transform="translate(182,120)" clip-path="url(#c11)">
<rect x="0" y="0" width="155" height="101" fill="#C8F0C8"/>
<path fill="#0AAA1E" fill-rule="evenodd" d="M86.3,61.0 88.0,60.8 89.2,62.0 89.1,63.5 87.7,65.0 86.0,65.2 84.8,64.0 84.9,62.5Z"/>
<path fill="#64C864" fill-rule="evenodd" d="M102.1,49.0 105.0,48.6 107.6,51.0 107.9,56.0 106.9,58.5 105.0,59.8 99.5,60.1 98.0,60.7 94.5,65.0 87.5,71.3 86.0,71.9 80.5,72.4 79.0,73.5 76.4,77.0 73.5,78.0 70.0,77.9 68.2,76.5 67.6,74.5 67.6,71.0 68.3,68.5 70.0,67.6 75.0,67.4 77.0,66.8 78.8,65.0 81.0,60.2 84.0,57.3 87.0,55.7 92.5,54.2 97.5,50.3ZM86.5,60.9 85.2,62.0 84.7,63.5 86.0,65.2 87.5,65.1 88.8,64.0 89.3,62.5 88.0,60.8ZM57.3,86.5 58.0,86.3 59.0,86.8 59.2,87.5 58.7,88.5 58.0,88.8 57.0,88.0Z"/>
<path fill="#FFFCC8" fill-rule="evenodd" d="M18.0,-1.0 36.0,-1.0 36.2,3.0 37.5,4.9 39.5,5.9 43.5,6.0 51.5,5.6 53.6,3.5 54.0,-1.0 60.0,-1.0 60.2,3.0 61.5,4.9 63.5,5.9 68.0,6.1 70.0,6.7 71.8,9.0 72.5,15.0 74.5,16.2 78.0,16.5 82.0,16.1 83.8,14.5 84.0,-1.0 114.0,-1.0 113.9,2.5 113.3,4.0 108.8,8.0 108.9,9.5 110.0,10.9 112.5,12.0 128.5,12.1 130.4,13.0 131.4,14.5 131.2,16.0 129.5,17.6 123.5,18.1 121.5,19.0 119.0,22.5 115.0,25.6 114.2,27.0 114.0,29.0 114.0,37.5 114.7,40.0 116.0,41.3 117.5,41.9 128.0,42.1 130.4,43.0 131.6,44.5 132.0,46.5 131.9,50.5 130.9,52.5 129.5,53.6 128.0,53.9 122.5,53.6 121.0,52.5 118.0,48.7 116.5,48.1 111.0,47.6 106.5,43.1 105.0,42.7 100.0,46.0 93.5,47.9 89.0,51.5 79.1,56.5 77.7,58.0 76.4,62.5 75.5,63.7 74.0,64.4 68.0,64.8 65.6,66.5 64.7,68.5 64.4,75.0 63.5,77.5 60.5,80.8 56.5,83.1 54.9,85.0 54.4,87.5 56.4,93.5 56.5,102.0 54.8,102.0 54.6,93.0 52.2,87.0 52.2,85.0 53.5,81.8 59.0,78.0 61.2,75.0 61.2,73.0 60.1,68.0 60.0,64.5 61.8,57.5 63.5,56.3 72.0,55.0 81.0,52.3 84.3,50.5 89.6,45.0 90.0,43.5 90.0,37.5 90.2,33.0 91.5,31.1 93.5,30.1 98.0,29.9 100.0,29.3 103.0,25.5 106.5,23.0 107.6,21.5 108.0,17.0 107.3,14.5 104.5,12.2 101.0,12.0 94.0,12.1 91.5,13.1 90.1,15.5 89.8,21.0 88.0,23.2 86.5,23.1 83.3,20.5 81.5,19.7 74.0,19.9 68.5,23.8 63.5,24.1 62.0,24.7 58.0,28.0 48.7,32.5 43.0,37.5 41.6,40.0 39.5,46.8 34.5,52.4 31.0,55.5 30.2,57.0 29.9,68.0 28.7,73.5 28.0,79.5 29.9,92.0 30.9,95.0 32.0,96.5 33.5,97.2 38.5,96.5 39.5,96.7 40.3,98.5 40.5,102.0 30.0,102.0 29.8,99.5 28.1,94.5 27.3,86.5 24.1,80.5 24.0,58.5 23.3,56.0 21.5,54.6 20.0,54.8 16.9,58.5 15.0,59.5 13.5,58.9 11.0,55.5 9.0,54.2 -1.0,54.0 -1.0,48.0 9.0,47.8 10.9,46.5 11.5,45.0 10.9,43.5 9.0,42.2 -1.0,42.0 -1.0,24.0 2.5,24.1 4.0,24.7 7.5,29.0 11.0,31.5 13.6,35.0 15.5,35.9 21.5,36.4 23.0,37.5 25.1,40.5 26.5,41.4 28.5,40.9 31.0,37.5 34.5,35.0 35.8,33.0 36.0,24.5 35.5,24.0 27.0,23.8 25.5,22.9 24.3,21.0 24.0,18.0 27.0,17.7 28.5,16.9 29.5,15.0 28.9,13.5 27.0,12.5 25.5,13.1 24.3,15.0 24.0,18.0 20.5,17.5 18.5,15.7 18.0,13.5ZM38.0,18.8 36.5,20.5 36.0,23.5 36.5,24.0 39.5,23.5 41.2,22.0 41.4,20.5 40.0,18.8ZM50.0,24.8 48.9,26.0 48.8,27.0 50.0,27.9 51.5,27.9 52.8,27.0 53.0,25.9 51.5,24.6ZM98.0,36.8 96.8,38.0 96.6,39.5 98.0,41.2 99.7,41.0 101.1,39.5 101.2,38.0 99.5,36.6ZM-1.0,6.5 -1.0,6.0 2.0,6.1 4.4,7.0 5.5,9.0 4.5,10.9 2.5,11.9 -1.0,12.0ZM139.6,7.0 141.0,6.5 142.5,7.1 145.5,11.0 148.9,13.5 149.4,15.5 147.7,17.5 146.0,17.9 142.0,17.9 140.5,17.6 139.0,16.4 138.1,14.5 138.1,10.0 138.5,8.3ZM145.6,43.0 147.5,42.6 149.0,43.6 149.4,45.5 148.4,47.0 146.5,47.4 145.0,46.4 144.6,44.5ZM140.3,54.5 145.0,54.0 148.0,54.7 149.0,55.6 149.5,57.0 148.9,58.5 147.7,59.5 143.0,60.0 140.0,59.3 139.0,58.4 138.5,57.0 139.1,55.5ZM151.5,66.0 156.0,66.0 156.0,78.0 153.0,77.8 151.0,76.5 149.0,73.5 145.1,70.5 144.5,69.0 145.1,67.5 146.5,66.4ZM109.6,67.0 111.0,66.5 112.4,67.0 115.0,70.5 116.5,71.6 123.7,72.5 125.0,73.6 125.9,75.5 125.6,81.5 124.4,83.0 122.5,83.9 116.5,83.6 115.0,82.5 112.0,78.7 109.5,78.0 93.5,77.9 91.6,77.0 90.7,75.5 91.5,73.6 93.5,72.2 105.5,71.6 107.0,70.5ZM133.6,85.0 135.0,84.5 136.5,85.1 139.0,88.5 142.5,91.0 145.0,94.5 148.5,97.0 149.6,98.5 150.0,102.0 142.0,102.0 126.0,102.0 126.0,94.5 126.4,92.5 127.5,91.0 131.0,88.5ZM80.3,90.5 82.5,90.0 86.5,90.1 88.0,90.7 89.3,92.0 89.9,94.0 90.0,102.0 88.5,102.0 84.0,102.0 83.9,99.5 83.3,98.0 79.5,94.9 78.6,93.5 78.8,92.0ZM109.6,91.0 111.5,90.6 113.0,91.6 113.4,93.5 112.4,95.0 110.5,95.4 109.0,94.4 108.6,92.5ZM43.9,91.5 44.5,91.3 45.2,92.0 45.2,93.0 44.5,93.8 43.0,93.5 43.0,92.5Z"/>
<path fill="#FFF564" fill-rule="evenodd" d="M97.5,12.0 104.0,12.1 106.5,13.6 107.6,15.0 108.0,16.5 107.9,20.0 107.3,22.0 103.0,25.5 100.0,29.3 98.0,29.9 93.0,30.2 91.0,31.6 90.1,34.0 89.8,44.5 88.5,46.5 84.3,50.5 81.5,52.1 73.0,54.8 64.0,56.1 62.0,57.2 60.0,64.5 60.1,68.5 61.2,73.5 61.0,75.4 58.5,78.4 53.8,81.5 52.2,85.0 52.2,87.0 54.6,93.0 54.8,102.0 53.2,102.0 53.1,93.0 52.0,90.6 51.0,89.5 50.0,89.3 49.0,90.1 47.4,94.5 45.5,97.0 43.8,99.0 43.5,102.0 40.5,102.0 40.3,98.5 39.5,96.7 33.0,97.1 31.5,95.9 30.4,94.0 28.0,80.0 28.6,74.0 29.9,68.0 30.0,58.5 30.7,56.0 39.5,46.8 41.5,40.2 42.6,38.0 48.7,32.5 58.0,28.0 62.5,24.4 68.5,23.8 72.7,20.5 74.5,19.7 81.5,19.7 83.3,20.5 86.5,23.1 88.0,23.2 89.8,21.0 90.1,15.5 91.1,13.5 93.0,12.2ZM75.0,24.4 69.5,29.6 63.5,30.1 58.0,31.4 54.1,33.5 49.5,37.6 44.6,43.0 41.7,51.5 36.4,57.0 36.0,59.0 35.8,68.0 31.7,74.5 30.4,79.0 30.2,82.0 31.4,90.5 32.9,93.5 34.0,93.8 35.0,93.5 39.0,90.0 43.0,85.5 46.5,83.0 48.8,80.5 55.9,77.0 57.6,75.5 57.9,74.5 57.5,73.0 54.2,68.5 54.0,64.5 54.7,62.5 59.5,56.0 62.0,54.4 70.0,52.0 74.5,48.4 81.0,47.6 83.6,45.0 84.0,43.0 84.0,31.0 83.6,27.0 82.0,25.1 80.5,24.2 77.0,24.0ZM44.0,91.4 42.9,93.0 43.0,93.5 44.0,93.9 45.0,93.4 45.3,92.5 45.0,91.5ZM97.7,37.0 99.5,36.6 101.0,37.7 101.3,39.0 100.0,40.8 98.5,41.3 96.8,40.0 96.6,38.5ZM-1.0,42.5 -1.0,42.0 7.5,42.0 9.5,42.4 11.4,44.5 11.4,45.5 10.5,46.9 8.0,47.9 -1.0,48.0Z"/>
<path fill="#FFFA00" fill-rule="evenodd" d="M74.9,24.5 77.0,24.0 80.5,24.2 82.0,25.1 83.6,27.0 84.0,31.0 84.0,43.0 83.6,45.0 81.0,47.6 74.5,48.4 70.0,52.0 62.0,54.4 59.5,56.0 54.7,62.5 54.0,64.5 54.2,68.5 57.5,73.0 57.9,74.5 57.6,75.5 55.9,77.0 48.8,80.5 46.5,83.0 43.0,85.5 39.0,90.0 35.0,93.5 34.0,93.8 32.9,93.5 31.4,90.5 30.2,82.0 30.4,79.0 31.7,74.5 35.8,68.0 36.0,59.0 36.4,57.0 41.7,51.5 44.6,43.0 49.5,37.6 54.1,33.5 58.0,31.4 63.5,30.1 69.5,29.6ZM39.0,70.9 37.0,72.0 35.3,74.0 32.5,80.5 32.5,85.5 33.0,87.8 34.0,88.5 35.5,87.1 36.5,80.6 41.4,78.5 43.2,76.0 43.2,74.0 42.4,72.5 41.0,71.3ZM56.5,42.4 55.0,43.5 52.5,47.0 49.0,49.5 48.1,51.5 48.1,56.5 49.5,58.9 50.5,59.3 51.5,59.1 54.5,56.1 58.0,53.2 64.8,51.0 65.9,49.5 65.9,45.5 64.4,43.0 62.0,42.1ZM50.0,72.8 48.9,74.0 48.8,75.0 49.5,75.7 51.0,76.0 52.6,75.0 52.6,74.0 51.5,72.9ZM49.6,89.5 51.0,89.5 52.0,90.6 52.9,92.5 53.2,95.0 53.2,102.0 51.4,102.0 51.0,94.1 50.5,94.0 49.7,96.0 48.2,99.5 48.0,102.0 43.5,102.0 43.8,99.0 47.0,95.2 48.5,91.0Z"/>
<path fill="#FFD200" fill-rule="evenodd" d="M56.3,42.5 61.0,42.0 64.0,42.7 65.8,45.0 66.0,49.0 64.8,51.0 58.0,53.2 54.5,56.0 51.5,59.1 50.5,59.3 49.5,58.9 48.1,56.5 48.1,51.5 49.0,49.5 52.5,47.0 55.0,43.5ZM38.7,71.0 40.5,71.0 42.0,72.0 43.0,73.5 43.3,75.5 42.7,77.0 41.5,78.4 36.5,80.6 35.6,87.0 34.0,88.5 33.0,87.8 32.5,85.5 32.5,80.5 35.3,74.0 37.0,72.0ZM49.7,73.0 51.0,72.7 52.6,74.0 52.6,75.0 51.5,75.9 50.0,75.9 48.8,75.0 48.9,74.0ZM50.5,94.0 51.0,94.1 51.2,95.0 51.4,102.0 49.5,102.0 48.0,102.0 48.0,100.5Z"/>
<path fill="#FFFFFF" fill-rule="evenodd" d="M-1.0,18.5 -1.0,18.0 3.0,18.2 5.3,20.0 5.9,22.0 6.0,25.5 4.9,28.5 3.0,29.8 -1.0,30.0ZM-1.0,72.0 14.0,72.1 15.5,72.4 16.9,73.5 17.9,75.5 18.5,81.7 19.5,83.0 22.5,85.0 23.8,87.0 24.0,102.0 -1.0,102.0ZM151.5,72.0 156.0,72.0 156.0,102.0 120.0,102.0 120.2,99.0 121.1,97.5 122.5,96.4 125.0,96.0 129.7,95.5 131.2,94.0 131.4,92.5 130.4,91.0 127.0,88.5 124.5,85.0 121.1,82.5 120.5,81.0 121.5,79.1 124.0,78.1 134.5,78.1 136.5,79.0 139.5,82.9 141.5,83.4 142.9,82.5 143.8,81.0 144.1,75.5 145.1,73.5 147.0,72.2Z"/>

<polygon points="31.2,78.6 34.7,64.7 41.6,55.5 47.4,41.6 53.2,34.7 62.4,31.2 74.0,28.9 87.8,27.7 92.4,32.4 87.8,38.1 76.3,43.9 74.0,50.8 64.7,54.3 55.5,56.6 50.8,67.0 49.7,76.3 53.2,85.5 53.2,97.1 48.5,98.2 45.1,87.8 37.0,80.9" fill="url(#hatch)"/>
<polygon points="2.3,42.8 9.2,41.6 11.6,47.4 3.5,48.5" fill="url(#hatch)"/>
<use href="#geo" fill="none" stroke="#333" stroke-width="0.7" stroke-linejoin="round"/>
<use href="#coast" fill="none" stroke="#151515" stroke-width="1.0" stroke-linejoin="round"/>
<use href="#lotw"/>

</g>
<text x="177.2" y="210.6" transform="rotate(-90 177.2 210.6)" text-anchor="start" font-size="10.25" fill="#231f20">WRFG<tspan dx="1.5">_</tspan><tspan dx="1.5">CGCM3</tspan></text>
<g transform="translate(350,120)" clip-path="url(#c12)">
<rect x="0" y="0" width="156" height="101" fill="#C8F0C8"/>
<path fill="#0A6E6E" fill-rule="evenodd" d="M55.7,73.0 57.0,72.7 58.7,74.0 59.0,75.5 58.0,76.8 56.5,77.3 54.8,76.0 54.6,74.5ZM55.7,85.0 57.0,84.7 58.7,86.0 59.0,87.5 58.0,88.8 56.5,89.3 54.8,88.0 54.6,86.5Z"/>
<path fill="#0AAA1E" fill-rule="evenodd" d="M104.5,32.0 105.0,31.5 105.5,31.7 105.6,33.0 104.5,33.1ZM92.9,48.5 97.5,48.0 100.0,48.7 101.1,50.0 101.0,51.0 98.2,52.5 93.5,53.6 91.6,53.0 90.8,52.0 90.7,51.0ZM80.3,55.0 82.0,54.8 83.4,56.5 83.2,58.0 82.0,59.2 80.5,59.4 78.8,58.0 78.9,56.5ZM52.0,68.5 56.5,68.2 59.0,68.8 63.9,72.5 65.2,74.0 65.5,75.0 65.0,76.4 61.0,80.5 61.2,82.0 63.7,85.0 64.2,87.0 63.2,89.5 61.0,92.0 57.5,95.3 55.5,96.0 51.0,95.8 49.5,94.9 48.4,93.5 48.0,91.0 48.1,76.0 50.1,70.0 50.9,69.0ZM56.0,72.8 54.6,74.5 54.8,76.0 56.0,77.2 57.7,77.0 59.0,75.5 59.0,74.5 57.5,72.9ZM56.0,84.8 54.6,86.5 54.8,88.0 56.0,89.2 57.7,89.0 59.0,87.5 59.0,86.5 57.5,84.9Z"/>
<path fill="#64C864" fill-rule="evenodd" d="M96.0,-1.0 120.0,-1.0 119.9,18.0 117.0,18.3 115.0,19.6 114.1,21.5 113.9,26.0 113.3,28.0 110.5,30.9 108.0,36.0 106.5,37.0 103.4,38.0 102.6,39.0 103.1,40.5 104.5,41.6 110.5,42.1 112.0,42.7 113.4,44.5 113.2,46.0 109.5,49.0 104.5,54.1 98.0,56.0 88.6,63.5 82.0,65.6 79.5,67.0 77.0,70.5 72.7,74.0 72.1,75.5 71.6,81.5 68.1,85.5 66.6,91.5 65.5,93.9 60.4,99.0 60.0,102.0 53.0,102.0 43.5,102.0 43.4,99.0 42.7,97.0 38.0,93.0 37.8,91.0 38.5,87.0 39.5,85.7 42.0,84.0 43.2,82.0 43.3,80.0 42.6,75.5 43.3,74.5 46.0,72.5 48.8,68.5 51.0,67.0 57.5,66.0 68.0,65.9 70.0,65.3 71.2,64.0 71.4,62.5 68.5,59.0 68.2,58.0 68.8,57.0 74.0,55.0 81.5,48.3 86.0,47.9 87.5,47.3 89.6,45.0 90.2,40.0 91.9,37.5 94.0,36.2 98.5,35.9 99.9,35.0 101.9,26.5 101.6,20.5 100.5,19.1 99.0,18.2 92.5,17.6 91.1,16.5 90.5,15.0 91.1,13.5 92.5,12.4 99.0,11.8 100.5,10.9 101.4,9.5 100.9,7.5 97.5,5.0 96.5,3.7ZM104.5,31.9 104.5,33.1 105.5,33.1 105.5,31.7ZM52.5,68.4 50.4,69.5 48.1,76.0 48.2,93.0 49.1,94.5 50.5,95.6 55.0,96.0 57.5,95.3 60.5,92.5 63.2,89.5 64.2,87.0 63.7,85.0 61.2,82.0 61.0,80.5 64.9,76.5 65.4,74.5 64.5,73.0 59.5,69.0 57.0,68.2ZM80.5,54.9 79.2,56.0 78.7,57.5 79.7,59.0 81.5,59.4 83.0,58.3 83.4,56.5 82.0,54.8ZM93.0,48.4 91.5,49.6 90.7,51.0 91.5,52.9 93.5,53.6 98.0,52.6 99.7,52.0 101.0,51.0 101.1,50.0 100.4,49.0 98.0,48.1ZM73.5,6.0 81.0,6.2 82.9,7.5 83.9,9.5 83.9,14.0 83.0,15.5 80.5,16.4 75.5,16.5 68.5,17.5 67.0,16.4 66.1,14.5 66.1,9.5 67.1,7.5 69.0,6.2ZM120.0,18.5 120.5,18.0 122.0,18.1 124.4,19.0 125.4,20.5 124.9,22.5 123.0,23.5 121.5,22.9 120.3,21.0Z"/>
<path fill="#FFFCC8" fill-rule="evenodd" d="M-1.0,-1.0 12.0,-1.0 11.8,9.0 10.5,11.0 7.0,13.5 4.0,17.3 2.5,17.9 -1.0,18.0ZM42.0,-1.0 54.0,-1.0 53.9,2.5 53.0,4.4 49.5,7.0 47.0,10.5 43.5,13.0 42.2,15.0 42.1,26.0 42.7,28.0 44.0,29.3 46.5,30.0 56.5,29.8 58.0,28.9 62.5,24.4 69.5,23.6 74.5,19.9 80.0,19.6 83.0,20.3 90.0,24.0 91.3,26.5 91.5,31.5 91.0,33.5 90.0,35.0 84.5,39.0 81.5,42.0 78.4,46.5 75.0,49.8 73.0,52.5 71.5,53.7 65.7,56.5 61.0,62.2 58.5,63.5 50.5,65.7 44.5,70.3 40.5,71.4 38.9,72.5 37.9,75.0 39.8,79.5 40.0,81.0 36.3,86.5 34.8,93.5 36.0,96.0 40.0,98.9 40.5,102.0 37.0,102.0 -1.0,102.0 -1.0,66.0 2.5,65.9 4.5,64.9 5.8,63.0 6.0,60.0 5.8,57.0 4.5,55.1 2.5,54.1 -1.0,54.0 -1.0,48.0 3.5,47.6 4.9,46.5 5.5,45.0 4.9,43.5 3.5,42.4 -1.0,42.0 -1.0,36.0 15.0,36.2 17.0,37.5 19.5,41.0 21.5,41.9 32.0,41.9 34.4,41.0 35.2,40.0 35.4,38.5 34.5,37.1 31.5,35.0 30.5,33.7 29.8,27.0 28.5,25.1 26.0,24.1 15.0,23.8 13.1,22.5 12.6,20.5 14.5,18.4 20.5,17.9 22.9,16.5 23.9,14.5 24.2,9.0 26.0,6.7 28.5,6.0 38.0,5.9 40.4,5.0 41.8,3.0ZM81.0,24.4 79.5,25.1 77.0,28.5 75.5,29.6 63.5,30.2 62.0,31.1 57.5,35.6 51.5,36.1 49.5,37.0 47.8,39.5 46.0,45.7 44.0,48.4 40.8,51.0 34.5,53.0 32.5,54.6 30.2,63.0 29.9,67.5 29.0,68.8 27.5,69.2 25.9,68.5 24.1,63.5 21.0,60.4 16.0,60.1 13.5,61.0 11.4,64.5 10.7,69.5 12.0,72.0 16.1,75.0 17.6,81.0 16.5,83.0 13.6,85.0 12.6,87.0 13.4,88.0 14.5,88.3 20.5,88.4 25.0,86.6 27.0,86.3 29.5,87.0 32.0,88.6 33.0,88.4 36.9,81.0 34.7,74.5 35.1,71.5 36.0,69.5 38.5,68.2 45.0,67.6 50.0,64.3 57.5,61.1 63.0,56.0 70.2,52.5 76.1,45.0 77.6,40.0 79.0,37.5 81.5,35.8 86.0,34.5 87.6,33.5 88.2,32.5 88.4,30.5 88.4,28.0 87.7,26.5 86.0,25.5ZM8.0,90.8 6.8,92.0 6.6,93.5 7.5,94.8 9.0,95.2 10.0,93.9 10.1,92.0 9.5,90.8ZM26.0,54.9 25.0,55.7 24.7,57.0 25.8,58.5 27.0,58.8 28.0,57.5 28.0,56.3 27.2,55.0ZM24.5,90.9 16.0,91.7 14.5,92.3 14.0,94.0 15.0,95.5 18.5,96.0 26.0,95.9 28.4,95.0 29.3,93.5 28.4,91.5 26.5,90.5ZM146.3,12.5 148.5,12.0 157.0,12.0 157.0,30.0 142.0,30.1 140.5,30.7 139.2,32.0 138.8,34.0 140.0,35.3 142.0,35.9 157.0,36.0 157.0,42.0 153.5,42.1 151.5,43.0 149.0,46.5 145.0,49.5 142.5,53.0 139.5,55.1 138.5,57.0 139.1,58.5 141.0,59.8 146.5,59.9 148.5,59.0 152.0,54.7 153.5,54.1 157.0,54.0 157.0,102.0 138.0,102.0 137.8,99.0 137.0,97.5 133.5,95.0 131.0,91.5 127.5,89.0 124.0,84.7 121.5,84.0 111.0,84.0 105.0,84.2 102.8,86.0 102.5,87.0 103.0,88.4 106.5,91.1 107.5,93.0 106.5,94.9 102.7,98.0 102.1,99.5 102.0,102.0 78.0,102.0 78.2,99.0 79.5,97.1 81.5,96.1 86.0,95.9 88.0,95.3 91.0,91.5 94.4,89.0 95.4,87.5 95.4,86.5 94.5,85.1 91.5,83.0 89.0,79.5 84.7,76.0 84.0,73.5 84.4,69.5 86.0,68.0 92.5,64.9 98.5,64.4 100.5,63.7 111.0,54.2 117.5,51.7 118.5,50.1 119.6,45.5 118.6,39.0 120.0,36.0 124.8,33.5 128.5,30.4 135.0,29.6 140.5,24.4 146.5,23.9 148.9,22.5 149.4,21.5 149.2,20.0 145.5,16.9 144.6,15.5 144.8,14.0ZM111.5,60.3 109.5,61.6 106.5,65.0 104.5,66.2 100.5,67.3 94.0,67.6 92.0,68.3 91.2,69.0 90.9,70.0 91.6,71.0 93.0,71.8 109.0,72.0 112.0,71.3 113.3,70.0 113.9,68.5 114.0,60.5 113.5,60.0ZM128.5,36.4 124.0,37.5 122.4,38.5 122.1,39.5 122.5,40.7 123.5,41.6 125.0,42.0 129.0,41.8 131.2,40.0 131.4,38.5 130.9,37.5 130.0,36.7ZM123.5,48.4 122.3,49.5 120.0,54.0 115.4,56.5 114.1,58.5 114.0,59.5 114.5,60.0 122.0,59.9 124.5,59.0 127.0,55.5 130.4,53.0 131.4,51.5 131.2,50.0 129.5,48.4 127.0,48.0ZM-1.0,24.5 -1.0,24.0 2.0,24.1 4.4,25.0 5.5,27.0 4.5,28.9 2.5,29.9 -1.0,30.0Z"/>
<path fill="#FFF564" fill-rule="evenodd" d="M80.6,24.5 86.0,25.5 87.7,26.5 88.4,28.0 88.4,30.5 88.2,32.5 87.6,33.5 86.0,34.5 81.5,35.8 79.0,37.5 77.6,40.0 76.1,45.0 70.2,52.5 63.0,56.0 57.5,61.1 50.0,64.3 45.0,67.6 38.5,68.2 36.0,69.5 35.1,71.5 34.7,74.5 36.9,81.0 33.0,88.4 32.0,88.6 29.5,87.0 27.0,86.3 25.0,86.6 20.5,88.4 14.5,88.3 13.4,88.0 12.6,87.0 13.5,85.1 16.5,83.0 17.6,81.0 16.1,75.0 12.0,72.0 10.7,69.5 11.4,64.5 13.5,61.0 16.0,60.1 21.0,60.4 24.1,63.5 25.9,68.5 27.5,69.2 29.0,68.8 29.9,67.5 30.2,63.0 32.5,54.6 34.5,53.0 40.8,51.0 44.0,48.4 46.0,45.7 47.8,39.5 49.5,37.0 51.5,36.1 57.5,35.6 62.0,31.1 63.5,30.2 75.5,29.6 77.0,28.5 79.0,25.5ZM15.5,66.4 14.2,68.0 14.4,69.5 18.5,72.6 23.4,82.5 25.0,83.5 27.0,83.9 31.0,84.0 32.5,83.6 33.7,82.0 34.0,80.5 31.0,72.8 29.5,71.8 24.0,70.5 20.5,66.4 18.0,66.0ZM60.0,42.0 51.5,42.4 50.0,44.0 46.0,51.1 37.5,54.6 35.1,56.5 34.6,58.0 34.5,61.5 34.8,63.5 35.5,64.6 37.0,65.5 39.0,65.9 43.5,66.0 45.3,65.5 51.5,61.3 56.7,58.5 60.0,55.0 67.7,52.0 69.7,50.5 71.4,45.0 70.5,43.1 68.0,42.1ZM140.9,30.5 143.0,30.0 157.0,30.0 157.0,36.0 155.5,36.0 142.5,36.0 140.5,35.6 139.1,34.5 138.7,33.0ZM128.2,36.5 129.5,36.5 130.9,37.5 131.4,38.5 131.2,40.0 129.0,41.8 125.5,42.0 124.0,41.8 122.8,41.0 122.1,39.5 122.4,38.5 124.0,37.5ZM155.8,42.0 157.0,42.0 157.0,54.0 153.5,54.1 152.0,54.7 149.0,58.5 147.0,59.8 142.5,60.0 140.5,59.6 138.6,57.5 139.1,55.5 143.0,52.5 145.5,49.0 149.0,46.5 151.6,43.0 153.0,42.2ZM-1.0,42.5 -1.0,42.0 2.0,42.1 4.4,43.0 5.5,45.0 4.5,46.9 2.5,47.9 -1.0,48.0ZM123.3,48.5 125.0,48.0 129.0,48.2 130.9,49.5 131.5,51.0 130.9,52.5 127.0,55.5 125.0,58.5 122.5,59.9 114.5,60.0 114.1,59.0 114.5,57.5 115.4,56.5 120.0,54.0ZM111.0,60.5 113.5,60.0 114.0,60.5 113.9,68.5 113.3,70.0 112.0,71.3 109.5,72.0 93.5,71.9 91.2,70.5 90.9,69.5 91.7,68.5 93.5,67.7 100.0,67.4 104.5,66.2 106.5,65.0ZM7.7,91.0 9.0,90.6 10.0,91.5 10.1,93.5 9.2,95.0 7.7,95.0 6.6,93.5 6.8,92.0Z"/>
<path fill="#FFFA00" fill-rule="evenodd" d="M60.0,42.0 68.0,42.1 70.5,43.1 71.4,45.0 69.7,50.5 67.7,52.0 60.0,55.0 56.7,58.5 51.5,61.3 45.5,65.4 43.5,66.0 39.0,65.9 37.0,65.5 35.5,64.6 34.8,63.5 34.5,61.5 34.6,58.0 35.1,56.5 37.5,54.6 46.0,51.1 50.0,44.0 51.5,42.4ZM62.0,48.8 61.2,49.5 61.0,50.6 62.0,51.3 63.5,51.3 64.7,50.5 64.7,49.5 63.5,48.6ZM51.5,48.9 48.0,53.0 40.5,55.6 38.2,57.0 37.6,58.5 37.7,62.0 38.5,63.3 40.0,63.8 43.5,63.9 45.5,63.3 53.5,56.5 54.0,55.0 53.8,51.0 52.9,49.5ZM15.3,66.5 17.0,66.0 20.0,66.2 21.3,67.0 22.9,69.5 24.0,70.5 29.0,71.6 30.7,72.5 31.7,74.0 34.0,80.5 33.7,82.0 32.6,83.5 31.0,84.0 27.0,83.9 25.0,83.5 23.5,82.6 20.6,77.5 18.5,72.6 14.4,69.5 14.2,68.0ZM26.0,73.0 23.5,74.0 23.0,75.5 25.1,80.0 27.1,81.5 28.5,81.3 29.6,80.5 29.9,76.0 29.4,74.5 28.5,73.6Z"/>
<path fill="#FFD200" fill-rule="evenodd" d="M51.4,49.0 52.5,49.2 53.8,51.0 54.0,55.0 53.5,56.5 45.5,63.3 44.0,63.8 40.5,63.9 38.5,63.3 37.7,62.0 37.6,58.5 38.2,57.0 40.5,55.6 48.0,53.0ZM44.0,56.9 43.2,57.5 43.3,58.5 44.5,59.2 45.5,58.8 46.3,58.0 46.4,57.0 45.5,56.6ZM61.7,49.0 63.0,48.5 64.3,49.0 64.9,50.0 64.0,51.1 62.5,51.4 61.3,51.0 61.0,50.0ZM25.9,73.0 28.5,73.6 29.4,74.5 29.9,76.0 29.8,80.0 29.1,81.0 27.5,81.5 25.4,80.5 23.0,75.5 23.5,74.0Z"/>
<path fill="#FFAA00" fill-rule="evenodd" d="M43.8,57.0 45.0,56.6 46.4,57.0 45.9,58.5 45.0,59.1 43.8,59.0 43.1,58.0Z"/>
<path fill="#FFFFFF" fill-rule="evenodd" d="M-1.0,72.0 7.5,72.0 10.0,72.7 13.5,77.0 17.0,79.5 19.5,83.0 23.0,85.5 24.0,88.5 24.0,102.0 -1.0,102.0ZM139.5,72.0 157.0,72.0 157.0,102.0 121.0,102.0 114.0,102.0 113.9,87.5 113.0,85.5 109.5,83.0 108.4,81.5 108.0,76.5 108.7,74.0 110.5,72.6 112.0,72.8 115.5,77.0 117.5,77.9 128.0,77.9 130.5,77.0 133.0,73.5 134.3,72.5ZM92.3,84.5 97.0,84.0 100.0,84.7 101.0,85.6 101.5,87.0 100.9,88.5 99.7,89.5 95.0,90.0 92.0,89.3 91.0,88.4 90.5,87.0 91.1,85.5ZM68.3,96.5 73.0,96.0 76.0,96.7 77.6,98.5 78.0,102.0 76.0,102.0 66.0,102.0 66.4,98.5ZM92.3,96.5 97.0,96.0 100.0,96.7 101.6,98.5 102.0,102.0 100.0,102.0 90.0,102.0 90.4,98.5Z"/>

<polygon points="32.4,65.9 37.0,58.9 46.2,53.2 52.0,46.2 60.1,42.8 69.3,43.9 68.2,49.7 57.8,55.5 50.8,60.1 43.9,65.9 37.0,68.2" fill="url(#hatch)"/>
<polygon points="23.1,80.9 26.6,75.1 33.5,75.1 34.7,82.0 28.9,85.5" fill="url(#hatch)"/>
<polygon points="49.7,76.3 55.5,71.6 62.4,76.3 61.2,92.4 55.5,93.6 50.8,85.5" fill="url(#hatch)"/>
<polygon points="99.4,4.6 106.3,0.0 122.5,0.0 120.2,8.1 108.6,9.2" fill="url(#hatch)"/>
<use href="#geo" fill="none" stroke="#333" stroke-width="0.7" stroke-linejoin="round"/>
<use href="#coast" fill="none" stroke="#151515" stroke-width="1.0" stroke-linejoin="round"/>
<use href="#lotw"/>

</g>
<text x="346.7" y="205.4" transform="rotate(-90 346.7 205.4)" text-anchor="start" font-size="10.25" fill="#231f20">WRFG<tspan dx="1.5">_</tspan><tspan dx="1.5">CCSM</tspan></text>
<g transform="translate(519,120)" clip-path="url(#c13)">
<rect x="0" y="0" width="156" height="101" fill="#C8F0C8"/>
<path fill="#64C864" fill-rule="evenodd" d="M42.0,-1.0 54.0,-1.0 53.9,2.5 52.9,4.5 51.5,5.6 50.0,5.9 44.5,5.6 42.4,3.5ZM19.7,67.0 20.5,66.7 21.5,67.2 22.3,69.0 23.6,75.0 22.4,77.0 21.0,77.5 20.0,77.2 18.2,75.0 18.1,69.5 18.7,68.0ZM73.8,68.5 75.0,68.1 76.5,68.5 77.1,69.5 76.3,71.0 75.0,71.5 73.5,70.8 73.0,69.5Z"/>
<path fill="#FFFCC8" fill-rule="evenodd" d="M-1.0,-1.0 6.0,-1.0 5.8,3.0 4.5,4.9 2.5,5.9 -1.0,6.0ZM114.0,-1.0 126.0,-1.0 126.0,5.5 126.5,6.0 134.0,6.1 136.4,7.0 137.9,9.5 138.0,17.5 138.5,18.0 142.0,17.3 145.0,13.5 147.0,12.2 157.0,12.0 157.0,48.0 141.5,47.9 139.5,47.0 136.4,43.0 135.0,42.5 134.0,42.8 130.5,47.0 126.7,50.0 126.1,52.0 125.8,57.0 124.4,59.0 122.5,59.9 117.5,60.1 111.5,61.6 109.0,63.0 109.1,64.5 112.4,67.0 113.4,68.5 112.9,70.5 110.5,71.9 106.0,71.9 104.0,71.3 100.5,67.0 97.0,64.5 94.5,61.0 92.0,60.1 87.0,60.4 81.5,65.5 75.0,64.8 69.1,67.5 66.9,69.0 66.2,70.0 65.9,74.5 65.3,76.0 61.6,79.5 60.7,81.0 61.5,82.9 65.0,85.6 65.5,87.0 65.2,88.0 63.0,89.8 58.0,90.3 56.9,92.0 57.0,94.5 59.8,99.0 60.0,102.0 56.1,102.0 54.8,92.5 55.6,81.5 56.5,79.0 59.8,74.5 60.5,69.5 63.1,67.5 71.5,63.2 78.5,61.4 80.5,60.4 89.0,52.6 95.3,45.5 95.9,44.0 96.1,39.5 97.1,37.5 99.0,36.2 105.0,35.6 107.3,33.5 108.0,31.5 107.6,26.5 106.4,25.0 104.5,24.1 93.0,24.2 91.0,25.5 88.0,29.3 86.5,29.9 84.0,30.0 82.0,29.9 80.5,29.3 75.5,24.4 70.0,24.1 68.0,24.7 66.7,26.0 66.1,27.5 65.8,33.0 64.9,34.5 63.5,35.6 61.5,36.0 52.5,36.0 50.0,37.1 47.6,40.0 45.5,46.8 33.6,59.5 31.8,62.5 30.4,69.0 31.2,74.5 29.4,81.0 30.5,89.5 31.7,93.5 33.0,95.8 35.0,97.2 39.5,98.7 40.3,100.0 40.5,102.0 30.0,102.0 29.9,99.5 28.5,93.0 27.8,86.0 27.6,81.0 28.2,75.0 25.8,69.0 26.3,67.0 28.2,63.5 30.0,57.0 31.5,55.0 34.9,52.0 35.8,50.5 35.9,46.0 35.3,44.0 34.0,42.7 32.5,42.1 24.5,42.0 24.0,42.5 23.8,51.0 22.9,52.5 21.5,53.4 19.5,52.9 16.5,49.1 14.5,48.4 8.0,50.0 3.0,53.8 -1.0,54.0 -1.0,48.0 2.5,47.9 8.5,46.4 10.5,45.5 11.2,44.5 10.4,43.0 8.5,42.1 -1.0,42.0 -1.0,36.0 15.0,36.2 17.0,37.5 20.0,41.3 23.5,42.0 24.0,41.5 24.0,30.5 24.5,30.0 31.5,30.0 33.5,29.6 35.0,28.5 37.6,25.0 39.0,24.3 41.0,24.0 42.0,24.5 42.2,33.0 43.5,34.9 45.0,35.3 46.5,34.4 49.5,31.0 52.5,29.0 53.6,27.5 54.0,25.5 54.1,15.5 54.7,14.0 56.0,12.8 57.5,12.6 58.5,13.1 61.0,16.5 62.5,17.6 64.5,18.0 69.0,17.8 70.5,16.9 71.6,15.5 72.1,9.5 72.7,8.0 74.0,6.8 75.5,6.6 77.6,8.5 78.1,14.5 79.5,16.9 82.0,17.9 87.0,17.8 88.5,17.0 91.0,13.5 93.0,12.2 104.0,11.9 106.0,11.3 109.5,7.0 113.3,4.0 113.9,2.5ZM116.5,12.5 114.8,14.0 114.6,15.5 116.0,17.3 118.0,17.9 119.5,18.0 120.0,17.5 120.0,12.5 119.5,12.0ZM122.5,6.5 120.5,8.5 120.0,11.5 120.5,12.0 123.5,11.5 125.5,9.5 126.0,6.5 125.5,6.0ZM104.5,42.5 103.0,43.5 100.5,47.0 97.6,49.5 96.7,51.5 97.5,52.9 99.0,53.6 104.5,52.6 111.5,52.2 112.8,51.5 113.3,50.5 112.4,49.0 108.7,46.0 108.0,42.3 106.5,42.0ZM110.5,36.9 108.5,39.0 108.0,41.5 108.5,42.0 111.0,41.7 112.9,40.5 113.5,39.0 112.5,37.1 111.5,36.7ZM120.5,18.0 120.0,18.5 120.1,26.5 120.7,28.0 122.0,29.3 124.5,30.0 129.0,29.8 131.0,28.5 133.0,25.5 137.3,22.0 138.0,19.5 138.0,18.5 137.5,18.0ZM104.5,55.9 102.8,57.5 104.0,59.2 105.5,59.6 110.0,58.5 112.3,57.5 112.5,56.5 111.8,56.0 108.5,55.6ZM19.6,13.0 21.0,12.5 22.0,12.8 23.8,15.0 24.0,29.5 23.5,30.0 21.0,29.7 18.6,28.0 16.5,25.0 13.1,22.5 12.5,21.0 13.1,19.5 16.5,17.0ZM43.6,19.0 45.5,18.6 47.2,20.0 47.2,22.0 45.6,23.5 42.5,24.0 42.0,23.5 42.5,20.5ZM80.3,78.5 82.0,78.1 86.0,78.1 87.5,78.4 89.0,79.6 89.9,82.0 90.0,91.5 90.4,93.5 91.5,94.9 93.0,95.8 98.5,96.1 100.5,97.1 101.8,99.0 102.0,102.0 99.5,102.0 78.0,102.0 78.1,82.0 78.7,80.0ZM134.3,78.5 136.5,78.0 145.5,78.0 148.4,79.0 149.8,81.0 150.1,86.5 151.0,88.4 153.0,89.8 157.0,90.0 157.0,96.0 156.0,96.0 148.0,95.9 145.5,95.0 143.0,91.5 139.5,89.0 137.0,85.5 133.0,82.4 132.6,80.5ZM110.3,90.5 115.0,90.0 118.0,90.7 119.0,91.6 119.5,93.0 118.9,94.5 117.7,95.5 113.0,96.0 110.0,95.3 109.0,94.4 108.5,93.0 109.1,91.5Z"/>
<path fill="#FFF564" fill-rule="evenodd" d="M97.5,24.0 104.0,24.1 106.5,25.1 107.9,27.5 108.0,31.5 107.6,33.0 105.0,35.6 99.0,36.2 97.1,37.5 96.1,39.5 95.9,44.0 95.3,45.5 89.0,52.6 80.5,60.4 78.5,61.4 71.5,63.2 63.1,67.5 60.5,69.5 59.8,74.5 56.5,79.0 55.6,81.5 54.8,92.5 56.1,102.0 54.0,102.0 52.5,86.0 52.6,80.5 53.9,74.5 54.4,69.5 56.0,68.0 64.8,63.5 69.0,60.4 75.0,59.8 77.5,58.8 89.5,47.5 91.2,45.0 90.6,40.5 88.5,37.0 86.5,36.1 80.5,35.6 76.5,31.6 75.0,30.7 73.5,31.1 72.5,32.3 71.8,38.0 70.0,39.9 62.5,41.9 53.0,42.0 51.3,42.5 49.8,44.5 48.0,50.5 42.0,55.0 36.4,63.0 35.9,68.5 34.6,74.0 31.3,79.5 31.1,83.0 32.5,88.4 34.6,93.0 37.0,95.1 42.5,97.4 43.3,99.0 43.5,102.0 40.5,102.0 40.3,100.0 39.5,98.7 33.5,96.3 32.0,94.2 30.7,90.5 29.4,81.0 31.2,74.5 30.4,68.5 31.6,63.0 33.0,60.2 45.4,47.0 47.6,40.0 50.0,37.1 52.5,36.0 62.5,35.9 64.9,34.5 65.9,32.5 66.2,27.0 68.0,24.7 70.5,24.0 75.0,24.2 76.5,25.0 81.0,29.6 85.0,30.0 87.0,29.8 88.4,29.0 91.0,25.5 92.5,24.4ZM-1.0,42.5 -1.0,42.0 9.0,42.2 10.4,43.0 11.1,44.0 11.0,45.0 9.7,46.0 3.0,47.8 -1.0,48.0ZM104.3,56.0 107.5,55.6 111.8,56.0 112.5,56.5 112.3,57.5 110.1,58.5 104.5,59.5 103.2,58.5 102.8,57.5Z"/>
<path fill="#FFFA00" fill-rule="evenodd" d="M73.7,31.0 75.0,30.7 76.0,31.2 80.5,35.6 86.5,36.1 88.5,37.0 89.7,38.5 90.8,41.0 91.3,44.0 91.0,45.5 83.5,53.5 77.5,58.8 75.0,59.8 69.0,60.4 64.8,63.5 54.7,69.0 54.1,70.5 53.9,74.5 52.5,82.0 54.0,102.0 51.8,102.0 51.4,93.5 51.0,91.9 49.9,90.5 48.5,90.1 48.0,90.5 48.0,102.0 43.5,102.0 43.3,99.0 42.6,97.5 36.5,94.8 34.0,91.9 32.0,86.9 31.0,81.0 31.8,78.5 34.6,74.0 35.9,68.5 36.2,63.5 42.0,55.0 48.0,50.5 49.8,44.5 51.0,42.7 53.0,42.0 62.5,41.9 70.0,39.9 71.6,38.5 72.2,33.0ZM74.0,42.5 67.2,44.5 61.5,49.0 59.0,52.5 57.5,53.6 51.0,54.2 45.5,55.7 44.0,56.9 42.4,63.0 43.0,64.4 44.0,65.3 46.0,65.9 50.0,65.9 57.0,64.3 59.9,62.5 68.0,54.8 70.0,54.7 73.5,57.3 75.5,57.2 78.0,54.0 81.7,51.5 84.0,48.0 87.5,45.5 87.6,43.5 86.0,42.2 77.0,42.0ZM39.5,72.8 38.1,74.0 36.4,77.5 33.4,80.0 32.9,81.5 34.8,87.5 37.0,91.8 38.5,93.3 40.5,93.5 45.0,90.5 47.8,90.0 48.0,88.5 47.0,85.5 42.4,81.0 41.8,75.0 40.9,73.5Z"/>
<path fill="#FFD200" fill-rule="evenodd" d="M73.9,42.5 76.5,42.0 86.0,42.2 87.6,43.5 87.5,45.5 84.0,48.0 81.7,51.5 78.0,54.0 75.5,57.2 73.5,57.3 70.0,54.7 68.0,54.8 63.9,59.0 57.5,64.1 50.0,65.9 46.0,65.9 44.3,65.5 43.1,64.5 42.4,63.0 44.0,56.9 45.5,55.7 51.0,54.2 57.5,53.6 59.0,52.5 61.5,49.0 67.2,44.5ZM39.1,73.0 40.0,72.9 41.3,74.0 41.9,75.5 42.4,81.0 47.0,85.5 47.9,88.0 47.8,90.0 45.0,90.5 41.0,93.3 39.0,93.5 37.1,92.0 34.8,87.5 32.9,82.0 33.4,80.0 36.4,77.5ZM38.5,85.3 38.0,86.5 38.4,88.0 39.0,88.6 40.2,88.5 41.0,87.5 41.0,86.5 39.5,85.1ZM48.0,90.5 48.5,90.1 49.5,90.3 51.0,92.0 51.8,102.0 48.0,102.0Z"/>
<path fill="#FFAA00" fill-rule="evenodd" d="M38.4,85.5 39.5,85.1 40.7,86.0 41.1,87.0 40.5,88.2 39.5,88.8 38.5,88.2 38.0,87.0Z"/>
<path fill="#FFFFFF" fill-rule="evenodd" d="M-1.0,24.5 -1.0,24.0 2.0,24.1 4.4,25.0 5.5,27.0 4.5,28.9 2.5,29.9 -1.0,30.0ZM-1.0,72.0 14.0,72.1 15.5,72.4 16.9,73.5 17.9,75.5 18.5,81.7 19.5,83.0 22.5,85.0 23.8,87.0 24.0,102.0 -1.0,102.0ZM145.5,72.0 157.0,72.0 157.0,102.0 114.0,102.0 114.0,97.5 114.1,82.0 114.4,80.5 115.5,79.1 117.0,78.5 118.4,79.0 121.5,83.0 125.0,85.5 125.9,87.5 126.4,93.5 128.0,95.2 129.5,95.4 130.9,94.5 131.8,93.0 132.1,87.5 132.7,86.0 136.5,83.0 137.6,81.5 138.1,75.5 138.7,74.0 141.0,72.2ZM85.6,85.0 87.5,84.6 89.0,85.6 89.4,87.5 88.4,89.0 86.5,89.4 85.0,88.4 84.6,86.5Z"/>

<polygon points="32.4,97.1 34.7,78.6 38.1,69.3 43.9,60.6 57.8,55.0 63.1,43.0 79.0,40.7 87.8,37.0 95.0,39.3 95.0,55.0 80.0,60.1 80.0,67.0 58.9,67.0 57.5,73.7 49.7,76.3 48.5,87.8 52.0,99.8 46.2,100.5 37.0,94.8" fill="url(#hatch)"/>
<use href="#geo" fill="none" stroke="#333" stroke-width="0.7" stroke-linejoin="round"/>
<use href="#coast" fill="none" stroke="#151515" stroke-width="1.0" stroke-linejoin="round"/>
<use href="#lotw"/>

</g>
<text x="515.7" y="209.8" transform="rotate(-90 515.7 209.8)" text-anchor="start" font-size="10.25" fill="#231f20">WRFG<tspan dx="1.5">_</tspan><tspan dx="1.5">CGCM3</tspan></text>
<g transform="translate(12,222)" clip-path="url(#c20)">
<rect x="0" y="0" width="156" height="101" fill="#C8F0C8"/>
<path fill="#0AAA1E" fill-rule="evenodd" d="M62.9,78.5 67.5,78.0 69.8,79.0 71.1,81.0 70.5,82.3 69.1,83.5 67.5,84.0 64.0,83.9 61.6,83.0 60.8,82.0 60.7,81.0ZM79.8,79.5 80.5,79.2 81.5,79.7 81.8,80.5 81.3,81.5 80.0,81.7 79.2,81.0ZM61.7,91.0 63.0,90.8 64.0,92.2 64.0,94.0 62.8,95.5 60.5,96.0 60.0,95.5 60.5,92.5ZM57.9,96.5 59.5,96.1 60.0,96.5 60.0,102.0 58.5,102.0 56.2,102.0 56.5,98.5Z"/>
<path fill="#64C864" fill-rule="evenodd" d="M67.6,73.0 70.0,72.8 73.5,76.4 75.0,77.1 79.5,74.1 82.0,74.1 84.0,75.5 85.2,79.0 85.2,82.0 83.5,84.4 81.0,85.4 76.0,84.6 74.5,84.8 68.4,91.0 67.9,92.5 68.2,94.5 71.3,98.0 71.9,100.0 72.0,102.0 60.0,102.0 60.0,96.5 59.0,96.1 57.5,96.8 56.7,98.0 56.2,102.0 54.0,102.0 54.2,98.0 55.4,92.5 55.5,82.5 56.1,80.0 58.0,77.1 60.0,75.5 62.5,74.3ZM80.0,79.4 79.2,81.0 80.0,81.7 81.0,81.7 81.7,81.0 81.7,80.0 81.0,79.2ZM63.0,78.4 61.5,79.6 60.7,81.0 60.8,82.0 61.6,83.0 64.0,83.9 69.0,83.6 71.0,81.5 71.0,80.5 70.0,79.1 67.5,78.0ZM62.0,90.9 60.5,92.5 60.0,95.5 60.5,96.0 62.5,95.7 63.7,94.5 64.1,92.5 63.2,91.0Z"/>
<path fill="#FFFCC8" fill-rule="evenodd" d="M6.0,-1.0 42.0,-1.0 42.2,2.0 43.4,4.0 46.0,5.8 50.5,6.1 52.5,7.1 53.8,9.0 54.1,14.0 54.7,15.5 57.0,17.6 60.0,18.0 63.5,17.6 65.4,15.5 64.9,13.5 60.8,10.0 60.6,8.5 61.6,7.0 64.5,6.0 81.0,5.8 82.5,4.9 83.6,3.5 84.0,-1.0 144.0,-1.0 143.6,3.5 142.5,5.0 139.1,7.5 138.6,8.5 138.8,10.0 143.0,13.5 145.5,17.0 149.0,19.5 151.6,23.0 153.5,23.9 157.0,24.0 157.0,36.0 148.5,36.0 146.5,36.4 144.4,38.5 144.0,42.0 144.1,44.5 144.7,46.0 149.0,49.5 151.5,53.0 153.5,53.9 157.0,54.0 157.0,102.0 133.5,102.0 102.0,102.0 101.9,69.5 101.0,67.6 99.5,66.4 94.5,66.0 90.0,66.1 89.5,69.5 87.5,71.5 81.0,70.3 77.0,68.7 70.0,68.5 68.2,69.0 64.5,71.4 58.0,73.7 56.0,74.9 54.5,77.0 52.6,81.5 51.9,102.0 -1.0,102.0 -1.0,66.0 2.5,65.9 4.0,65.3 7.5,61.0 10.9,58.5 11.5,57.0 10.9,55.5 9.0,54.2 -1.0,54.0 -1.0,48.0 3.5,47.6 4.9,46.5 5.5,45.0 4.9,43.5 3.5,42.4 -1.0,42.0 -1.0,6.0 3.0,5.8 4.9,4.5 5.9,2.5ZM20.0,24.8 18.2,27.0 18.1,32.5 19.6,35.0 21.0,35.5 22.0,35.2 23.8,33.0 23.9,27.5 22.4,25.0 21.0,24.5ZM36.0,5.0 32.5,5.9 27.5,6.1 26.0,6.7 24.2,9.0 24.0,13.0 24.5,15.7 27.5,19.2 28.3,21.0 28.6,33.5 30.0,39.0 31.0,40.5 32.5,41.6 39.0,42.4 40.9,44.0 41.9,46.0 41.6,51.5 40.5,53.0 37.0,55.5 36.1,58.0 36.1,62.5 37.3,68.5 35.0,75.0 35.6,76.5 39.4,80.0 40.1,81.5 38.1,87.0 38.8,88.0 42.4,90.5 44.5,94.8 45.5,95.3 46.5,94.9 47.9,92.5 48.1,87.5 49.8,80.5 52.3,75.5 55.0,72.9 62.0,70.3 68.5,67.1 74.5,66.7 76.5,66.0 77.5,64.7 79.5,60.1 81.5,58.3 87.0,58.5 94.0,59.9 104.0,59.9 105.5,59.6 106.9,58.5 107.4,57.5 107.2,56.0 103.5,53.0 101.0,49.5 90.7,39.5 90.1,38.0 89.8,33.0 88.0,30.7 85.5,30.0 76.0,29.9 69.5,28.6 58.5,28.4 56.0,27.9 54.2,26.0 53.9,22.0 53.3,20.5 49.0,16.5 42.0,7.0 39.0,4.8ZM116.5,24.4 115.0,25.6 114.1,27.5 114.4,33.5 116.0,35.2 117.5,35.4 118.9,34.5 120.3,32.5 121.5,31.0 124.9,28.5 125.4,27.5 125.2,26.0 124.0,24.7 122.5,24.1ZM128.5,54.4 127.1,55.5 126.5,57.0 127.0,58.4 128.0,59.3 130.5,60.0 135.5,59.6 136.9,58.5 137.5,57.0 137.0,55.6 136.0,54.7 133.5,54.0ZM140.5,72.4 139.1,73.5 138.2,75.0 138.2,81.0 139.5,83.0 142.5,85.0 143.6,86.5 144.1,92.5 144.7,94.0 146.0,95.2 147.5,95.4 149.3,94.0 149.9,92.0 149.8,75.0 148.9,73.5 147.0,72.2 142.5,72.0ZM20.0,42.8 18.6,44.5 18.8,46.0 20.4,47.5 22.5,48.0 23.5,48.0 24.0,47.5 23.5,44.5 22.0,42.8ZM24.5,48.0 24.0,48.5 23.9,56.0 23.3,58.0 19.0,61.5 16.5,65.0 13.0,67.5 12.1,70.0 12.0,79.5 12.7,82.0 14.0,83.3 15.5,83.9 19.5,84.0 21.7,83.5 23.2,82.0 23.4,80.5 22.4,79.0 19.1,76.5 18.6,75.5 18.8,74.0 23.0,70.5 25.6,67.0 27.0,66.3 29.7,66.0 30.0,65.5 29.8,51.0 28.0,48.7ZM30.5,66.0 30.0,66.5 30.5,69.6 31.5,70.8 33.0,70.8 33.9,69.0 33.5,67.5 32.5,66.5ZM38.0,92.0 36.8,92.5 36.6,93.5 37.5,94.8 38.5,95.2 39.5,94.7 39.9,93.5 39.5,92.5ZM81.5,60.5 80.2,61.5 79.5,63.0 79.5,65.5 80.0,66.9 82.0,67.4 86.5,66.4 89.8,66.0 89.9,64.5 89.2,63.0 85.5,61.0ZM32.0,78.9 31.0,79.6 30.2,81.0 30.1,86.5 31.5,88.9 32.5,89.4 33.5,89.2 34.2,88.0 35.4,81.5 34.0,79.5Z"/>
<path fill="#FFF564" fill-rule="evenodd" d="M35.9,5.0 39.0,4.8 42.0,7.0 49.0,16.5 53.3,20.5 53.9,22.0 54.2,26.0 56.0,27.9 58.5,28.4 69.5,28.6 76.0,29.9 85.5,30.0 88.0,30.7 89.8,33.0 90.1,38.0 90.7,39.5 101.0,49.5 103.5,53.0 107.2,56.0 107.4,57.5 106.9,58.5 105.5,59.6 104.0,59.9 94.0,59.9 87.0,58.5 81.5,58.3 79.5,60.1 77.5,64.7 76.5,66.0 74.5,66.7 68.5,67.1 62.5,70.1 55.0,72.9 52.3,75.5 49.8,80.5 48.1,87.5 47.9,92.5 46.5,94.9 45.5,95.3 44.5,94.8 42.4,90.5 38.8,88.0 38.1,87.0 40.1,81.5 39.4,80.0 35.6,76.5 35.0,75.0 37.3,68.5 36.1,62.5 36.1,58.0 37.0,55.5 40.5,53.0 41.6,51.5 41.9,46.0 40.9,44.0 39.0,42.4 32.5,41.6 31.0,40.5 30.0,39.0 28.6,33.5 28.3,21.0 27.5,19.2 24.5,15.7 24.0,13.0 24.2,9.0 26.0,6.7 27.5,6.1 32.5,5.9ZM37.5,8.4 31.5,13.0 30.5,14.5 31.5,21.0 31.7,33.0 32.5,34.7 33.5,35.6 38.5,36.1 40.0,36.7 47.3,44.0 47.6,45.5 46.6,51.5 48.0,59.0 47.9,62.5 47.3,64.0 43.0,67.5 38.8,73.0 38.3,75.0 39.0,76.1 42.0,78.0 44.0,81.9 45.0,82.6 46.0,81.5 48.0,75.0 50.0,72.5 53.0,70.8 62.6,68.0 68.5,65.5 75.0,64.9 76.1,64.0 78.5,59.0 81.0,56.0 87.0,54.2 93.5,53.6 95.2,52.0 95.1,50.5 91.0,46.5 83.0,37.5 81.5,36.4 75.5,35.8 71.0,32.5 69.0,31.7 56.0,31.4 52.5,30.6 50.0,29.4 47.0,25.5 42.7,22.0 42.1,20.0 41.9,15.5 40.5,10.0 39.5,8.5ZM151.5,36.0 157.0,36.0 157.0,54.0 153.5,53.9 151.5,53.0 149.0,49.5 144.7,46.0 144.1,44.5 144.0,42.0 144.2,39.0 145.6,37.0 147.5,36.1ZM-1.0,42.5 -1.0,42.0 2.0,42.1 4.4,43.0 5.5,45.0 4.5,46.9 2.5,47.9 -1.0,48.0Z"/>
<path fill="#FFFA00" fill-rule="evenodd" d="M37.2,8.5 39.0,8.2 40.5,10.0 41.9,15.5 42.1,20.0 42.7,22.0 47.0,25.5 50.0,29.4 52.5,30.6 56.0,31.4 69.0,31.7 71.0,32.5 75.5,35.8 81.5,36.4 83.0,37.5 91.0,46.5 95.1,50.5 95.2,52.0 93.5,53.6 87.0,54.2 81.0,56.0 78.5,59.0 76.1,64.0 75.0,64.9 68.5,65.5 63.0,67.8 53.0,70.8 50.0,72.5 48.0,75.0 46.0,81.5 45.0,82.6 44.0,81.9 42.0,78.0 39.0,76.1 38.3,75.0 38.8,73.0 43.0,67.5 47.3,64.0 47.9,62.5 48.0,59.0 46.6,51.5 47.6,45.5 47.3,44.0 40.0,36.7 38.5,36.1 33.5,35.6 32.5,34.7 31.7,33.0 31.5,21.0 30.5,14.5 31.5,13.0ZM56.5,36.4 55.0,37.5 53.8,39.5 52.2,45.5 49.9,51.0 50.5,53.0 53.8,57.5 54.1,62.5 54.7,64.0 57.0,65.8 61.5,66.0 68.5,63.9 74.5,63.3 75.5,62.2 79.2,54.5 83.6,50.5 84.0,46.5 83.3,44.5 80.5,41.9 74.0,40.0 68.5,36.2 59.0,36.0Z"/>
<path fill="#FFD200" fill-rule="evenodd" d="M56.3,36.5 59.0,36.0 68.5,36.2 74.0,40.0 80.5,41.9 83.3,44.5 84.0,46.5 83.6,50.5 79.2,54.5 74.9,63.0 73.5,63.6 68.5,63.9 61.5,66.0 57.0,65.8 54.7,64.0 54.1,62.5 53.8,57.5 50.5,53.0 49.9,51.0 52.2,45.5 53.8,39.5 55.0,37.5ZM57.5,42.4 55.8,44.5 54.5,50.5 55.1,52.0 59.6,57.0 60.5,62.5 61.5,63.2 63.0,63.5 68.0,61.7 72.0,61.0 74.0,60.1 75.7,57.0 77.9,50.0 77.9,46.5 77.3,45.0 75.0,43.7 68.5,42.1 59.5,42.0Z"/>
<path fill="#FFAA00" fill-rule="evenodd" d="M57.3,42.5 59.0,42.0 68.5,42.1 75.0,43.7 77.3,45.0 77.9,46.5 77.8,50.5 75.0,58.7 74.0,60.1 72.5,60.9 68.0,61.7 63.1,63.5 61.5,63.2 60.5,62.5 59.6,57.0 54.6,51.0 55.7,45.0ZM62.5,48.4 60.8,50.0 61.2,52.0 66.9,57.5 68.0,58.0 69.6,58.0 71.3,57.0 71.9,55.5 71.9,51.5 71.0,49.6 68.5,48.1Z"/>
<path fill="#FF7800" fill-rule="evenodd" d="M62.3,48.5 64.0,48.1 68.0,48.1 69.7,48.5 71.0,49.6 71.9,51.5 71.9,55.5 71.3,57.0 70.0,57.9 68.5,58.1 66.9,57.5 61.2,52.0 60.8,50.0Z"/>
<path fill="#FFFFFF" fill-rule="evenodd" d="M-1.0,72.0 14.0,72.1 15.5,72.4 16.9,73.5 17.9,76.0 18.2,87.0 19.5,89.0 22.5,91.0 23.6,92.5 24.0,94.5 24.0,102.0 -1.0,102.0ZM139.5,78.0 157.0,78.0 157.0,102.0 84.0,102.0 66.0,102.0 66.4,98.5 68.0,96.7 69.5,96.1 75.0,95.8 77.0,94.4 77.9,92.5 78.2,87.0 79.1,85.5 80.5,84.4 83.0,84.0 110.0,83.9 112.4,83.0 115.5,79.0 117.5,78.1ZM128.0,84.8 126.6,86.5 126.8,88.0 128.5,89.4 130.0,89.2 131.4,87.5 131.2,86.0 129.5,84.6Z"/>

<polygon points="27.7,27.7 30.0,18.5 41.6,11.6 46.2,16.2 53.2,25.4 64.7,32.4 76.3,38.1 87.8,40.4 97.1,46.2 101.7,53.2 97.1,56.6 87.8,55.5 78.6,57.8 69.3,62.4 60.1,67.0 50.8,64.7 46.2,56.6 43.9,46.2 34.7,39.3 28.9,34.7" fill="url(#hatch)"/>
<polygon points="146.8,38.1 153.7,35.8 154.8,43.9 147.9,43.9" fill="url(#hatch)"/>
<use href="#geo" fill="none" stroke="#333" stroke-width="0.7" stroke-linejoin="round"/>
<use href="#coast" fill="none" stroke="#151515" stroke-width="1.0" stroke-linejoin="round"/>
<use href="#lotw"/>

</g>
<text x="8.3" y="306.3" transform="rotate(-90 8.3 306.3)" text-anchor="start" font-size="10.25" fill="#231f20">RCM3<tspan dx="1.5">_</tspan><tspan dx="1.5">GFDL</tspan></text>
<g transform="translate(182,222)" clip-path="url(#c21)">
<rect x="0" y="0" width="155" height="101" fill="#C8F0C8"/>
<path fill="#0A6E6E" fill-rule="evenodd" d="M38.5,84.0 39.5,84.2 40.1,86.0 39.9,87.5 39.0,88.8 37.5,88.6 36.6,87.0 37.1,85.5Z"/>
<path fill="#0AAA1E" fill-rule="evenodd" d="M38.4,81.0 39.5,80.5 40.9,81.0 41.6,83.0 41.4,86.5 40.8,88.5 39.5,90.6 38.0,91.2 35.5,89.5 34.5,87.0 35.3,85.0ZM38.5,84.0 37.1,85.5 36.6,87.0 37.4,88.5 38.5,89.0 39.5,88.3 40.2,86.5 39.5,84.2Z"/>
<path fill="#64C864" fill-rule="evenodd" d="M111.0,38.0 112.5,38.5 113.1,39.5 112.8,40.5 111.5,41.4 110.0,41.2 108.9,40.0 109.5,38.5ZM98.3,48.5 100.0,48.1 104.0,48.1 105.5,48.4 106.9,49.5 107.6,51.5 106.0,56.8 104.5,57.5 103.0,57.1 97.5,52.9 96.6,51.5 96.6,50.5ZM19.8,67.0 21.0,67.0 22.0,68.3 23.8,75.0 23.9,86.5 23.0,88.4 21.5,89.6 16.5,90.0 12.5,90.0 12.0,89.5 12.1,88.0 13.1,85.5 16.5,83.0 17.6,81.5 18.0,79.5 18.1,69.5 18.7,68.0ZM78.2,67.0 81.0,66.9 83.0,67.8 83.7,69.5 83.3,71.5 82.0,73.0 77.0,75.6 73.0,76.8 70.0,77.4 69.0,77.1 68.0,75.5 68.3,73.5 73.2,68.5 75.3,67.5ZM38.4,78.5 40.0,78.3 43.0,78.9 44.5,79.5 45.4,80.5 43.3,84.0 40.5,91.3 39.0,93.4 38.0,93.8 34.4,92.0 31.5,89.0 30.7,87.5 31.1,86.5 34.0,83.8 37.0,79.5ZM38.5,80.9 35.7,84.5 34.5,87.0 35.2,89.0 37.5,91.1 38.5,91.2 39.5,90.6 41.0,88.0 41.5,86.0 41.4,81.5 40.0,80.6ZM8.4,90.5 11.5,90.0 12.0,90.5 11.5,93.5 10.4,95.0 8.5,95.4 6.8,94.0 6.8,92.0Z"/>
<path fill="#FFFCC8" fill-rule="evenodd" d="M-1.0,-1.0 6.0,-1.0 6.0,5.5 6.5,6.0 19.5,6.0 22.0,6.7 25.0,10.5 28.5,13.0 31.0,16.4 32.5,17.3 34.0,16.8 35.6,15.0 36.1,9.5 36.7,8.0 38.5,6.6 40.0,6.8 41.8,9.0 42.1,14.0 42.7,15.5 45.0,17.6 48.0,18.0 51.0,17.8 53.0,16.4 53.9,14.5 54.2,9.0 55.1,7.5 56.5,6.4 59.0,6.0 86.5,5.9 88.4,5.0 89.5,3.7 90.0,-1.0 156.0,-1.0 156.0,46.5 152.0,46.6 146.5,47.9 141.0,48.2 139.0,49.6 138.1,52.0 138.2,57.0 139.1,58.5 140.5,59.5 147.5,58.3 152.5,55.8 156.0,55.5 156.0,72.0 147.0,72.2 145.1,73.5 144.2,75.0 144.0,102.0 102.0,102.0 101.6,98.5 99.7,96.5 97.5,96.0 90.5,96.0 90.0,95.5 90.1,88.0 91.0,85.6 93.0,84.2 99.5,83.6 100.9,82.5 101.5,81.0 100.9,79.5 99.5,78.4 93.5,77.9 91.0,76.5 86.8,71.0 86.3,68.5 86.6,66.5 92.5,60.4 106.5,59.7 108.6,58.5 111.5,54.4 115.0,54.0 117.0,53.8 118.4,53.0 121.0,49.5 122.5,48.4 128.5,47.9 130.9,46.5 131.8,45.0 132.0,42.0 131.8,39.0 130.9,37.5 128.5,36.1 118.0,35.9 111.5,34.6 99.0,36.4 94.5,41.0 91.0,43.5 89.0,46.5 84.4,51.0 84.0,55.5 85.4,62.0 85.0,64.5 82.5,65.2 74.5,64.6 71.0,65.3 68.0,67.0 65.5,70.3 64.7,73.5 64.6,76.0 65.6,80.0 67.0,82.5 68.0,83.2 69.5,83.4 73.2,80.5 75.0,79.9 77.0,80.5 77.9,82.0 77.9,86.0 77.5,87.7 76.5,89.0 73.5,91.0 72.2,93.0 72.0,102.0 60.0,102.0 61.5,93.0 61.2,86.0 60.0,84.0 58.5,83.0 52.5,82.0 49.5,83.0 45.0,86.6 42.2,93.0 40.6,99.5 40.5,102.0 30.0,102.0 30.4,98.5 32.0,96.7 33.5,96.4 38.0,97.2 39.5,96.2 44.1,85.5 45.2,84.0 48.3,81.5 48.9,79.5 48.0,78.0 46.0,76.8 38.5,76.1 35.4,77.5 33.0,81.5 32.0,81.8 31.0,81.5 30.1,80.0 29.8,75.5 26.0,70.0 24.0,63.0 22.5,61.0 18.7,58.0 18.0,54.0 -1.0,54.0 -1.0,48.0 3.5,47.6 4.9,46.5 5.5,45.0 4.9,43.5 3.5,42.4 -1.0,42.0 -1.0,36.0 13.0,36.0 15.5,35.6 16.9,34.5 17.8,33.0 18.0,28.5 17.9,21.5 17.3,20.0 16.0,18.7 13.5,18.0 -1.0,18.0 -1.0,12.0 2.5,11.9 4.4,11.0 5.7,9.0 6.0,6.5 5.5,6.0 -1.0,6.0ZM20.0,42.8 18.7,44.0 18.1,45.5 18.0,53.5 18.5,54.0 21.6,53.5 22.9,52.5 23.8,51.0 23.9,45.5 22.4,43.0 21.0,42.5ZM72.0,17.0 68.5,18.3 64.0,22.0 57.0,24.0 52.6,27.5 50.5,28.3 46.5,28.4 44.5,27.7 43.6,26.5 42.1,21.5 40.5,19.6 39.0,18.9 35.0,21.5 31.0,23.2 29.2,25.0 28.6,27.0 28.5,30.0 28.6,33.0 29.2,35.0 30.6,36.5 35.5,39.0 39.0,42.5 40.1,44.5 40.4,47.0 40.4,50.0 39.5,51.7 33.0,54.0 31.5,55.0 30.4,56.5 30.0,59.0 30.2,68.5 31.5,70.4 33.5,71.8 41.5,72.0 44.5,71.9 46.5,71.0 56.5,61.0 58.0,61.5 62.0,65.2 64.0,64.8 72.7,57.0 77.0,54.8 78.4,53.5 80.5,49.0 84.1,44.5 85.7,39.5 86.5,38.3 93.0,35.8 97.5,31.0 101.2,28.0 101.2,26.0 99.5,24.4 93.5,23.9 86.5,22.2 84.5,21.0 81.9,18.5 79.0,17.2 75.5,16.6ZM110.5,18.4 109.1,19.5 108.5,21.0 109.1,22.5 110.5,23.6 115.5,24.0 123.5,23.6 124.9,22.5 125.5,21.0 124.9,19.5 123.5,18.4 115.5,18.0ZM134.5,6.4 132.6,8.5 132.8,10.0 133.6,11.0 136.0,11.9 142.0,12.0 143.5,12.0 144.0,11.5 143.7,9.0 142.4,7.0 140.0,6.1ZM144.5,12.0 144.0,12.5 144.1,14.0 145.0,16.4 146.5,17.4 148.5,16.9 149.5,15.0 148.9,13.5 147.0,12.3ZM147.0,61.9 145.5,62.5 144.9,63.5 145.5,64.9 147.0,65.5 148.5,64.9 149.2,63.5 148.8,62.5ZM104.5,62.4 103.0,63.0 102.2,64.0 102.1,68.0 103.1,70.5 104.5,71.4 105.5,71.4 106.9,70.5 107.8,69.0 107.9,64.5 107.0,62.9ZM122.0,60.8 120.2,63.0 119.5,69.7 118.5,71.0 115.5,73.1 114.5,75.0 115.1,76.5 118.5,79.0 121.5,82.9 122.5,83.4 124.0,83.2 125.8,81.0 126.5,74.3 127.5,73.0 130.5,70.9 131.5,69.0 130.9,67.5 127.5,65.0 124.5,61.1 123.5,60.6ZM80.0,61.0 79.3,61.5 79.4,62.5 81.0,62.8 81.5,62.3 81.3,61.5ZM86.4,96.5 89.5,96.0 90.0,96.5 90.0,102.0 88.0,102.0 84.0,102.0 84.4,98.5Z"/>
<path fill="#FFF564" fill-rule="evenodd" d="M71.9,17.0 75.0,16.6 78.5,17.1 81.5,18.3 84.5,21.0 86.5,22.2 93.5,23.9 99.5,24.4 101.2,26.0 101.2,28.0 97.5,31.0 93.0,35.8 86.5,38.3 85.7,39.5 84.1,44.5 80.5,49.0 78.4,53.5 77.0,54.8 72.7,57.0 64.0,64.8 62.0,65.2 58.0,61.5 56.5,61.0 46.5,71.0 44.5,71.9 42.0,72.0 33.5,71.8 31.5,70.4 30.2,68.5 30.0,59.0 30.4,56.5 31.5,55.0 33.0,54.0 39.5,51.7 40.4,50.0 40.4,47.0 40.1,44.5 39.0,42.5 35.5,39.0 30.6,36.5 29.2,35.0 28.6,33.0 28.5,30.0 28.6,27.0 29.2,25.0 31.0,23.2 35.0,21.5 39.0,18.9 40.5,19.6 42.1,21.5 43.6,26.5 44.5,27.7 46.5,28.4 50.5,28.3 52.6,27.5 57.0,24.0 64.0,22.0 68.5,18.3ZM74.5,20.0 73.0,20.6 69.0,24.0 62.0,26.0 50.5,31.4 45.5,31.5 43.0,30.8 41.6,29.5 39.6,25.5 38.5,24.7 34.0,25.5 32.3,26.5 31.6,29.0 32.0,33.1 33.5,34.4 38.0,35.6 40.5,37.0 42.2,39.5 43.4,44.0 43.5,50.5 42.7,53.0 41.0,54.8 37.3,56.5 36.2,58.0 36.1,62.5 37.6,65.0 40.0,65.9 45.0,65.6 49.5,61.0 54.2,57.0 56.0,56.1 58.0,56.7 61.5,60.4 63.5,60.9 65.5,59.5 69.0,55.6 74.5,52.7 75.8,51.5 78.3,44.5 81.0,41.5 84.5,36.5 89.3,33.0 89.9,31.5 90.0,29.0 89.6,27.5 88.5,26.3 81.5,24.2 76.8,20.5ZM-1.0,42.5 -1.0,42.0 2.0,42.1 4.4,43.0 5.5,45.0 4.5,46.9 2.5,47.9 -1.0,48.0ZM153.3,46.5 156.0,46.5 156.0,49.6 152.5,50.0 151.7,50.5 151.5,51.5 153.0,52.2 156.0,52.4 156.0,55.5 152.0,55.9 148.3,58.0 145.5,58.7 141.0,59.6 139.0,58.4 138.0,55.5 138.1,52.0 138.7,50.0 141.0,48.2 146.5,47.9ZM79.9,61.0 81.0,61.1 81.4,62.5 80.5,62.9 79.4,62.5 79.3,61.5ZM104.2,62.5 106.5,62.6 107.8,64.0 107.8,69.0 106.0,71.2 105.0,71.5 103.6,71.0 102.1,68.5 102.2,64.0 103.0,63.0ZM50.4,82.5 53.0,82.0 58.0,82.8 60.0,84.0 61.3,86.5 61.5,93.0 60.0,102.0 55.5,102.0 55.8,98.5 58.3,93.0 58.4,88.0 57.0,85.7 53.5,84.5 50.5,84.5 46.0,87.9 44.0,91.4 43.4,93.5 43.5,102.0 40.5,102.0 40.6,99.5 42.2,93.0 44.5,87.5 46.0,85.4Z"/>
<path fill="#FFFA00" fill-rule="evenodd" d="M74.4,20.0 76.8,20.5 81.5,24.2 88.5,26.3 89.6,27.5 90.0,29.0 89.9,31.5 89.3,33.0 84.5,36.5 81.0,41.5 78.3,44.5 75.8,51.5 74.5,52.7 69.0,55.6 65.5,59.5 63.5,60.9 61.5,60.4 58.0,56.7 56.0,56.1 54.2,57.0 49.5,61.0 45.0,65.6 40.5,66.0 38.0,65.3 36.2,63.0 36.2,58.0 37.3,56.5 41.0,54.8 42.7,53.0 43.5,50.0 43.3,43.5 42.2,39.5 40.5,37.0 38.0,35.6 33.5,34.4 32.0,33.1 31.6,29.0 32.3,26.5 34.0,25.5 38.5,24.7 39.6,25.5 41.6,29.5 43.0,30.8 45.5,31.5 50.5,31.4 62.0,26.0 69.0,24.0 72.5,21.0ZM80.0,30.8 78.8,32.0 78.6,33.5 80.0,35.1 81.5,34.9 82.9,33.5 83.1,32.0 81.5,30.6ZM62.0,30.5 57.0,31.7 54.9,33.0 54.1,34.5 53.6,39.0 49.0,43.5 48.1,46.0 48.1,50.5 49.6,53.0 51.5,53.6 57.5,52.7 59.0,53.3 60.4,54.5 62.0,57.0 63.5,57.4 66.5,53.6 71.1,51.0 72.0,49.0 72.0,34.5 71.5,32.3 70.4,31.0 68.5,30.1 64.5,30.0ZM152.5,50.0 156.0,49.6 156.0,52.4 155.5,52.4 152.0,51.9 151.4,51.0ZM50.6,84.5 54.0,84.6 57.5,86.2 58.4,88.0 58.3,93.0 55.8,98.5 55.5,102.0 52.4,102.0 52.7,97.5 53.9,92.0 53.9,88.5 53.4,87.5 52.0,86.7 50.0,87.3 48.0,90.0 45.6,92.0 45.1,93.5 45.5,95.4 47.8,99.0 48.0,102.0 43.5,102.0 43.4,93.0 46.0,87.9Z"/>
<path fill="#FFD200" fill-rule="evenodd" d="M61.9,30.5 64.5,30.0 68.5,30.1 70.4,31.0 71.5,32.3 72.0,34.5 72.0,49.0 71.1,51.0 66.5,53.6 63.5,57.4 62.0,57.0 60.5,54.6 59.0,53.3 57.0,52.7 51.5,53.6 50.0,53.3 48.2,51.0 48.0,46.5 49.0,43.5 53.6,39.0 54.1,34.5 54.9,33.0 57.0,31.7ZM56.5,42.9 55.2,44.0 54.7,45.5 55.7,47.0 57.5,47.4 59.0,46.3 59.4,44.5 58.0,42.8ZM79.7,31.0 81.5,30.6 82.8,31.5 83.1,33.0 82.0,34.5 80.5,35.2 79.0,34.3 78.6,32.5ZM50.4,87.0 52.0,86.7 53.4,87.5 54.0,89.0 53.9,92.0 52.7,97.5 52.4,102.0 49.0,102.0 48.0,102.0 47.8,99.0 45.5,95.4 45.1,93.5 45.6,92.0 48.0,90.0Z"/>
<path fill="#FFAA00" fill-rule="evenodd" d="M56.3,43.0 58.0,42.8 59.4,44.5 59.2,46.0 58.0,47.2 56.5,47.4 54.8,46.0 54.9,44.5Z"/>
<path fill="#FFFFFF" fill-rule="evenodd" d="M-1.0,72.5 -1.0,72.0 3.0,72.2 5.0,73.5 7.0,76.5 8.5,77.6 15.7,78.5 17.0,79.5 19.5,83.0 23.0,85.5 24.0,88.5 24.0,102.0 -1.0,102.0ZM121.5,78.0 156.0,78.0 156.0,102.0 119.5,102.0 108.0,102.0 108.0,90.5 107.5,90.0 100.0,89.9 98.0,89.3 96.2,87.0 96.1,82.0 97.0,79.6 99.0,78.2 103.5,78.0 105.7,78.5 107.0,79.6 107.9,81.5 108.0,89.5 108.5,90.0 110.5,89.8 112.4,89.0 113.6,87.5 114.1,81.5 115.1,79.5 117.0,78.2Z"/>

<polygon points="27.7,30.0 32.4,24.3 46.2,23.1 60.1,22.0 71.6,19.6 85.5,22.0 87.8,30.0 83.2,38.1 78.6,43.9 76.3,53.2 67.0,60.1 60.1,63.6 53.2,64.7 41.6,69.3 34.7,67.0 37.0,57.8 46.2,53.2 46.2,41.6 37.0,37.0 30.0,34.7" fill="url(#hatch)"/>
<polygon points="45.1,89.0 50.8,86.7 57.8,90.1 57.8,99.8 46.2,99.8" fill="url(#hatch)"/>
<use href="#geo" fill="none" stroke="#333" stroke-width="0.7" stroke-linejoin="round"/>
<use href="#coast" fill="none" stroke="#151515" stroke-width="1.0" stroke-linejoin="round"/>
<use href="#lotw"/>

</g>
<text x="177.2" y="310.2" transform="rotate(-90 177.2 310.2)" text-anchor="start" font-size="10.25" fill="#231f20">RCM3<tspan dx="1.5">_</tspan><tspan dx="1.5">CGCM3</tspan></text>
<g transform="translate(350,222)" clip-path="url(#c22)">
<rect x="0" y="0" width="156" height="101" fill="#C8F0C8"/>
<path fill="#0AAA1E" fill-rule="evenodd" d="M62.9,92.5 63.5,92.3 63.7,93.5 63.0,93.9Z"/>
<path fill="#64C864" fill-rule="evenodd" d="M19.0,80.5 21.0,80.1 22.2,81.5 22.3,86.0 21.5,87.6 19.5,87.6 18.2,86.0 18.1,82.0ZM62.4,86.5 64.0,86.1 66.0,87.5 67.0,90.0 67.4,93.5 66.1,99.5 66.0,102.0 61.5,102.0 56.1,102.0 56.2,100.5 56.7,98.5 59.3,95.5 61.0,88.6ZM63.0,92.4 62.8,93.5 63.5,93.8 63.6,92.5Z"/>
<path fill="#FFFCC8" fill-rule="evenodd" d="M48.0,-1.0 60.0,-1.0 59.9,2.5 59.3,4.0 55.5,7.0 54.2,9.0 54.0,19.5 54.5,21.7 56.0,23.3 58.0,23.9 61.5,24.0 68.0,23.9 70.0,23.3 71.8,21.0 72.1,15.5 73.1,13.5 75.0,12.2 81.7,11.5 83.0,10.5 85.0,7.5 86.5,6.4 88.5,6.0 98.0,5.9 100.0,5.3 101.8,3.0 102.0,-1.0 120.0,-1.0 120.1,14.5 121.1,16.5 123.0,17.5 124.5,16.9 127.0,13.5 128.5,12.4 130.5,12.0 137.5,12.0 138.0,11.5 137.3,8.0 133.5,5.0 132.4,3.5 132.0,-1.0 157.0,-1.0 157.0,6.0 147.0,6.2 145.0,7.5 142.0,11.3 138.2,12.0 138.0,12.5 138.3,15.0 139.1,16.5 142.5,19.0 145.0,22.4 146.5,23.4 148.5,22.9 151.0,19.5 152.3,18.5 157.0,18.0 157.0,36.0 148.5,36.0 146.5,36.4 145.0,37.5 142.5,41.0 139.0,43.5 136.0,47.3 134.0,47.9 124.5,48.0 122.5,48.4 121.0,49.5 118.5,53.0 115.5,55.1 114.5,57.0 115.1,58.5 117.0,59.8 122.5,59.9 124.5,59.0 127.0,55.5 129.0,54.2 140.5,53.9 142.5,53.0 145.0,49.5 147.0,48.2 157.0,48.0 157.0,69.0 157.0,84.0 147.5,84.1 146.0,84.7 144.7,86.0 144.0,88.5 144.0,102.0 102.0,102.0 101.9,93.5 100.5,91.1 98.5,90.1 92.5,89.6 91.0,88.5 88.0,84.7 86.5,84.1 80.5,83.6 76.5,79.6 75.0,78.9 73.5,79.6 70.0,83.3 68.5,83.6 63.5,82.7 62.0,83.3 60.0,85.0 58.5,87.5 57.5,93.2 54.5,97.0 54.0,102.0 51.8,102.0 51.5,98.1 50.5,96.9 49.5,97.2 48.4,98.5 48.0,102.0 30.0,102.0 29.8,99.0 28.3,93.0 25.8,88.5 25.5,81.5 25.0,79.5 23.4,77.5 19.1,75.5 18.1,73.5 18.4,72.0 22.0,71.3 23.8,69.0 24.0,54.5 23.5,54.0 20.5,54.5 19.0,55.5 16.5,58.9 15.5,59.4 14.0,59.2 12.7,58.0 12.1,56.5 12.0,48.5 11.5,48.0 8.0,48.7 5.0,52.5 3.5,53.6 -1.0,54.0 -1.0,36.0 25.5,36.0 28.4,35.0 29.4,33.5 29.2,32.0 25.5,28.9 24.5,27.0 25.1,25.5 28.5,23.0 29.6,21.5 30.5,14.3 31.5,13.1 33.0,12.2 38.5,11.9 40.5,11.0 43.0,7.5 47.3,4.0 47.9,2.5ZM72.0,30.0 68.5,30.4 63.5,34.1 55.0,34.8 50.0,36.6 48.3,38.5 47.2,41.0 46.6,44.5 46.4,50.5 45.4,53.0 40.5,57.9 34.5,59.4 32.1,60.5 30.7,62.0 30.1,63.5 30.2,75.0 31.0,76.5 34.5,79.6 35.1,81.0 34.4,82.5 31.0,85.5 30.4,87.0 31.8,93.5 33.5,95.6 37.5,96.0 40.0,95.3 43.2,92.5 48.0,90.0 50.8,86.0 56.0,84.3 60.9,80.0 63.5,78.2 68.5,77.8 70.4,76.5 71.8,74.5 72.4,69.0 73.7,67.5 75.0,66.9 76.3,67.5 77.6,69.0 78.2,74.5 80.5,77.1 82.0,77.2 83.3,76.0 83.9,74.5 84.4,69.0 86.0,67.2 87.5,66.7 88.9,67.5 89.8,69.0 90.1,74.5 90.7,76.0 92.5,77.4 94.0,77.2 95.3,76.0 95.9,74.5 96.2,63.5 97.5,61.6 101.0,58.5 101.9,56.5 102.0,52.5 101.5,50.3 90.7,39.5 90.1,38.0 89.8,33.0 88.5,31.1 85.5,30.0ZM86.5,18.4 85.1,19.5 84.5,21.0 85.0,22.4 86.0,23.3 88.5,24.0 93.5,23.6 94.9,22.5 95.5,21.0 95.0,19.6 94.0,18.7 91.5,18.0ZM122.5,66.4 121.1,67.5 120.5,69.0 121.0,70.4 122.0,71.3 124.5,72.0 129.5,71.6 130.9,70.5 131.5,69.0 131.0,67.6 130.0,66.7 127.5,66.0ZM14.5,42.4 12.5,44.5 12.0,47.5 12.5,48.0 21.5,48.0 23.5,48.0 24.0,47.5 23.7,45.0 22.4,43.0 20.0,42.1ZM24.5,48.0 24.0,48.5 24.0,53.5 24.5,54.0 26.0,53.9 28.4,53.0 29.4,51.5 28.9,49.5 27.0,48.3ZM38.0,24.8 36.2,27.0 36.1,32.5 37.6,35.0 39.0,35.5 40.0,35.2 41.8,33.0 41.9,27.5 40.4,25.0 39.0,24.5ZM-1.0,6.0 8.5,6.1 10.0,6.7 11.3,8.0 12.0,10.5 11.8,15.0 10.5,17.0 7.5,19.0 4.0,23.3 2.5,23.9 -1.0,24.0ZM19.6,13.0 21.5,12.6 23.0,13.6 23.4,15.5 22.4,17.0 20.5,17.4 19.0,16.4 18.6,14.5ZM13.6,67.0 15.5,66.6 17.3,68.0 18.0,71.5 17.0,72.0 14.5,71.5 13.0,70.4 12.6,68.5ZM7.6,79.0 9.5,78.6 11.3,80.0 11.9,81.5 12.2,87.0 13.5,89.0 16.5,90.6 22.5,92.0 23.4,93.0 22.9,94.5 21.5,95.6 15.5,96.1 14.0,96.7 12.7,98.0 12.1,100.0 12.0,102.0 -1.0,102.0 -1.0,96.0 3.5,95.6 5.6,93.5 6.0,91.5 6.1,81.5Z"/>
<path fill="#FFF564" fill-rule="evenodd" d="M37.6,25.0 39.0,24.5 40.0,24.8 41.8,27.0 41.9,32.5 40.4,35.0 39.0,35.5 38.0,35.2 36.2,33.0 36.1,27.5ZM72.0,30.0 85.5,30.0 88.5,31.1 89.8,33.0 90.1,38.0 90.7,39.5 101.5,50.3 102.0,52.5 101.9,56.5 101.0,58.5 97.5,61.6 96.2,63.5 95.9,74.5 95.3,76.0 94.0,77.2 92.5,77.4 90.7,76.0 90.1,74.5 89.8,69.0 88.9,67.5 87.5,66.7 86.0,67.2 84.4,69.0 83.9,74.5 83.3,76.0 82.0,77.2 80.5,77.1 78.2,74.5 77.6,69.0 76.3,67.5 75.0,66.9 73.7,67.5 72.4,69.0 71.8,74.5 70.4,76.5 68.5,77.8 63.5,78.2 61.0,79.9 56.0,84.3 50.8,86.0 48.0,90.0 43.2,92.5 40.0,95.3 37.5,96.0 33.5,95.6 31.8,93.5 30.4,87.0 31.0,85.5 34.4,82.5 35.1,81.0 34.5,79.6 31.0,76.5 30.2,75.0 30.1,63.5 30.7,62.0 32.1,60.5 34.5,59.4 40.5,57.9 45.4,53.0 46.4,50.5 46.6,44.5 47.2,41.0 48.3,38.5 50.0,36.6 55.0,34.8 63.5,34.1 68.5,30.4ZM39.0,61.9 37.5,62.5 36.9,64.0 38.0,65.3 39.5,65.8 41.5,66.0 42.0,65.5 41.9,64.5 40.9,62.5ZM68.0,36.5 64.0,37.4 56.5,37.9 54.5,39.0 51.0,42.5 49.6,45.5 49.4,51.5 48.1,57.5 47.6,63.5 45.5,65.5 42.0,66.0 41.2,69.5 36.8,74.0 37.2,76.0 41.3,81.0 40.9,82.5 37.6,85.5 36.7,87.0 37.1,88.5 38.5,89.5 40.0,89.5 45.0,88.1 48.5,83.6 52.5,81.7 54.0,80.5 61.5,73.0 65.0,70.5 70.5,64.5 73.0,62.7 74.5,62.0 76.2,62.0 80.0,64.8 81.5,65.0 86.0,60.7 87.5,60.1 93.0,59.6 94.9,58.0 95.8,56.5 96.0,52.5 95.3,50.5 85.0,40.5 82.4,37.0 79.5,36.0 70.5,36.0ZM122.3,66.5 127.0,66.0 130.0,66.7 131.0,67.6 131.5,69.0 130.9,70.5 129.7,71.5 125.0,72.0 122.0,71.3 121.0,70.4 120.5,69.0 121.1,67.5ZM49.9,97.0 51.0,97.2 51.7,99.0 51.8,102.0 50.5,102.0 48.0,102.0 48.2,99.0Z"/>
<path fill="#FFFA00" fill-rule="evenodd" d="M67.9,36.5 70.5,36.0 79.0,36.0 82.0,36.7 85.5,41.0 95.3,50.5 96.0,52.5 95.8,56.5 94.9,58.0 93.0,59.6 87.5,60.1 86.0,60.7 81.5,65.0 80.0,64.8 76.2,62.0 75.0,61.9 73.3,62.5 70.5,64.5 65.0,70.5 61.5,73.0 58.4,76.5 54.5,80.0 52.8,81.5 48.5,83.6 45.0,88.1 40.0,89.5 38.5,89.5 37.1,88.5 36.7,87.0 37.6,85.5 40.9,82.5 41.3,81.0 37.2,76.0 36.8,74.0 41.2,69.5 42.0,66.0 45.5,65.5 47.6,63.5 48.1,57.5 49.4,51.5 49.6,45.5 51.0,42.5 54.5,39.0 56.5,37.9 64.0,37.4ZM74.0,42.8 71.0,46.5 69.5,47.6 63.5,48.1 62.0,48.7 54.7,56.0 54.0,58.5 54.4,63.5 56.0,65.3 58.5,66.0 63.0,65.6 67.0,62.5 76.3,58.0 77.5,57.0 78.0,55.0 77.8,45.0 76.0,42.8ZM44.5,72.9 43.3,74.0 43.0,75.5 44.0,76.8 45.5,77.3 47.0,76.3 47.4,74.5 46.0,72.8ZM38.6,62.0 40.5,62.3 41.7,63.5 42.0,65.5 41.5,66.0 40.0,65.9 38.0,65.3 36.9,64.0 37.0,63.0Z"/>
<path fill="#FFD200" fill-rule="evenodd" d="M73.6,43.0 75.0,42.5 76.0,42.8 77.8,45.0 78.0,55.0 77.5,57.0 76.3,58.0 67.0,62.5 63.0,65.6 59.0,66.0 56.3,65.5 54.4,63.5 54.0,58.5 54.7,56.0 62.0,48.7 63.5,48.1 69.5,47.6 71.0,46.5ZM63.0,54.4 61.5,55.6 60.7,57.0 60.8,58.0 61.6,59.0 63.5,59.6 68.0,58.5 70.8,57.0 71.1,56.0 70.4,55.0 68.0,54.1ZM44.3,73.0 46.0,72.8 47.2,74.0 47.4,75.5 46.0,77.2 44.5,77.1 43.0,75.5 43.0,74.5Z"/>
<path fill="#FFAA00" fill-rule="evenodd" d="M62.9,54.5 64.5,54.0 68.0,54.1 70.4,55.0 71.1,56.0 70.8,57.0 68.1,58.5 63.5,59.6 61.6,59.0 60.8,58.0 60.7,57.0Z"/>
<path fill="#FFFFFF" fill-rule="evenodd" d="M-1.0,72.5 -1.0,72.0 2.0,72.1 4.4,73.0 5.5,75.0 4.5,76.9 2.5,77.9 -1.0,78.0ZM139.5,78.0 157.0,78.0 157.0,84.0 153.5,84.1 151.5,85.1 150.2,87.0 150.0,90.0 150.2,93.0 151.5,94.9 153.5,95.9 157.0,96.0 157.0,102.0 78.0,102.0 78.0,100.0 78.1,93.5 78.7,92.0 80.0,90.7 84.0,90.0 84.5,93.5 85.5,94.9 86.5,95.4 88.0,95.2 89.2,94.0 89.4,92.5 88.4,91.0 86.5,90.2 84.0,90.0 84.5,86.5 86.3,84.5 89.0,84.0 110.5,83.9 112.5,83.0 115.6,79.0 118.0,78.1 123.0,78.2 125.3,80.0 125.9,82.0 126.2,93.0 127.5,94.9 129.5,95.4 131.0,94.4 131.9,92.5 132.0,82.5 132.7,80.0 135.0,78.2ZM-1.0,84.5 -1.0,84.0 2.0,84.1 4.4,85.0 5.5,87.0 4.5,88.9 2.5,89.9 -1.0,90.0Z"/>

<polygon points="46.2,74.0 46.2,57.8 50.8,46.2 60.1,40.4 74.0,37.0 87.8,38.1 94.8,43.9 99.4,53.2 97.1,60.1 87.8,65.9 78.6,64.7 69.3,65.9 60.1,69.3 55.5,76.3 50.8,80.9 43.9,80.9" fill="url(#hatch)"/>
<polygon points="32.4,26.6 41.6,25.4 42.8,37.0 34.7,37.0" fill="url(#hatch)"/>
<polygon points="18.5,3.5 26.6,2.3 27.7,9.2 19.6,9.2" fill="url(#hatch)"/>
<use href="#geo" fill="none" stroke="#333" stroke-width="0.7" stroke-linejoin="round"/>
<use href="#coast" fill="none" stroke="#151515" stroke-width="1.0" stroke-linejoin="round"/>
<use href="#lotw"/>

</g>
<text x="346.7" y="305.2" transform="rotate(-90 346.7 305.2)" text-anchor="start" font-size="10.25" fill="#231f20">RCM3<tspan dx="1.5">_</tspan><tspan dx="1.5">GFDL</tspan></text>
<g transform="translate(519,222)" clip-path="url(#c23)">
<rect x="0" y="0" width="156" height="101" fill="#C8F0C8"/>
<path fill="#64C864" fill-rule="evenodd" d="M24.0,-1.0 36.0,-1.0 35.8,20.0 34.5,21.7 31.0,22.8 27.5,23.5 25.1,22.0 24.1,20.0 23.5,14.3 22.5,13.0 19.5,10.9 18.6,9.5 19.1,7.5 22.5,5.0 23.5,3.7ZM62.3,6.5 64.5,6.0 68.5,6.1 70.0,6.7 71.3,8.0 71.9,10.0 72.0,17.5 71.5,18.0 70.5,18.0 67.5,16.9 65.0,13.5 61.1,10.5 60.6,8.5ZM72.0,18.5 72.5,18.0 73.5,18.0 76.0,18.7 77.0,20.0 76.5,21.3 75.0,22.0 73.1,21.5 72.3,20.5ZM26.8,49.0 27.5,48.7 28.5,49.1 29.6,51.0 28.4,56.5 27.0,59.0 25.0,59.9 24.0,59.5 25.7,51.0ZM20.4,60.5 23.5,60.0 24.0,60.5 24.4,63.5 27.0,67.0 27.7,69.0 27.8,86.0 27.0,88.4 26.0,89.0 24.7,88.0 24.1,86.5 24.0,76.5 23.6,74.5 22.5,73.0 19.0,70.5 18.1,68.5 18.2,63.0 19.1,61.5Z"/>
<path fill="#FFFCC8" fill-rule="evenodd" d="M114.0,-1.0 120.0,-1.0 119.9,2.5 119.0,4.4 117.0,5.5 115.1,4.5 114.1,2.5ZM132.0,-1.0 150.0,-1.0 150.0,7.5 150.5,9.7 151.5,10.9 153.0,11.8 157.0,12.0 157.0,42.0 153.5,42.1 152.0,42.7 148.5,47.0 145.1,49.5 144.5,51.0 145.1,52.5 147.0,53.8 157.0,54.0 157.0,102.0 114.0,102.0 113.9,99.5 113.3,98.0 109.0,94.5 106.5,91.0 103.0,88.5 102.1,86.5 101.8,82.0 101.0,81.0 99.0,80.4 97.0,81.0 96.2,82.0 95.9,86.5 95.0,88.5 91.5,91.0 89.0,94.5 84.7,98.0 84.1,99.5 84.0,102.0 62.7,102.0 62.1,87.0 60.8,81.5 61.5,80.0 63.5,78.3 69.0,77.8 73.2,75.0 75.0,74.5 80.0,76.3 88.0,78.0 104.5,77.9 106.5,77.0 109.5,73.6 111.0,72.6 118.5,73.3 123.5,72.1 129.0,71.8 131.2,70.0 131.2,68.0 129.0,66.2 123.5,65.9 117.5,64.6 112.0,65.4 110.5,65.2 108.4,63.0 107.8,58.0 106.5,56.3 99.0,54.2 94.0,53.9 92.0,53.3 90.7,52.0 90.1,50.0 90.2,39.5 91.5,37.6 93.5,35.9 99.9,34.0 101.6,32.5 102.0,30.5 101.8,27.0 100.9,25.5 99.7,24.5 98.0,24.1 94.0,24.1 88.0,25.4 81.5,25.6 73.0,29.1 63.0,31.4 57.0,31.7 54.0,33.2 49.5,37.0 44.3,42.5 42.1,50.5 34.0,59.1 31.9,62.5 32.2,86.0 31.8,93.0 32.5,94.9 33.5,96.0 39.0,98.1 39.7,99.5 39.9,102.0 30.0,102.0 29.9,99.5 28.7,94.0 30.0,85.0 30.0,69.5 28.9,62.5 32.5,55.0 39.0,47.5 39.9,45.5 39.0,43.9 34.0,42.4 31.5,41.0 29.0,37.5 24.7,34.0 24.0,31.5 24.4,30.0 28.0,29.3 32.5,25.8 39.5,24.1 42.0,24.0 42.5,27.0 45.0,29.6 50.0,29.9 56.0,28.6 69.5,27.6 81.0,22.7 87.9,22.0 92.0,18.7 93.5,18.1 120.0,17.9 120.5,14.5 122.0,12.7 123.5,12.1 129.0,11.8 131.3,10.0 132.0,7.5ZM138.5,60.0 138.0,60.5 138.1,62.0 139.0,64.4 140.5,65.4 142.5,64.9 143.5,63.0 142.9,61.5 141.0,60.3ZM80.5,80.0 79.0,80.8 78.9,82.0 80.0,83.2 81.5,83.4 82.8,82.5 83.1,81.5 82.5,80.5ZM122.5,84.4 121.1,85.5 120.5,87.0 121.1,88.5 123.0,89.8 138.5,90.0 141.5,89.6 142.9,88.5 143.5,87.0 142.9,85.5 141.0,84.2 125.5,84.0ZM38.0,30.8 36.2,33.0 36.2,38.0 37.5,39.6 40.0,40.2 41.7,39.0 41.9,34.0 41.3,32.5 40.0,31.2ZM104.0,36.5 98.0,38.1 96.7,39.0 96.1,40.5 96.1,44.0 96.7,46.0 102.5,51.0 105.0,52.3 111.5,53.9 123.0,54.2 125.0,55.5 127.0,58.5 128.5,59.6 135.0,60.0 137.5,60.0 138.0,59.5 137.8,57.5 136.9,55.5 133.5,53.0 132.2,51.0 131.9,40.0 131.6,38.5 130.4,37.0 128.0,36.1 123.0,36.2 121.0,37.5 118.5,40.9 117.0,41.5 115.5,40.9 113.0,37.5 111.5,36.4 107.5,36.0ZM120.5,18.0 120.0,18.5 120.1,20.0 121.0,22.4 122.5,23.4 124.5,22.9 125.5,21.0 124.9,19.5 123.0,18.3ZM49.6,13.0 51.5,12.6 53.5,14.3 54.0,16.5 53.8,21.0 52.9,22.5 51.5,23.6 46.5,24.0 42.0,24.0 42.3,21.0 43.1,19.5 46.5,17.0ZM19.7,25.0 21.5,24.9 23.2,26.5 24.0,29.5 23.0,30.0 20.5,29.5 19.0,28.4 18.6,26.5ZM-1.0,36.0 8.5,36.1 10.0,36.7 11.3,38.0 12.0,40.5 11.8,45.0 10.5,47.0 7.5,49.0 4.0,53.3 2.5,53.9 -1.0,54.0ZM19.7,49.0 21.0,48.8 21.9,50.0 22.0,51.5 21.0,53.0 19.5,52.8 18.6,51.5 18.8,50.0ZM43.0,80.5 44.5,80.2 45.6,81.0 46.4,84.0 46.5,87.0 45.8,88.5 44.5,89.5 41.0,89.1 37.5,87.8 36.8,87.0 36.8,86.0 38.1,84.5ZM44.0,86.0 44.0,86.6Z"/>
<path fill="#FFF564" fill-rule="evenodd" d="M91.9,24.5 97.0,24.0 100.0,24.7 101.8,27.0 102.0,31.0 101.6,32.5 100.7,33.5 93.5,35.9 90.4,39.0 90.0,41.0 90.0,49.5 91.1,52.5 93.0,53.8 99.0,54.2 106.7,56.5 107.8,58.0 108.4,63.0 110.5,65.2 112.0,65.4 117.5,64.6 123.5,65.9 128.5,66.1 130.9,67.5 131.4,69.5 130.4,71.0 128.5,71.9 123.5,72.1 117.5,73.4 111.0,72.6 109.5,73.6 106.5,77.0 104.5,77.9 88.0,78.0 80.0,76.3 75.0,74.5 73.2,75.0 69.0,77.8 63.5,78.3 61.5,80.0 60.8,81.5 62.0,86.5 62.7,99.5 62.7,102.0 61.2,102.0 59.7,86.5 56.3,81.0 56.6,80.0 62.5,74.2 64.0,73.7 69.0,73.9 75.0,72.4 81.0,74.2 92.5,74.2 99.5,75.7 103.3,74.0 107.1,69.5 107.1,68.5 105.0,65.3 103.3,60.5 101.0,58.5 98.5,58.0 91.0,58.5 82.5,58.4 80.0,58.0 78.8,57.0 78.8,56.0 83.5,51.7 83.9,50.0 83.9,46.0 83.0,43.5 79.1,40.5 78.6,38.5 80.5,36.4 86.0,35.9 88.0,34.9 89.1,33.5 89.3,32.5 88.9,31.5 87.5,30.4 82.0,30.1 76.5,31.3 69.5,32.2 67.0,33.0 63.0,35.8 57.5,36.2 55.6,37.5 53.0,40.5 49.1,44.0 48.1,46.0 47.9,50.0 47.3,51.5 41.0,58.5 37.6,61.5 36.7,63.0 37.1,64.5 40.5,67.1 41.5,69.0 40.5,70.9 37.0,73.6 36.5,75.0 36.8,76.0 37.6,77.0 39.0,77.6 43.5,76.7 45.5,76.9 47.0,78.0 47.9,80.5 47.8,87.0 46.0,90.6 44.0,91.9 39.0,91.8 37.5,92.6 37.7,93.5 40.5,95.4 41.3,96.5 41.9,98.5 42.0,102.0 39.9,102.0 39.7,99.5 39.0,98.1 33.5,96.0 31.9,93.5 32.2,85.5 31.9,62.5 34.0,59.1 42.1,50.5 44.3,42.5 49.5,37.0 55.0,32.5 57.0,31.7 63.0,31.4 72.5,29.3 81.0,25.7 88.0,25.4ZM116.0,68.4 115.6,69.0 116.0,69.6 117.0,69.9 118.0,69.6 118.4,69.0 118.0,68.4 117.0,68.1ZM43.5,80.3 38.1,84.5 36.8,86.0 37.2,87.5 40.5,89.0 44.5,89.5 46.3,87.5 46.6,85.0 45.9,81.5 45.0,80.4ZM37.7,31.0 39.5,30.9 41.8,33.5 41.9,38.5 41.4,39.5 40.5,40.1 38.0,39.9 36.7,39.0 36.2,38.0 36.1,33.5 36.7,32.0ZM152.3,42.5 157.0,42.0 157.0,54.0 150.0,54.0 147.5,53.9 146.0,53.3 144.8,52.0 144.6,50.5 145.6,49.0 149.0,46.5 151.0,43.5Z"/>
<path fill="#FFFA00" fill-rule="evenodd" d="M79.9,30.5 82.5,30.0 86.5,30.1 88.4,31.0 89.3,32.5 88.8,34.0 87.0,35.6 81.0,36.2 78.8,38.0 78.8,40.0 83.0,43.6 83.8,45.0 84.0,47.0 83.6,51.5 82.5,53.0 79.1,55.5 78.7,56.5 79.0,57.2 80.0,58.0 82.0,58.4 98.5,58.0 101.0,58.5 103.3,60.5 105.0,65.3 107.1,68.5 107.1,69.5 103.3,74.0 99.5,75.7 92.5,74.2 81.0,74.2 75.0,72.4 69.0,73.9 62.9,74.0 56.4,80.5 56.4,81.5 58.8,84.5 59.8,87.0 61.2,102.0 60.0,102.0 59.8,98.0 58.3,93.5 57.4,86.5 53.6,82.5 52.0,79.7 51.0,79.5 50.0,81.7 48.7,88.5 44.7,96.0 44.0,102.0 42.0,102.0 41.9,98.5 41.3,96.5 40.5,95.4 37.7,93.5 37.5,92.6 39.0,91.8 44.0,91.9 46.0,90.6 47.8,87.0 47.9,80.5 47.0,78.0 45.5,76.9 43.5,76.7 39.0,77.6 37.6,77.0 36.8,76.0 36.5,75.0 37.0,73.6 40.5,70.9 41.5,69.0 40.5,67.1 37.1,64.5 36.7,63.0 37.6,61.5 41.0,58.5 47.3,51.5 47.9,50.0 48.1,46.0 48.7,44.5 56.5,36.7 58.0,36.1 63.5,35.6 68.5,32.4ZM56.0,48.8 53.0,52.5 49.0,56.2 48.0,59.0 48.0,67.5 48.4,69.5 49.5,71.0 52.5,73.0 55.0,75.9 56.5,76.1 57.5,75.6 60.0,72.0 62.5,70.8 69.0,71.8 75.0,70.3 81.0,72.6 91.5,72.0 97.0,72.8 99.0,73.1 100.3,72.5 102.4,70.5 103.1,69.0 101.8,63.0 100.0,60.7 98.0,60.3 92.0,61.5 81.0,61.6 78.5,62.5 75.0,65.0 73.5,64.4 70.5,61.1 69.0,60.5 67.5,61.1 64.0,64.8 62.0,65.2 60.7,64.0 60.1,62.5 59.8,51.0 58.0,48.8ZM68.0,48.8 66.6,50.5 66.8,52.0 68.5,53.4 70.0,53.2 71.4,51.5 71.2,50.0 69.5,48.6ZM115.9,68.5 117.5,68.2 118.4,69.0 118.1,69.5 116.5,69.8 115.6,69.0Z"/>
<path fill="#FFD200" fill-rule="evenodd" d="M55.6,49.0 57.5,48.6 59.6,50.5 60.0,52.5 60.1,62.5 61.0,64.4 62.5,65.3 64.0,64.8 67.5,61.1 69.0,60.5 70.5,61.1 73.5,64.4 75.0,65.0 78.5,62.5 81.0,61.6 92.0,61.5 98.0,60.3 100.0,60.7 101.8,63.0 103.1,69.0 102.4,70.5 100.5,72.4 99.0,73.1 97.5,73.0 92.0,72.0 81.0,72.6 75.0,70.3 69.0,71.8 62.5,70.8 60.0,72.0 57.5,75.6 56.5,76.1 55.0,75.9 52.5,73.0 49.5,71.0 48.4,69.5 48.0,67.5 48.0,59.0 48.7,56.5 53.0,52.5ZM69.0,66.9 67.8,67.5 67.4,68.5 69.0,69.3 70.5,68.5 70.2,67.5ZM97.5,62.8 94.0,65.3 92.0,66.0 87.5,65.9 82.5,64.8 80.5,65.0 78.5,66.5 77.4,68.0 77.9,69.5 79.5,70.5 82.0,71.0 88.0,69.8 98.9,70.0 100.1,68.5 99.9,64.5 99.0,62.9ZM67.6,49.0 69.5,48.6 71.0,49.6 71.4,51.5 70.4,53.0 68.5,53.4 67.0,52.4 66.6,50.5ZM51.0,79.5 52.0,79.7 53.6,82.5 57.6,87.0 58.1,92.5 60.0,99.5 60.0,102.0 58.8,102.0 58.1,97.0 55.6,92.5 54.3,88.0 53.0,86.4 52.0,85.8 51.0,86.5 46.7,97.0 46.0,102.0 44.0,102.0 44.7,96.0 48.7,88.5 50.0,81.7Z"/>
<path fill="#FFAA00" fill-rule="evenodd" d="M97.1,63.0 99.0,62.9 99.8,64.0 100.2,68.0 99.9,69.0 99.0,69.9 88.5,69.8 82.0,71.0 80.0,70.7 77.9,69.5 77.4,68.5 78.0,67.0 80.5,65.0 82.5,64.8 87.5,65.9 92.0,66.0 94.0,65.3ZM68.5,67.0 69.5,67.0 70.5,68.0 70.5,68.5 69.5,69.3 68.0,69.1 67.4,68.5ZM51.4,86.0 52.5,86.0 54.3,88.0 55.6,92.5 58.6,98.5 58.8,102.0 57.4,102.0 56.7,98.0 52.8,93.5 51.5,92.1 50.5,92.7 48.4,98.0 48.0,102.0 46.0,102.0 46.1,99.0 47.2,95.5Z"/>
<path fill="#FF7800" fill-rule="evenodd" d="M50.7,92.5 51.5,92.1 52.0,92.4 57.0,98.5 57.4,102.0 54.0,102.0 53.5,99.2 51.5,97.6 50.4,99.0 50.2,102.0 48.0,102.0 48.4,98.0Z"/>
<path fill="#FF4600" fill-rule="evenodd" d="M50.9,98.0 52.0,97.7 53.4,99.0 54.0,101.0 54.0,102.0 53.5,102.0 50.2,102.0 50.3,99.5Z"/>
<path fill="#FFFFFF" fill-rule="evenodd" d="M-1.0,72.0 14.0,72.1 15.5,72.4 16.9,73.5 17.9,75.5 18.5,81.7 19.5,83.0 22.5,85.0 23.8,87.0 24.0,102.0 -1.0,102.0ZM139.5,78.0 157.0,78.0 157.0,102.0 96.0,102.0 95.8,93.0 94.5,91.1 93.0,90.5 91.5,91.1 90.4,92.5 90.0,97.0 90.0,102.0 66.0,102.0 66.4,98.5 68.5,96.4 70.5,96.0 80.0,95.9 82.5,94.9 83.9,92.5 84.4,86.5 86.5,84.4 89.0,84.0 110.5,83.9 112.5,83.0 115.6,79.0 118.0,78.1ZM128.0,84.8 126.2,87.0 126.1,92.5 127.6,95.0 129.0,95.5 130.0,95.2 131.8,93.0 131.9,87.5 130.4,85.0 129.0,84.5Z"/>

<polygon points="49.7,67.0 49.7,55.5 50.8,43.9 60.1,40.4 71.6,37.0 80.9,33.5 80.9,43.9 74.0,53.2 78.6,60.1 87.8,64.7 97.1,62.4 104.0,64.7 101.7,74.0 92.4,74.0 83.2,71.6 74.0,71.6 64.7,69.3 57.8,69.3" fill="url(#hatch)"/>
<polygon points="46.2,87.8 53.2,85.5 60.1,90.1 60.1,99.8 47.4,99.8" fill="url(#hatch)"/>
<use href="#geo" fill="none" stroke="#333" stroke-width="0.7" stroke-linejoin="round"/>
<use href="#coast" fill="none" stroke="#151515" stroke-width="1.0" stroke-linejoin="round"/>
<use href="#lotw"/>

</g>
<text x="515.7" y="309.4" transform="rotate(-90 515.7 309.4)" text-anchor="start" font-size="10.25" fill="#231f20">RCM3<tspan dx="1.5">_</tspan><tspan dx="1.5">CGCM3</tspan></text>
<g transform="translate(12,323.5)" clip-path="url(#c30)">
<rect x="0" y="0" width="156" height="101.5" fill="#C8F0C8"/>
<path fill="#64C864" fill-rule="evenodd" d="M43.8,85.5 45.0,85.2 46.0,86.5 46.1,88.0 45.5,89.2 44.0,89.2 42.8,88.0 42.9,86.5ZM49.4,92.0 53.0,91.6 57.5,92.0 58.4,93.0 58.0,93.7 56.5,94.4 50.5,95.5 49.1,94.5 48.6,93.5 48.8,92.5Z"/>
<path fill="#FFFCC8" fill-rule="evenodd" d="M-1.0,-1.0 24.0,-1.0 24.2,9.0 25.0,10.5 29.3,14.5 30.0,17.0 29.6,21.0 25.1,25.5 24.6,27.5 27.5,31.2 29.6,35.5 31.0,36.8 35.0,38.5 37.0,40.0 39.5,43.0 40.4,46.0 40.4,50.5 39.7,52.5 33.2,60.0 31.8,62.5 30.1,70.0 30.4,75.5 31.5,76.9 33.0,77.5 34.5,76.9 36.5,74.8 38.0,73.9 40.5,73.6 45.0,73.8 49.5,78.4 57.0,83.8 62.5,83.8 68.5,79.9 77.0,77.2 82.0,76.2 87.5,73.7 94.0,73.4 100.0,72.1 109.5,72.0 111.5,71.6 112.9,70.5 113.8,69.0 114.1,64.0 114.7,62.0 118.5,58.9 119.4,57.5 118.9,55.5 115.5,53.0 113.0,49.5 111.7,48.5 109.5,48.0 99.5,47.9 97.6,47.0 96.4,45.5 96.0,43.0 96.2,33.0 97.5,31.0 101.0,28.5 101.9,26.5 101.8,21.0 100.0,18.7 97.5,18.0 93.0,18.2 91.5,19.0 88.5,21.9 80.0,22.8 78.0,24.0 75.5,27.4 74.1,27.0 73.6,25.0 73.9,20.5 75.0,18.5 76.9,16.5 77.5,15.0 76.9,13.5 75.0,11.5 73.8,9.5 72.1,2.5 72.0,-1.0 90.0,-1.0 90.4,3.5 91.5,4.9 93.0,5.5 94.5,4.9 95.6,3.5 96.0,-1.0 108.0,-1.0 108.1,14.0 108.7,16.0 110.0,17.3 111.5,17.9 114.0,18.0 116.5,17.9 118.0,17.3 121.5,13.0 125.0,10.5 127.1,7.5 128.5,6.6 129.5,6.6 131.0,7.6 133.5,11.0 137.3,14.0 137.9,16.0 138.1,20.5 139.1,22.5 141.0,23.8 144.0,24.0 147.7,23.5 148.9,22.5 149.8,21.0 150.0,-1.0 157.0,-1.0 157.0,36.0 155.0,36.0 148.0,36.1 145.5,37.1 144.1,39.5 143.6,45.5 141.5,47.6 139.5,48.0 130.0,48.1 127.5,49.1 126.4,50.5 126.1,52.0 126.0,61.5 127.0,64.5 134.0,71.3 136.5,72.0 141.0,71.8 142.5,70.9 143.6,69.5 144.1,63.5 145.0,61.5 148.5,59.0 152.0,54.7 153.5,54.1 157.0,54.0 157.0,102.5 96.0,102.5 95.9,99.5 95.0,97.6 91.5,95.0 89.0,91.5 84.7,88.0 84.1,86.5 83.8,81.5 82.5,80.2 81.0,79.9 79.5,80.3 75.0,83.8 69.0,84.4 64.5,89.0 62.5,89.6 58.0,88.6 50.8,88.0 49.6,86.5 48.0,81.5 46.0,79.5 44.5,78.8 43.0,79.5 40.4,82.5 37.5,85.0 36.2,87.0 36.0,102.5 6.0,102.5 6.1,99.5 7.0,97.6 10.5,95.0 13.0,91.5 16.5,89.0 17.5,87.7 17.9,86.0 18.0,76.5 18.4,74.5 19.5,73.0 23.0,70.5 27.5,64.8 28.5,62.5 29.6,57.0 28.5,55.1 26.5,54.6 25.0,55.6 22.5,58.9 21.0,59.5 19.1,58.5 16.0,54.8 15.0,54.5 13.6,55.0 12.1,57.5 12.0,67.5 11.3,70.0 7.5,73.0 4.0,77.3 2.5,77.9 -1.0,78.0 -1.0,48.0 9.0,47.8 10.9,46.5 11.5,45.0 10.9,43.5 9.0,42.2 -1.0,42.0ZM32.0,42.8 30.6,44.5 30.8,46.0 32.5,47.4 34.0,47.2 35.2,46.0 35.1,44.5 33.5,42.9ZM61.9,96.5 64.5,96.0 68.5,96.1 70.4,97.0 71.6,98.5 72.0,102.5 64.5,102.5 54.0,102.5 54.2,100.0 55.3,98.5Z"/>
<path fill="#FFF564" fill-rule="evenodd" d="M24.0,-1.0 30.0,-1.0 30.2,8.5 31.5,10.4 35.0,13.5 35.9,15.5 35.6,21.5 30.6,27.0 31.6,32.5 33.0,34.1 38.0,35.6 40.5,37.0 42.2,39.5 43.2,43.0 43.5,50.5 42.8,55.0 41.4,58.0 36.4,63.0 36.0,65.0 36.2,68.5 37.0,69.5 38.5,70.2 44.5,70.3 46.0,69.5 48.5,65.6 50.0,64.9 51.5,65.1 54.0,67.0 55.1,69.5 54.0,72.0 50.8,74.0 50.6,75.5 52.0,76.5 61.5,79.3 64.0,78.9 71.5,75.1 72.6,73.5 73.6,70.0 74.5,69.0 76.0,69.3 78.6,72.5 81.0,73.2 87.0,70.7 93.8,70.0 95.3,69.0 95.9,67.5 95.8,57.0 94.5,55.0 91.0,52.5 90.1,50.5 90.0,29.0 89.5,27.0 87.0,25.7 81.5,25.7 80.2,26.5 78.4,29.5 77.0,30.7 75.0,31.3 73.0,30.7 71.5,29.4 70.6,27.0 70.6,20.5 71.6,15.0 70.3,9.0 69.3,7.0 67.0,6.0 51.5,5.9 49.6,5.0 48.4,3.5 48.0,-1.0 72.0,-1.0 72.5,4.1 74.0,9.9 76.9,13.5 77.5,15.0 76.9,16.5 75.0,18.5 73.9,20.5 73.6,25.0 74.1,27.0 75.5,27.4 78.0,24.0 80.0,22.8 88.5,21.9 91.5,19.0 93.0,18.2 97.5,18.0 100.0,18.7 101.8,21.0 101.9,26.5 101.0,28.5 97.5,31.0 96.2,33.0 96.0,43.0 96.4,45.5 97.6,47.0 99.5,47.9 109.5,48.0 111.7,48.5 113.0,49.5 115.5,53.0 118.9,55.5 119.4,57.5 118.5,58.9 114.7,62.0 114.1,64.0 113.8,69.0 112.9,70.5 111.5,71.6 109.5,72.0 100.0,72.1 94.0,73.4 87.0,73.8 82.0,76.2 77.0,77.2 68.5,79.9 62.5,83.8 58.0,83.9 56.0,83.3 52.8,80.5 49.5,78.4 45.0,73.8 40.5,73.6 38.0,73.9 36.5,74.8 34.5,76.9 33.0,77.5 31.5,76.9 30.4,75.5 30.1,70.0 31.8,62.5 33.2,60.0 39.7,52.5 40.4,50.5 40.4,46.0 39.5,43.0 37.0,40.0 35.0,38.5 31.0,36.8 29.6,35.5 27.5,31.2 24.6,27.5 25.1,25.5 29.6,21.0 30.0,17.0 29.3,14.5 25.0,10.5 24.2,9.0ZM151.5,36.0 157.0,36.0 157.0,54.0 153.5,54.1 152.0,54.7 148.5,59.0 145.0,61.5 144.1,63.5 143.8,69.0 142.0,71.3 140.0,71.9 136.0,71.9 134.5,71.6 133.0,70.5 127.0,64.5 126.2,63.0 126.0,53.0 126.5,50.3 127.6,49.0 129.5,48.1 139.5,48.0 142.0,47.3 143.8,45.0 144.1,39.5 145.1,37.5 147.0,36.2ZM134.0,60.8 132.8,62.0 132.9,63.5 134.5,65.1 136.0,65.2 137.4,63.5 137.2,62.0 135.5,60.6ZM-1.0,42.5 -1.0,42.0 7.5,42.0 9.5,42.4 11.4,44.5 11.4,45.5 10.5,46.9 8.0,47.9 -1.0,48.0Z"/>
<path fill="#FFFA00" fill-rule="evenodd" d="M30.0,-1.0 48.0,-1.0 48.4,3.5 50.5,5.6 53.0,6.0 67.0,6.0 69.0,6.7 70.3,9.0 71.6,14.5 70.5,21.0 70.6,27.0 71.5,29.4 73.0,30.7 75.0,31.3 77.0,30.7 78.4,29.5 80.2,26.5 81.5,25.7 87.0,25.7 89.5,27.0 90.0,29.0 90.1,50.5 91.0,52.5 94.5,55.0 95.8,57.0 95.8,68.0 95.0,69.3 93.5,70.1 87.0,70.7 81.0,73.2 78.6,72.5 76.0,69.3 74.5,69.0 73.6,70.0 72.6,73.5 71.5,75.1 64.5,78.7 62.0,79.3 52.0,76.5 50.6,75.5 50.8,74.0 54.0,72.0 55.1,69.5 54.0,67.0 51.5,65.1 50.0,64.9 48.5,65.6 46.0,69.5 44.5,70.3 39.0,70.3 36.5,69.0 36.0,66.5 36.4,63.0 41.4,58.0 42.8,55.0 43.5,51.0 43.4,44.5 42.5,40.2 41.0,37.5 38.5,35.8 33.0,34.1 31.5,32.0 30.6,27.0 35.5,21.7 36.0,16.5 35.0,13.5 31.5,10.4 30.2,8.5ZM60.0,36.0 57.5,36.1 56.0,36.7 48.7,44.0 48.0,47.0 48.0,55.5 48.4,57.5 49.5,59.0 52.5,61.0 59.0,67.5 59.9,69.5 60.2,74.0 60.7,75.0 62.0,75.8 63.5,75.9 65.9,74.5 69.0,71.5 72.0,67.0 74.0,66.3 76.0,66.5 78.0,67.5 80.5,69.7 81.5,69.9 84.3,68.5 89.2,64.0 89.4,62.5 88.9,61.5 85.5,58.4 84.2,56.5 83.6,44.5 77.0,37.5 75.0,36.2ZM133.7,61.0 135.5,60.6 137.0,61.7 137.4,63.5 136.3,65.0 134.5,65.1 133.0,63.7 132.7,62.5Z"/>
<path fill="#FFD200" fill-rule="evenodd" d="M59.8,36.0 75.0,36.2 77.0,37.5 83.6,44.5 84.2,56.5 85.5,58.4 88.9,61.5 89.4,62.5 89.2,64.0 84.3,68.5 81.5,69.9 80.5,69.7 78.0,67.5 76.0,66.5 74.0,66.3 72.0,67.0 69.0,71.5 65.9,74.5 63.5,75.9 62.0,75.8 60.7,75.0 60.2,74.0 59.9,69.5 59.0,67.5 52.5,61.0 49.5,59.0 48.4,57.5 48.0,55.5 48.0,47.5 48.5,44.3 55.5,37.0 57.0,36.2ZM57.0,42.4 55.1,44.0 54.2,45.5 54.2,51.0 55.5,53.0 59.0,55.5 61.5,59.0 63.5,59.9 69.0,60.2 73.5,63.4 80.5,65.2 82.5,64.3 83.0,62.5 79.0,58.5 78.2,57.0 77.9,46.0 76.4,43.5 75.0,42.4 73.5,42.0 59.0,42.0Z"/>
<path fill="#FFAA00" fill-rule="evenodd" d="M56.9,42.5 59.0,42.0 73.0,42.0 75.0,42.4 76.4,43.5 77.9,46.0 78.2,57.0 79.0,58.5 83.0,62.5 82.8,64.0 81.0,65.2 73.5,63.4 69.0,60.2 63.5,59.9 61.5,59.0 59.0,55.5 55.5,53.0 54.2,51.0 54.2,45.5 55.1,44.0Z"/>
<path fill="#FFFFFF" fill-rule="evenodd" d="M-1.0,-1.0 6.0,-1.0 6.2,9.0 7.0,10.5 10.5,13.0 11.8,15.0 11.8,27.0 10.5,29.0 7.5,31.0 4.0,35.3 2.5,35.9 -1.0,36.0ZM19.6,25.0 21.5,24.6 23.0,25.6 23.4,27.5 22.4,29.0 20.5,29.4 19.0,28.4 18.6,26.5ZM-1.0,72.5 -1.0,72.0 3.7,72.5 5.0,73.5 7.5,77.0 9.5,77.9 25.5,78.0 28.4,79.0 29.2,80.0 29.4,81.5 28.5,82.9 25.5,85.0 24.5,86.3 24.0,91.5 25.0,94.5 29.3,98.0 29.9,99.5 30.0,102.5 -1.0,102.5ZM139.5,78.0 157.0,78.0 157.0,102.5 84.5,102.5 84.0,102.5 84.1,94.0 84.4,92.5 85.6,91.0 87.5,90.1 93.7,89.5 95.0,88.5 97.0,85.5 99.0,84.2 111.5,83.6 113.0,82.5 115.5,79.0 117.5,78.1 122.5,78.1 125.0,79.6 125.9,82.0 126.2,93.0 128.0,95.2 130.0,95.2 131.3,94.0 131.9,92.5 132.0,82.5 132.7,80.0 135.0,78.2ZM68.3,96.5 73.5,96.0 76.4,97.0 77.6,98.5 78.0,101.0 78.0,102.5 76.5,102.5 66.0,102.5 66.4,98.5Z"/>

<polygon points="23.1,0.0 76.3,0.0 76.3,9.2 92.4,18.5 97.1,30.0 92.4,39.3 99.4,46.2 108.6,53.2 122.5,53.2 138.7,46.2 147.9,39.3 152.5,46.2 150.2,57.8 136.4,67.0 124.8,69.3 110.9,67.0 97.1,71.6 87.8,74.0 76.3,71.6 67.0,74.0 57.8,76.3 50.8,69.3 41.6,64.7 39.3,57.8 39.3,46.2 30.0,32.4 25.4,13.9" fill="url(#hatch)"/>
<use href="#geo" fill="none" stroke="#333" stroke-width="0.7" stroke-linejoin="round"/>
<use href="#coast" fill="none" stroke="#151515" stroke-width="1.0" stroke-linejoin="round"/>
<use href="#lotw"/>

</g>
<text x="8.3" y="407.2" transform="rotate(-90 8.3 407.2)" text-anchor="start" font-size="10.25" fill="#231f20">HRM3<tspan dx="1.5">_</tspan><tspan dx="1.5">GFDL</tspan></text>
<g transform="translate(182,323.5)" clip-path="url(#c31)">
<rect x="0" y="0" width="155" height="101.5" fill="#C8F0C8"/>
<path fill="#0AAA1E" fill-rule="evenodd" d="M74.4,44.0 76.0,44.1 77.5,45.0 81.0,48.5 81.7,50.0 80.9,51.5 75.3,53.5 73.5,54.0 70.0,53.9 68.5,53.0 67.9,51.5 68.2,50.0 69.5,48.1 72.5,45.0Z"/>
<path fill="#64C864" fill-rule="evenodd" d="M71.9,41.0 76.5,40.7 79.8,41.5 82.0,42.6 83.4,44.0 84.4,46.0 85.1,50.5 83.5,52.5 78.5,55.2 75.0,58.1 69.0,60.0 66.6,62.0 64.0,69.0 62.5,69.9 61.0,69.4 60.6,68.0 61.5,63.5 61.8,56.5 68.3,43.0 69.5,41.9ZM74.5,44.0 72.5,45.0 69.5,48.1 68.2,50.0 67.9,51.5 68.5,53.0 69.5,53.8 73.0,54.0 75.0,53.6 80.9,51.5 81.7,50.0 81.0,48.5 77.5,45.0 76.0,44.1ZM50.2,72.5 51.5,72.5 53.0,73.7 53.3,75.0 52.5,76.4 50.0,77.9 45.5,78.0 42.5,78.0 42.0,77.5 42.8,75.0 45.0,73.7ZM32.3,78.5 34.5,78.0 42.0,78.2 42.7,82.0 46.4,85.0 47.3,86.5 46.5,87.7 44.0,88.4 38.5,88.6 33.5,89.6 31.5,88.9 30.1,86.5 30.1,82.0 30.7,80.0Z"/>
<path fill="#FFFCC8" fill-rule="evenodd" d="M24.0,-1.0 36.0,-1.0 36.1,2.5 37.0,4.4 39.0,5.7 41.5,6.0 42.0,5.5 42.0,-1.0 54.0,-1.0 54.0,5.5 54.5,6.0 62.0,6.1 64.0,6.7 67.5,11.0 71.0,13.5 73.1,16.5 75.0,17.5 76.5,16.9 77.8,15.0 77.9,9.5 77.0,7.5 72.7,4.0 72.1,2.5 72.0,-1.0 102.0,-1.0 102.4,3.5 103.5,4.9 105.0,5.5 106.5,4.9 107.6,3.5 108.0,-1.0 126.0,-1.0 126.2,3.0 127.5,4.9 129.5,5.9 133.5,6.0 137.5,6.0 138.0,5.5 138.0,-1.0 156.0,-1.0 156.0,72.0 148.0,72.1 146.0,72.7 144.2,75.0 144.0,80.0 144.1,86.0 144.5,87.7 145.5,89.0 149.0,91.5 151.6,95.0 153.5,95.9 156.0,96.0 156.0,102.5 120.0,102.5 120.0,84.5 119.5,84.0 118.5,84.0 106.0,84.1 104.0,84.7 102.8,86.0 102.6,87.5 103.1,88.5 106.5,91.0 107.8,93.0 108.0,102.5 102.0,102.5 101.8,99.0 100.5,97.1 98.5,96.1 94.5,96.0 90.5,96.0 90.0,96.5 90.0,102.5 72.0,102.5 71.8,100.0 71.3,99.0 66.5,96.4 64.8,94.0 64.5,87.5 65.6,84.5 69.5,81.8 71.6,78.5 73.5,77.0 76.0,76.7 81.5,77.5 86.0,74.0 91.5,72.6 94.0,71.4 96.2,68.5 97.8,62.5 99.0,60.5 102.9,56.5 107.0,55.2 112.0,53.4 113.2,52.0 113.4,50.5 112.5,49.0 111.0,48.0 105.5,46.7 103.0,47.5 89.0,54.5 83.2,58.0 60.7,80.5 60.0,82.5 59.8,93.0 59.0,94.5 54.7,98.5 54.1,100.0 54.0,102.5 48.0,102.5 48.0,96.0 51.5,95.2 53.8,92.5 54.0,82.5 55.1,80.0 60.0,75.0 65.5,71.5 69.0,66.2 71.0,64.0 76.5,60.4 80.5,56.5 85.8,53.5 92.5,48.3 99.0,46.3 101.1,45.0 102.0,43.0 101.8,39.0 100.5,37.0 96.7,34.0 96.1,32.0 95.8,27.0 94.9,25.5 93.5,24.4 91.0,24.0 75.0,24.0 64.5,24.0 62.5,24.4 61.0,25.5 58.5,29.0 55.0,31.5 54.1,34.0 54.1,38.5 55.1,40.5 57.0,41.8 62.5,42.2 63.5,43.0 64.1,44.5 63.7,46.0 62.5,47.5 56.5,48.4 54.6,50.5 54.8,52.0 57.5,54.9 58.2,56.5 58.4,62.0 57.5,64.7 56.0,65.8 51.0,66.4 46.0,70.0 39.0,71.8 29.0,72.0 26.3,71.5 25.0,70.4 24.1,68.5 24.0,54.5 23.5,54.0 18.5,54.0 18.0,53.5 18.2,45.0 19.5,43.1 21.0,42.2 32.0,41.8 33.5,40.5 34.2,38.0 33.6,36.5 31.0,34.5 29.0,31.5 25.5,29.0 23.0,25.5 18.7,22.0 18.1,20.0 18.0,12.5 18.5,12.0 19.5,12.0 22.0,12.7 25.5,17.0 29.0,19.5 31.5,22.9 33.0,23.7 35.5,24.0 36.0,23.8 36.2,21.5 37.0,19.6 41.3,16.0 42.0,12.5 41.5,12.0 33.5,11.9 31.6,11.0 29.0,7.5 24.7,4.0 24.1,2.5ZM42.5,6.0 42.0,6.5 42.0,10.5 42.0,11.5 42.5,12.0 50.0,11.9 52.5,10.9 53.8,8.5 54.0,6.5 53.5,6.0ZM110.0,30.8 108.6,32.5 108.8,34.0 110.5,35.4 112.0,35.2 113.4,33.5 113.2,32.0 111.5,30.6ZM128.0,42.8 125.0,46.5 121.6,49.0 120.6,50.5 120.6,51.5 121.5,52.9 124.5,54.0 129.5,53.6 130.9,52.5 131.8,51.0 132.0,46.5 131.6,44.5 130.0,42.8ZM138.5,6.0 138.0,6.5 138.1,8.0 139.0,10.4 140.5,11.4 142.5,10.9 143.5,9.0 142.9,7.5 141.0,6.3ZM74.5,80.4 72.0,84.0 68.0,86.9 67.6,88.5 67.6,92.0 68.3,93.5 69.9,94.5 74.5,95.6 76.4,95.0 80.0,90.7 83.8,90.0 83.9,88.0 83.5,86.5 82.5,85.0 76.8,80.5 75.5,80.1ZM84.5,90.0 84.0,90.5 84.1,92.0 85.1,94.5 87.0,95.7 89.5,96.0 90.0,95.5 89.9,94.0 88.9,91.5 87.0,90.3ZM26.5,48.4 24.5,50.5 24.0,53.5 24.5,54.0 32.0,53.9 36.0,53.0 38.8,52.0 39.1,51.0 38.5,50.4 32.0,48.1ZM36.5,24.0 36.0,24.5 36.3,33.0 38.0,34.2 40.5,33.5 41.9,31.5 41.6,26.5 39.5,24.5ZM44.5,34.9 38.4,38.0 35.1,44.0 35.2,45.5 36.1,46.5 41.2,49.0 42.9,51.0 41.5,53.5 37.0,56.5 35.7,58.0 34.6,62.5 35.5,65.4 36.6,66.5 38.5,67.3 43.5,66.6 47.0,64.0 48.8,61.0 49.4,56.5 48.4,51.0 49.5,45.0 49.4,39.0 48.7,37.0 47.5,35.6 46.0,34.9ZM122.0,60.8 120.7,62.0 120.1,64.0 120.0,83.5 120.5,84.0 121.5,84.0 124.0,83.3 125.3,82.0 125.9,80.0 126.4,74.5 127.5,73.0 130.9,70.5 131.4,68.5 130.4,67.0 127.0,64.5 124.5,61.1 123.5,60.6ZM-1.0,6.5 -1.0,6.0 15.0,6.2 17.3,8.0 18.0,11.5 17.5,12.0 -1.0,12.0ZM7.6,37.0 9.5,36.6 11.3,38.0 11.9,40.0 12.0,43.5 11.0,46.4 6.8,50.0 6.8,52.0 8.0,53.3 9.5,53.9 17.5,54.0 18.0,54.5 17.5,57.5 16.0,59.3 14.5,59.9 9.0,60.2 7.6,61.0 6.9,62.0 7.2,63.0 8.0,63.5 12.5,64.6 15.0,65.8 17.0,67.5 17.8,69.0 17.8,81.0 16.5,83.0 14.2,84.5 10.5,89.0 7.0,91.5 4.4,95.0 2.5,95.9 -1.0,96.0 -1.0,42.0 2.5,41.9 4.0,41.3ZM7.5,66.4 5.5,67.4 4.6,69.0 4.7,75.5 5.6,77.5 7.0,78.7 8.5,79.2 10.4,79.0 12.0,78.0 13.2,76.0 13.3,69.5 12.5,68.0 11.0,66.9 9.5,66.3ZM38.3,92.0 42.0,91.6 46.1,92.0 47.4,93.0 47.9,94.5 48.0,95.5 47.5,96.0 46.5,96.0 38.5,95.6 37.2,94.5 36.8,93.5Z"/>
<path fill="#FFF564" fill-rule="evenodd" d="M102.0,-1.0 108.0,-1.0 107.9,2.5 107.0,4.4 105.0,5.5 103.1,4.5 102.1,2.5ZM44.2,35.0 46.0,34.9 47.5,35.6 48.7,37.0 49.4,39.0 49.5,45.0 48.4,51.0 49.4,56.5 48.8,61.0 47.0,64.0 43.5,66.6 38.5,67.3 37.0,66.7 35.6,65.5 34.6,62.5 35.7,58.0 37.0,56.5 41.5,53.5 42.9,51.0 41.2,49.0 36.1,46.5 35.2,45.5 35.1,44.0 38.4,38.0ZM39.5,60.5 38.5,61.5 38.3,63.0 39.0,63.7 40.5,63.5 41.5,62.5 41.9,60.5 41.5,60.1ZM44.0,38.3 40.0,41.6 38.4,44.0 39.0,45.5 41.5,46.3 44.5,47.1 45.5,46.6 46.1,45.5 46.2,39.5 45.5,38.5ZM44.5,55.4 43.1,56.5 42.1,58.5 42.1,59.5 42.5,59.9 43.5,59.9 45.0,59.2 45.9,57.5 45.5,55.7ZM104.2,47.0 107.0,46.8 111.0,48.0 113.2,50.0 113.2,52.0 110.5,54.2 104.0,55.9 102.3,57.0 98.3,61.5 96.2,68.5 94.5,71.0 91.8,72.5 86.0,74.0 81.5,77.5 75.5,76.6 73.0,77.3 71.6,78.5 69.5,81.8 66.5,83.6 65.2,85.0 64.5,88.0 64.8,94.0 66.5,96.4 71.3,99.0 71.8,100.0 72.0,102.5 54.0,102.5 54.1,100.0 54.7,98.5 59.0,94.5 59.8,93.0 60.0,82.5 60.4,81.0 83.2,58.0 88.5,54.8ZM104.5,50.3 103.6,51.0 103.7,51.5 105.5,51.8 106.4,51.0 106.1,50.5ZM93.0,55.9 90.7,57.0 86.5,60.6 79.2,68.0 78.8,70.0 79.6,71.0 81.0,71.6 88.0,69.9 93.0,65.5 94.3,63.0 95.4,57.5 94.5,56.2ZM7.1,66.5 9.0,66.2 10.5,66.6 12.5,68.0 13.3,69.5 13.2,76.0 12.0,78.0 10.5,79.0 8.5,79.2 7.0,78.7 5.6,77.5 4.7,75.5 4.6,69.0 5.4,67.5ZM9.0,68.9 8.0,69.5 7.6,72.0 7.8,74.5 9.0,75.5 10.2,74.5 10.4,72.0 10.0,69.5Z"/>
<path fill="#FFFA00" fill-rule="evenodd" d="M43.5,38.5 45.0,38.2 46.2,39.5 46.3,45.0 45.0,47.0 42.0,46.4 39.0,45.5 38.4,44.0 39.5,42.1ZM104.0,50.5 106.0,50.4 106.4,51.0 106.0,51.6 104.0,51.7 103.6,51.0ZM44.3,55.5 45.5,55.7 46.0,57.0 45.5,58.6 44.0,59.7 42.5,59.9 42.1,59.0 42.7,57.0ZM92.7,56.0 94.5,56.2 95.4,57.5 94.5,62.5 93.4,65.0 88.5,69.7 81.5,71.6 80.0,71.3 79.0,70.3 78.7,69.0 79.2,68.0 86.1,61.0 90.7,57.0ZM39.5,60.5 41.5,60.1 41.9,60.5 41.5,62.5 40.5,63.5 39.0,63.7 38.3,63.0 38.5,61.5ZM8.5,69.0 10.0,69.5 10.4,71.0 10.2,74.5 9.1,75.5 8.1,75.0 7.6,73.5 7.7,70.5Z"/>
<path fill="#FFFFFF" fill-rule="evenodd" d="M-1.0,-1.0 6.0,-1.0 6.2,15.0 7.5,17.0 10.9,19.5 11.5,21.0 10.5,22.9 7.0,25.5 4.0,29.3 2.5,29.9 -1.0,30.0ZM25.6,43.0 27.5,42.6 29.0,43.6 29.4,45.5 28.4,47.0 26.5,47.4 25.0,46.4 24.6,44.5ZM152.3,66.5 156.0,66.0 156.0,102.5 100.0,102.5 96.0,102.5 96.1,99.5 97.0,97.5 101.3,94.0 102.0,90.0 110.0,89.9 112.4,89.0 113.9,86.5 114.2,81.0 116.0,78.7 118.5,78.0 147.0,77.8 148.5,76.9 149.6,75.5 150.2,69.0 151.1,67.5ZM128.0,84.8 126.2,87.0 126.1,92.5 127.6,95.0 129.0,95.5 130.0,95.2 131.8,93.0 131.9,87.5 130.4,85.0 129.0,84.5ZM-1.0,72.0 8.0,72.1 9.5,72.4 11.0,73.5 13.0,76.5 16.5,79.0 19.0,82.5 22.5,85.0 25.0,88.5 29.3,92.0 29.9,94.0 30.0,102.5 -1.0,102.5ZM80.3,84.5 83.0,84.0 99.0,84.2 100.9,85.5 101.8,87.5 102.0,89.5 101.5,90.0 100.0,90.0 78.5,90.0 78.0,89.5 78.3,87.0 79.1,85.5ZM74.4,90.5 77.5,90.0 78.0,90.5 78.0,102.5 70.0,102.5 66.0,102.5 66.4,98.5 67.5,97.0 71.0,94.5 73.0,91.5Z"/>


<use href="#geo" fill="none" stroke="#333" stroke-width="0.7" stroke-linejoin="round"/>
<use href="#coast" fill="none" stroke="#151515" stroke-width="1.0" stroke-linejoin="round"/>
<use href="#lotw"/>

</g>
<text x="177.2" y="416.0" transform="rotate(-90 177.2 416.0)" text-anchor="start" font-size="10.25" fill="#231f20">HRM3<tspan dx="1.5">_</tspan><tspan dx="1.5">HADCM3</tspan></text>
<g transform="translate(350,323.5)" clip-path="url(#c32)">
<rect x="0" y="0" width="156" height="101.5" fill="#C8F0C8"/>
<path fill="#64C864" fill-rule="evenodd" d="M-1.0,48.5 -1.0,48.0 2.0,48.1 4.4,49.0 5.5,51.0 4.5,52.9 2.5,53.9 -1.0,54.0ZM7.6,61.0 9.0,60.5 10.0,60.8 11.8,63.0 11.9,68.5 10.4,71.0 9.0,71.5 8.0,71.2 6.2,69.0 6.1,63.5ZM73.8,62.5 75.0,62.1 76.5,62.5 77.1,63.5 76.3,65.0 75.0,65.5 73.5,64.8 73.0,63.5ZM62.9,72.5 64.5,72.0 68.5,72.1 70.0,72.7 71.2,74.0 71.4,75.5 70.9,76.5 67.5,79.0 66.3,80.5 64.9,82.5 63.5,83.4 62.0,83.2 60.4,81.5 60.0,79.5 60.2,75.5 61.1,74.0ZM51.1,91.0 52.5,91.2 53.8,93.0 54.0,102.5 51.0,102.5 48.0,102.5 48.0,101.5 49.6,93.5ZM61.6,97.0 63.5,96.6 65.5,98.3 66.0,102.5 64.5,102.5 60.0,102.5 60.2,99.0Z"/>
<path fill="#FFFCC8" fill-rule="evenodd" d="M-1.0,-1.0 6.0,-1.0 5.9,14.0 5.6,15.5 4.4,17.0 2.5,17.9 -1.0,18.0ZM36.0,-1.0 78.0,-1.0 77.8,3.0 76.5,4.9 74.5,5.9 68.5,6.4 67.0,7.5 64.5,11.0 62.5,11.9 56.5,11.6 55.0,10.5 53.0,7.5 51.0,6.2 46.5,6.0 44.5,6.4 43.0,7.5 40.5,11.0 31.5,19.0 30.4,20.5 30.0,23.0 30.2,33.0 31.0,34.5 35.6,39.0 36.2,45.0 39.0,48.8 39.6,50.5 39.0,53.2 35.8,57.5 34.7,62.5 35.9,68.5 36.2,74.5 38.0,76.9 40.5,78.0 44.5,77.9 47.0,76.5 48.4,74.0 50.3,67.5 54.5,63.5 58.4,62.0 66.0,60.0 74.8,56.5 82.0,56.4 84.0,57.3 87.0,59.6 88.5,60.0 104.5,60.1 106.5,61.0 110.5,65.1 112.0,65.2 113.3,64.0 113.9,62.0 114.0,53.0 114.4,51.0 119.0,46.5 121.0,43.5 124.4,41.0 125.4,39.5 124.9,37.5 121.6,35.0 120.7,33.5 121.2,32.0 125.6,27.5 126.0,25.5 125.8,21.0 124.5,19.0 121.5,17.0 119.0,13.5 117.0,12.2 95.0,12.0 92.5,11.3 90.9,9.5 90.8,8.0 95.3,4.0 95.9,2.5 96.0,-1.0 132.0,-1.0 132.0,7.5 132.5,9.7 133.5,11.0 137.0,13.5 139.5,17.0 142.0,17.9 146.5,17.9 148.4,17.0 149.8,15.0 150.1,9.5 151.0,7.6 153.5,6.1 157.0,6.0 157.0,6.5 157.0,78.0 150.5,78.0 150.0,78.5 150.0,102.5 102.0,102.5 102.2,99.0 104.0,96.7 106.0,96.1 117.0,95.8 119.2,94.0 119.2,92.0 115.0,88.5 112.5,85.0 110.0,84.1 106.0,84.1 104.3,84.5 103.0,85.5 101.0,88.5 99.0,89.8 94.0,89.9 91.6,89.0 89.0,85.5 85.5,83.0 84.2,81.0 84.0,65.0 83.6,63.0 80.5,59.9 76.5,58.8 74.5,58.9 68.5,61.6 63.0,62.6 60.9,63.5 60.2,64.5 59.6,69.0 54.4,74.5 53.6,81.5 52.5,83.0 49.5,85.0 48.3,86.5 45.5,94.7 44.5,95.6 43.0,96.0 39.5,95.9 38.0,95.3 36.7,94.0 36.1,92.5 36.0,83.0 35.6,81.0 30.7,76.0 29.8,72.0 26.0,71.3 24.7,70.0 24.1,68.5 24.4,62.5 25.5,61.0 29.0,58.4 29.5,57.0 28.9,55.5 25.5,53.0 22.0,48.7 20.5,48.1 14.5,47.6 9.5,42.4 7.5,42.0 -1.0,42.0 -1.0,24.0 7.5,24.0 9.5,23.6 11.0,22.5 13.0,19.5 14.3,18.5 21.5,17.6 23.0,16.5 25.0,13.5 26.3,12.5 32.0,11.9 33.5,11.3 35.3,9.5 35.9,8.0ZM31.5,67.2 30.3,69.0 30.0,71.5 30.5,72.0 32.0,71.6 33.0,70.7 33.5,69.0 32.9,67.5ZM98.5,66.4 97.0,67.5 94.5,71.0 91.1,73.5 90.6,75.5 91.5,76.9 93.0,77.8 100.0,78.0 104.5,77.9 106.9,76.5 107.9,74.5 107.9,70.0 106.9,68.0 104.5,66.2 100.5,66.0ZM134.0,66.8 132.9,68.0 132.8,69.0 134.0,69.9 135.5,70.0 137.0,69.0 137.1,68.0 135.5,66.6ZM140.0,72.5 133.9,74.0 132.8,75.0 132.8,76.0 134.0,77.3 135.5,77.9 142.5,78.0 149.5,78.0 150.0,77.5 149.5,74.5 148.4,73.0 146.5,72.1 142.5,72.0ZM97.7,19.0 99.5,18.6 101.0,19.7 101.4,21.5 100.3,23.0 98.5,23.1 97.0,21.7 96.7,20.5ZM8.3,78.5 13.0,78.0 16.0,78.7 17.0,79.6 17.5,81.0 16.9,82.5 15.7,83.5 11.0,84.0 8.0,83.3 7.0,82.4 6.5,81.0 7.1,79.5ZM20.3,90.5 22.0,90.1 26.0,90.1 27.5,90.4 29.0,91.6 29.9,94.0 30.0,102.5 9.0,102.5 -1.0,102.5 -1.0,96.0 15.0,95.8 17.0,94.5 19.0,91.5ZM86.3,96.5 91.5,96.0 94.4,97.0 95.6,98.5 96.0,101.0 96.0,102.5 94.5,102.5 84.0,102.5 84.4,98.5Z"/>
<path fill="#FFF564" fill-rule="evenodd" d="M78.0,-1.0 96.0,-1.0 95.9,2.5 95.3,4.0 91.6,7.0 90.7,8.5 91.5,10.4 93.5,11.8 115.5,12.0 118.5,13.0 121.0,16.5 124.5,19.0 125.8,21.0 126.0,25.5 125.6,27.5 121.2,32.0 120.7,33.5 121.6,35.0 124.9,37.5 125.4,39.5 124.4,41.0 121.0,43.5 119.0,46.5 114.4,51.0 114.0,53.0 113.9,62.5 113.3,64.0 112.0,65.2 110.0,64.8 106.5,61.0 105.0,60.2 88.0,59.9 83.5,57.0 81.0,56.2 74.5,56.6 68.0,59.2 56.8,62.5 53.2,64.5 50.3,67.5 48.2,74.5 46.0,77.3 44.0,77.9 40.5,78.0 39.0,77.6 37.5,76.4 36.1,74.0 35.9,68.5 34.7,62.0 35.8,57.5 39.0,53.2 39.6,50.5 39.0,48.8 36.2,45.0 35.6,39.0 31.0,34.5 30.2,33.0 30.1,21.5 31.5,19.0 40.5,11.0 43.0,7.5 44.5,6.4 46.5,6.0 51.0,6.2 53.0,7.5 55.0,10.5 56.5,11.6 62.5,11.9 64.5,11.0 67.0,7.5 68.5,6.4 74.5,5.9 76.5,4.9 77.8,3.0ZM80.5,12.4 79.1,13.5 78.2,15.0 77.6,20.5 75.5,22.0 73.0,21.6 69.5,18.4 67.0,18.0 40.5,18.0 38.5,18.7 36.4,21.0 36.0,23.5 36.2,32.5 37.5,34.4 41.0,37.5 42.0,40.5 41.9,56.5 41.0,58.5 38.5,61.2 37.7,63.5 38.2,68.5 39.0,71.0 40.5,71.9 44.5,71.6 46.0,69.9 47.4,64.5 48.5,63.0 51.1,62.0 60.0,60.0 64.5,58.7 70.0,56.1 76.0,54.7 82.0,54.0 105.0,53.8 107.0,52.5 109.0,49.5 113.6,45.0 114.0,43.5 114.2,33.0 115.0,31.5 119.1,27.5 119.3,26.5 118.5,25.1 116.0,24.1 111.0,24.2 109.0,25.5 107.0,28.5 105.5,29.6 103.5,30.0 99.0,29.8 97.0,28.5 90.7,22.0 90.1,20.5 89.8,15.5 88.4,13.5 86.0,12.1ZM98.0,18.8 96.8,20.0 96.9,21.5 98.5,23.1 100.0,23.2 101.4,21.5 101.2,20.0 99.5,18.6ZM133.7,67.0 135.5,66.6 136.8,67.5 137.0,68.9 136.0,69.8 134.5,70.0 133.2,69.5 132.8,68.5Z"/>
<path fill="#FFFA00" fill-rule="evenodd" d="M80.3,12.5 85.5,12.0 87.0,12.4 88.4,13.5 89.8,15.5 90.1,20.5 90.7,22.0 97.0,28.5 99.0,29.8 103.5,30.0 105.5,29.6 107.0,28.5 109.0,25.5 111.0,24.2 116.0,24.1 118.5,25.1 119.3,26.5 119.1,27.5 115.0,31.5 114.2,33.0 114.0,43.5 113.6,45.0 109.0,49.5 107.0,52.5 105.0,53.8 82.0,54.0 76.0,54.7 70.0,56.1 64.5,58.7 60.5,59.9 51.1,62.0 48.5,63.0 47.4,64.5 46.0,69.9 44.5,71.6 40.5,71.9 39.0,71.0 38.2,68.5 37.7,63.5 38.5,61.2 41.0,58.5 41.9,56.5 42.0,40.5 41.0,37.5 37.5,34.4 36.2,32.5 36.0,23.5 36.4,21.0 38.5,18.7 40.5,18.0 67.0,18.0 69.5,18.4 73.0,21.6 75.5,22.0 77.6,20.5 78.2,15.0 79.1,13.5ZM80.5,24.4 73.8,26.0 69.0,29.8 58.0,30.1 56.5,30.4 55.0,31.6 54.1,33.5 53.6,39.0 45.7,47.5 44.3,51.0 45.0,53.7 47.5,58.6 50.0,59.8 54.0,59.6 61.8,58.0 69.5,54.7 82.4,51.5 84.3,50.5 89.0,46.5 90.0,43.5 90.0,34.5 89.6,32.5 88.5,31.0 85.0,28.5 82.5,25.1Z"/>
<path fill="#FFD200" fill-rule="evenodd" d="M80.1,24.5 82.5,25.1 85.0,28.5 88.5,31.0 89.6,32.5 90.0,34.5 90.0,43.5 89.0,46.5 84.3,50.5 82.4,51.5 69.5,54.7 61.8,58.0 54.5,59.5 50.5,59.8 47.5,58.6 45.0,53.7 44.3,51.0 45.7,47.5 53.6,39.0 54.1,33.5 55.0,31.6 56.5,30.4 58.0,30.1 69.0,29.8 73.8,26.0ZM67.5,36.0 63.5,36.1 61.5,37.0 51.7,47.0 48.6,51.0 49.5,56.0 51.0,57.6 57.0,57.5 62.6,56.0 68.0,53.6 77.5,50.5 82.0,46.9 83.3,45.0 82.9,43.5 79.5,41.0 76.0,36.7 74.0,36.1Z"/>
<path fill="#FFAA00" fill-rule="evenodd" d="M67.5,36.0 74.0,36.1 76.0,36.7 79.5,41.0 82.9,43.5 83.3,45.0 82.0,46.9 77.5,50.5 68.0,53.6 63.0,55.8 57.0,57.5 51.0,57.6 49.5,56.0 48.6,51.0 51.7,47.0 61.5,37.0 63.5,36.1ZM63.0,42.4 55.0,48.0 52.9,51.0 53.3,53.0 55.0,54.7 57.0,55.2 60.5,54.5 70.3,51.0 71.6,50.0 71.9,49.0 71.8,45.0 70.4,43.0 68.0,42.1Z"/>
<path fill="#FF7800" fill-rule="evenodd" d="M62.9,42.5 67.0,42.0 70.0,42.7 71.8,45.0 71.9,49.0 71.6,50.0 70.3,51.0 61.0,54.4 57.5,55.2 55.5,54.9 53.5,53.4 52.9,51.0 55.0,48.0ZM62.5,48.5 57.0,50.1 56.7,51.5 57.5,52.1 59.0,52.1 63.0,51.6 64.7,50.5 64.3,49.0Z"/>
<path fill="#FF4600" fill-rule="evenodd" d="M62.2,48.5 64.3,49.0 64.7,50.5 63.0,51.6 59.5,52.1 57.3,52.0 56.7,51.5 56.7,50.5 58.0,49.6Z"/>
<path fill="#FFFFFF" fill-rule="evenodd" d="M-1.0,-1.0 6.0,-1.0 5.8,3.0 4.4,5.0 2.5,5.9 -1.0,6.0ZM-1.0,12.0 2.5,12.1 4.4,13.0 7.0,16.5 10.5,19.0 14.0,23.3 16.0,23.9 20.5,24.1 22.5,25.1 23.5,27.0 22.5,28.9 20.5,29.9 17.5,30.0 9.0,30.2 7.0,31.5 4.0,35.3 2.5,35.9 -1.0,36.0ZM13.6,73.0 15.0,72.5 16.5,73.1 19.0,76.5 22.5,79.0 23.5,80.3 23.9,82.0 23.9,86.0 23.5,87.7 22.4,89.0 21.0,89.5 19.5,88.9 17.0,85.5 13.5,83.0 12.5,81.7 12.1,80.0 12.1,76.0 12.5,74.3ZM116.3,78.5 118.5,78.0 122.5,78.1 124.0,78.7 125.3,80.0 126.0,82.5 126.1,92.5 127.0,94.4 128.5,95.4 130.0,95.2 131.5,93.7 132.2,87.0 133.1,85.5 134.5,84.4 137.0,84.0 157.0,84.0 157.0,99.5 157.0,102.5 108.0,102.5 108.2,87.0 109.0,85.5 112.5,83.0 115.0,79.5ZM-1.0,84.5 -1.0,84.0 1.5,84.0 4.0,84.7 7.5,89.0 11.0,91.6 11.9,94.0 12.0,102.5 -1.0,102.5ZM86.3,84.5 88.5,84.0 98.5,84.1 100.4,85.0 101.4,86.5 101.2,88.0 99.5,89.6 93.5,90.1 91.1,91.5 90.1,93.5 90.0,99.0 90.0,102.5 78.0,102.5 78.4,98.5 79.5,97.0 83.3,94.0 83.9,92.0 84.2,87.0 85.1,85.5ZM26.3,96.5 31.5,96.0 34.4,97.0 35.8,99.0 36.0,102.5 34.0,102.5 24.0,102.5 24.4,98.5Z"/>

<polygon points="34.7,23.1 41.6,13.9 53.2,9.2 69.3,11.6 83.2,6.9 87.8,2.3 99.4,4.6 99.4,13.9 110.9,18.5 117.9,30.0 117.9,46.2 108.6,48.5 101.7,55.5 92.4,60.1 80.9,62.4 69.3,62.4 57.8,60.1 48.5,57.8 41.6,53.2 39.3,39.3 32.4,32.4" fill="url(#hatch)"/>
<use href="#geo" fill="none" stroke="#333" stroke-width="0.7" stroke-linejoin="round"/>
<use href="#coast" fill="none" stroke="#151515" stroke-width="1.0" stroke-linejoin="round"/>
<use href="#lotw"/>

</g>
<text x="346.7" y="406.6" transform="rotate(-90 346.7 406.6)" text-anchor="start" font-size="10.25" fill="#231f20">HRM3<tspan dx="1.5">_</tspan><tspan dx="1.5">GFDL</tspan></text>
<g transform="translate(519,323.5)" clip-path="url(#c33)">
<rect x="0" y="0" width="156" height="101.5" fill="#C8F0C8"/>
<path fill="#64C864" fill-rule="evenodd" d="M32.3,6.5 37.0,6.0 40.0,6.7 41.2,8.0 41.2,9.0 40.1,10.0 38.5,10.5 33.5,11.6 32.0,11.3 31.0,10.4 30.5,9.0 31.1,7.5ZM13.6,7.0 15.5,6.6 17.0,7.6 17.4,9.5 16.4,11.0 14.5,11.4 13.0,10.4 12.6,8.5Z"/>
<path fill="#FFFCC8" fill-rule="evenodd" d="M-1.0,-1.0 6.0,-1.0 5.9,14.0 5.6,15.5 4.5,16.9 2.5,17.9 -1.0,18.0ZM54.0,-1.0 66.0,-1.0 66.0,5.5 65.5,6.0 58.0,5.9 56.0,5.3 54.2,3.0ZM114.0,-1.0 126.0,-1.0 126.2,3.0 127.5,4.9 129.5,5.9 133.5,6.0 140.0,5.9 142.0,5.3 143.8,3.0 144.0,-1.0 157.0,-1.0 157.0,17.0 157.0,18.0 129.5,18.1 127.5,19.0 124.4,23.0 123.0,23.5 122.0,23.2 120.7,22.0 120.1,20.5 119.8,9.0 118.5,7.0 114.7,4.0 114.1,2.5ZM66.0,6.5 66.5,6.0 68.0,6.1 70.4,7.0 71.4,8.5 70.9,10.5 69.0,11.5 67.5,10.9 66.3,9.0ZM86.3,6.5 89.5,6.0 97.5,6.0 99.5,6.4 100.9,7.5 101.5,9.0 100.9,10.5 99.5,11.6 97.0,12.0 84.5,12.0 84.0,11.5 84.3,9.0 85.1,7.5ZM80.4,12.5 83.5,12.0 84.0,12.5 83.5,15.5 82.4,17.0 80.5,17.4 78.8,16.0 78.8,14.0ZM55.6,13.0 57.5,12.6 59.0,13.6 59.4,15.5 58.4,17.0 56.5,17.4 55.0,16.4 54.6,14.5ZM38.3,14.0 40.0,14.0 41.1,14.5 43.5,17.0 46.5,19.1 47.4,20.5 46.9,22.5 43.5,25.0 42.2,27.0 42.1,31.5 43.3,33.5 45.5,34.5 51.0,35.6 52.5,34.9 55.0,31.5 57.0,30.2 62.5,30.1 65.0,31.6 65.9,34.0 65.8,39.0 64.5,41.0 61.1,43.5 60.6,45.5 61.6,47.0 66.5,51.0 69.0,52.1 71.1,51.5 73.5,49.0 75.0,48.2 81.0,47.8 87.0,46.3 89.0,45.3 89.9,43.5 89.8,39.0 88.5,37.0 85.0,34.4 84.5,33.0 85.0,31.6 88.5,29.0 91.0,25.5 94.5,23.0 98.0,18.7 99.5,18.1 102.0,18.0 104.5,18.1 106.0,18.7 107.2,20.0 107.4,21.5 106.4,23.0 103.1,25.5 102.6,26.5 102.8,28.0 105.0,29.8 116.5,30.1 118.0,30.7 119.3,32.0 119.9,34.0 120.2,45.0 121.5,47.0 124.9,49.5 125.5,51.0 124.5,52.9 121.1,55.5 120.6,57.5 121.6,59.0 125.0,61.5 127.1,64.5 129.0,65.5 130.9,64.5 131.9,62.5 132.0,40.5 132.7,38.0 137.0,34.5 140.0,30.7 141.5,30.1 147.5,29.6 149.0,28.5 152.0,24.7 153.5,24.1 157.0,24.0 157.0,87.5 157.0,102.5 96.0,102.5 95.9,93.5 94.5,91.1 92.0,90.1 82.5,90.0 80.5,89.6 78.7,88.0 78.0,84.3 77.5,84.0 75.5,84.3 74.6,85.0 72.4,89.5 68.8,92.0 68.1,93.0 68.5,95.1 71.6,98.5 72.0,102.5 54.0,102.5 53.8,93.0 52.5,91.1 51.0,90.5 49.5,91.1 48.2,93.0 48.0,102.5 -1.0,102.5 -1.0,66.0 2.5,65.9 4.4,65.0 5.7,63.0 6.0,60.5 5.5,60.0 -1.0,60.0 -1.0,42.0 2.5,42.1 4.0,42.7 7.0,46.5 9.0,47.8 13.5,48.0 16.0,47.3 17.2,46.0 17.4,44.5 16.4,43.0 13.0,40.4 12.5,39.0 13.0,37.6 16.5,35.0 19.0,31.5 21.5,29.1 24.0,24.0 29.1,21.5 31.5,19.0ZM39.0,36.4 37.1,37.5 36.1,39.5 36.0,49.5 35.6,51.5 34.5,53.0 31.0,55.6 30.0,58.5 30.2,69.0 31.0,70.5 34.5,73.6 35.8,75.5 36.1,86.0 37.1,88.5 38.5,89.4 40.0,89.2 43.5,85.0 45.5,84.1 57.0,84.2 58.5,85.1 59.6,86.5 60.5,93.7 61.5,94.9 63.0,95.2 64.0,94.1 65.6,90.5 69.2,88.0 69.9,87.0 69.6,85.0 66.8,82.0 67.2,80.0 69.5,78.2 75.0,77.6 78.0,75.0 83.5,72.4 86.0,68.8 87.0,68.1 89.1,68.5 92.0,71.2 94.0,71.2 97.0,67.5 101.3,63.5 102.0,61.0 101.6,56.5 100.5,55.0 97.0,52.5 95.0,49.5 94.0,48.7 92.5,48.4 85.5,50.2 78.5,53.6 77.2,55.0 75.5,58.5 74.0,59.1 70.2,56.0 65.0,54.8 55.2,51.5 50.5,46.8 48.6,40.5 47.6,39.0 45.0,37.6ZM105.0,66.4 103.5,67.6 102.7,69.0 103.1,70.5 104.5,71.6 107.0,72.0 117.0,71.8 118.9,70.5 119.5,69.0 118.9,67.5 117.5,66.4 115.5,66.0 108.5,66.0ZM8.0,54.8 6.5,56.5 6.0,59.5 6.5,60.0 9.5,59.5 11.2,58.0 11.4,56.5 10.0,54.8ZM20.0,60.8 17.0,64.5 13.6,67.0 12.6,68.5 13.1,70.5 16.5,73.0 17.5,74.3 18.0,79.0 17.3,82.0 13.1,85.5 12.1,88.0 12.0,89.5 12.5,90.0 20.0,89.9 22.4,89.0 23.8,87.0 23.9,63.5 22.4,61.0 21.0,60.5ZM26.0,42.8 24.6,44.5 24.8,46.0 26.5,47.4 28.0,47.2 29.4,45.5 29.2,44.0 27.5,42.6ZM27.0,26.2 26.2,27.0 26.3,28.5 27.0,29.1 28.2,29.0 29.1,28.0 29.1,27.0 28.0,26.2ZM81.0,78.4 78.5,81.0 78.0,83.5 78.5,84.0 86.5,83.9 88.0,83.3 89.2,82.0 89.4,80.5 88.5,79.1 86.0,78.1ZM110.5,78.4 109.0,79.6 108.1,81.5 108.4,87.5 110.0,89.2 111.5,89.4 112.9,88.5 114.3,86.5 115.5,85.0 118.9,82.5 119.4,81.5 119.2,80.0 118.0,78.7 116.5,78.1ZM8.5,90.5 6.8,92.0 6.6,93.5 8.0,95.2 10.0,95.2 11.5,93.5 12.0,90.5 11.5,90.0ZM13.6,19.0 15.5,18.6 17.0,19.6 17.4,21.5 16.4,23.0 14.5,23.4 13.0,22.4 12.6,20.5Z"/>
<path fill="#FFF564" fill-rule="evenodd" d="M26.6,26.5 28.0,26.2 29.0,26.8 29.1,28.0 28.5,28.8 27.5,29.2 26.5,28.7 26.1,27.5ZM38.6,36.5 45.0,37.6 47.6,39.0 48.6,40.5 50.5,46.8 55.2,51.5 65.0,54.8 70.2,56.0 74.0,59.1 75.5,58.5 77.2,55.0 78.5,53.6 85.5,50.2 92.5,48.4 94.0,48.7 95.0,49.5 97.0,52.5 100.5,55.0 101.6,56.5 102.0,61.0 101.3,63.5 97.0,67.5 94.0,71.2 92.0,71.2 89.1,68.5 87.0,68.1 86.0,68.8 83.5,72.4 78.5,74.6 75.0,77.6 69.5,78.2 67.2,80.0 66.8,82.0 69.6,85.0 69.9,87.0 69.2,88.0 65.6,90.5 64.0,94.1 63.0,95.2 61.5,94.9 60.5,93.7 59.6,86.5 58.5,85.1 57.0,84.2 45.5,84.1 43.5,85.0 40.0,89.2 38.5,89.4 37.1,88.5 36.1,86.0 35.8,75.5 34.5,73.6 31.0,70.5 30.2,69.0 30.0,58.5 31.0,55.6 34.5,53.0 35.6,51.5 36.0,49.5 36.1,39.5 37.0,37.6ZM44.0,42.9 42.7,44.0 42.1,45.5 41.8,56.5 40.5,58.4 37.0,61.5 36.2,63.0 36.0,67.0 36.4,69.0 43.0,76.5 45.0,77.8 60.5,78.0 63.1,77.5 67.5,73.0 70.9,70.5 71.4,69.5 71.2,68.0 69.0,66.2 63.5,65.9 61.5,64.9 60.2,63.0 59.9,58.5 59.3,57.0 57.5,55.8 52.2,54.5 49.5,53.0 47.8,50.5 46.0,44.3 45.0,43.0ZM86.5,54.4 81.0,55.9 79.5,58.0 78.1,63.5 78.1,68.0 79.5,69.8 81.5,69.6 84.0,66.0 88.5,63.9 89.8,62.5 90.0,58.5 89.6,56.5 88.4,55.0Z"/>
<path fill="#FFFA00" fill-rule="evenodd" d="M43.8,43.0 45.0,43.0 45.9,44.0 47.8,50.5 49.5,53.0 52.2,54.5 57.5,55.8 59.3,57.0 59.9,58.5 60.2,63.0 61.5,64.9 63.5,65.9 69.0,66.2 71.2,68.0 71.4,69.5 70.9,70.5 67.5,73.0 63.5,77.3 61.0,78.0 45.0,77.8 43.0,76.5 36.4,69.0 36.0,67.0 36.2,63.0 37.0,61.5 40.5,58.4 41.8,56.5 42.1,45.5 42.7,44.0ZM45.0,60.4 43.0,62.1 41.6,64.0 40.8,67.0 40.8,69.0 42.0,71.0 44.5,72.9 46.3,73.0 48.0,72.0 50.4,67.0 53.2,64.0 53.4,62.5 52.5,61.1 51.0,60.2 47.0,60.0ZM86.1,54.5 88.0,54.7 89.6,56.5 90.0,58.5 89.8,62.5 88.5,63.9 84.0,66.0 81.6,69.5 80.5,70.0 79.5,69.8 78.1,68.0 78.1,63.5 79.5,58.0 81.0,55.9Z"/>
<path fill="#FFD200" fill-rule="evenodd" d="M44.9,60.5 47.0,60.0 51.0,60.2 52.5,61.1 53.4,62.5 53.2,64.0 50.4,67.0 48.0,72.0 46.3,73.0 44.5,72.9 42.0,71.0 40.8,69.0 40.8,67.0 41.6,64.0 43.0,62.1ZM44.5,68.0 44.6,69.0 45.5,69.1 45.5,67.7 45.0,67.5Z"/>
<path fill="#FFAA00" fill-rule="evenodd" d="M44.5,68.0 45.0,67.5 45.5,67.7 45.6,69.0 44.6,69.0Z"/>
<path fill="#FFFFFF" fill-rule="evenodd" d="M-1.0,-1.0 6.0,-1.0 5.8,3.0 4.4,5.0 2.5,5.9 -1.0,6.0ZM-1.0,12.0 2.5,12.1 4.0,12.7 7.0,16.5 10.5,19.0 11.6,20.5 12.0,24.0 11.6,27.5 10.5,29.0 7.5,31.0 4.0,35.3 2.5,35.9 -1.0,36.0ZM19.6,25.0 21.5,24.6 23.0,25.6 23.4,27.5 22.4,29.0 20.5,29.4 19.0,28.4 18.6,26.5ZM122.3,60.5 127.0,60.0 130.0,60.7 131.0,61.6 131.5,63.0 130.9,64.5 129.7,65.5 125.0,66.0 122.0,65.3 121.0,64.4 120.5,63.0 121.1,61.5ZM-1.0,72.0 7.5,72.0 10.0,72.7 13.5,77.0 17.0,79.5 19.5,83.0 23.0,85.5 24.0,88.5 24.0,102.5 -1.0,102.5ZM145.5,72.0 157.0,72.0 157.0,102.5 66.0,102.5 66.1,99.5 67.0,97.6 68.5,96.4 71.0,96.0 80.0,95.9 82.4,95.0 83.8,93.0 84.4,86.5 85.5,85.1 87.0,84.2 109.0,84.0 111.5,83.6 112.9,82.5 113.8,81.0 114.1,75.5 114.7,74.0 116.5,72.4 119.0,72.0 123.5,72.4 125.6,74.5 126.0,76.5 126.1,92.5 127.5,94.9 129.5,95.4 131.0,94.4 131.9,92.5 132.0,82.5 132.7,80.0 136.5,77.0 140.0,72.7 142.0,72.1ZM116.0,90.8 114.6,92.5 114.8,94.0 116.5,95.4 118.0,95.2 119.4,93.5 119.2,92.0 117.5,90.6Z"/>

<polygon points="32.4,67.0 34.7,58.9 41.6,54.3 53.2,54.3 60.1,56.6 58.9,64.7 50.8,69.3 39.3,70.5" fill="url(#hatch)"/>
<use href="#geo" fill="none" stroke="#333" stroke-width="0.7" stroke-linejoin="round"/>
<use href="#coast" fill="none" stroke="#151515" stroke-width="1.0" stroke-linejoin="round"/>
<use href="#lotw"/>

</g>
<text x="515.7" y="416.0" transform="rotate(-90 515.7 416.0)" text-anchor="start" font-size="10.25" fill="#231f20">HRM3<tspan dx="1.5">_</tspan><tspan dx="1.5">HADCM3</tspan></text>
<text x="172.6" y="11" text-anchor="middle" font-size="11" fill="#231f20">July</text>
<text x="511.5" y="11" text-anchor="middle" font-size="11" fill="#231f20">August</text>
<rect x="80.00" y="430.4" width="32.49" height="7.8" fill="#5C0090"/>
<rect x="112.49" y="430.4" width="32.49" height="7.8" fill="#3C00B4"/>
<rect x="144.98" y="430.4" width="32.49" height="7.8" fill="#0C00F0"/>
<rect x="177.47" y="430.4" width="32.49" height="7.8" fill="#0A28D2"/>
<rect x="209.96" y="430.4" width="32.49" height="7.8" fill="#0A6E6E"/>
<rect x="242.45" y="430.4" width="32.49" height="7.8" fill="#0AAA1E"/>
<rect x="274.94" y="430.4" width="32.49" height="7.8" fill="#64C864"/>
<rect x="307.43" y="430.4" width="32.49" height="7.8" fill="#C8F0C8"/>
<rect x="339.92" y="430.4" width="32.49" height="7.8" fill="#FFFCC8"/>
<rect x="372.41" y="430.4" width="32.49" height="7.8" fill="#FFF564"/>
<rect x="404.90" y="430.4" width="32.49" height="7.8" fill="#FFFA00"/>
<rect x="437.39" y="430.4" width="32.49" height="7.8" fill="#FFD200"/>
<rect x="469.88" y="430.4" width="32.49" height="7.8" fill="#FFAA00"/>
<rect x="502.37" y="430.4" width="32.49" height="7.8" fill="#FF7800"/>
<rect x="534.86" y="430.4" width="32.49" height="7.8" fill="#FF4600"/>
<rect x="567.35" y="430.4" width="32.49" height="7.8" fill="#FF0000"/>
<line x1="80.00" y1="430.4" x2="80.00" y2="438.2" stroke="#555" stroke-width="0.6"/>
<line x1="112.49" y1="430.4" x2="112.49" y2="438.2" stroke="#555" stroke-width="0.6"/>
<line x1="144.98" y1="430.4" x2="144.98" y2="438.2" stroke="#555" stroke-width="0.6"/>
<line x1="177.47" y1="430.4" x2="177.47" y2="438.2" stroke="#555" stroke-width="0.6"/>
<line x1="209.96" y1="430.4" x2="209.96" y2="438.2" stroke="#555" stroke-width="0.6"/>
<line x1="242.45" y1="430.4" x2="242.45" y2="438.2" stroke="#555" stroke-width="0.6"/>
<line x1="274.94" y1="430.4" x2="274.94" y2="438.2" stroke="#555" stroke-width="0.6"/>
<line x1="307.43" y1="430.4" x2="307.43" y2="438.2" stroke="#555" stroke-width="0.6"/>
<line x1="339.92" y1="430.4" x2="339.92" y2="438.2" stroke="#555" stroke-width="0.6"/>
<line x1="372.41" y1="430.4" x2="372.41" y2="438.2" stroke="#555" stroke-width="0.6"/>
<line x1="404.90" y1="430.4" x2="404.90" y2="438.2" stroke="#555" stroke-width="0.6"/>
<line x1="437.39" y1="430.4" x2="437.39" y2="438.2" stroke="#555" stroke-width="0.6"/>
<line x1="469.88" y1="430.4" x2="469.88" y2="438.2" stroke="#555" stroke-width="0.6"/>
<line x1="502.37" y1="430.4" x2="502.37" y2="438.2" stroke="#555" stroke-width="0.6"/>
<line x1="534.86" y1="430.4" x2="534.86" y2="438.2" stroke="#555" stroke-width="0.6"/>
<line x1="567.35" y1="430.4" x2="567.35" y2="438.2" stroke="#555" stroke-width="0.6"/>
<line x1="599.84" y1="430.4" x2="599.84" y2="438.2" stroke="#555" stroke-width="0.6"/>
<rect x="80.0" y="430.4" width="519.84" height="7.8" fill="none" stroke="#555" stroke-width="0.6"/>
<text x="112.49" y="451.6" text-anchor="middle" font-size="12" fill="#231f20">-21</text>
<text x="144.98" y="451.6" text-anchor="middle" font-size="12" fill="#231f20">-18</text>
<text x="177.47" y="451.6" text-anchor="middle" font-size="12" fill="#231f20">-15</text>
<text x="209.96" y="451.6" text-anchor="middle" font-size="12" fill="#231f20">-12</text>
<text x="242.45" y="451.6" text-anchor="middle" font-size="12" fill="#231f20">-9</text>
<text x="274.94" y="451.6" text-anchor="middle" font-size="12" fill="#231f20">-6</text>
<text x="307.43" y="451.6" text-anchor="middle" font-size="12" fill="#231f20">-3</text>
<text x="339.92" y="451.6" text-anchor="middle" font-size="12" fill="#231f20">0</text>
<text x="372.41" y="451.6" text-anchor="middle" font-size="12" fill="#231f20">3</text>
<text x="404.90" y="451.6" text-anchor="middle" font-size="12" fill="#231f20">6</text>
<text x="437.39" y="451.6" text-anchor="middle" font-size="12" fill="#231f20">9</text>
<text x="469.88" y="451.6" text-anchor="middle" font-size="12" fill="#231f20">12</text>
<text x="502.37" y="451.6" text-anchor="middle" font-size="12" fill="#231f20">15</text>
<text x="534.86" y="451.6" text-anchor="middle" font-size="12" fill="#231f20">18</text>
<text x="567.35" y="451.6" text-anchor="middle" font-size="12" fill="#231f20">21</text>
</svg>
</body></html>
